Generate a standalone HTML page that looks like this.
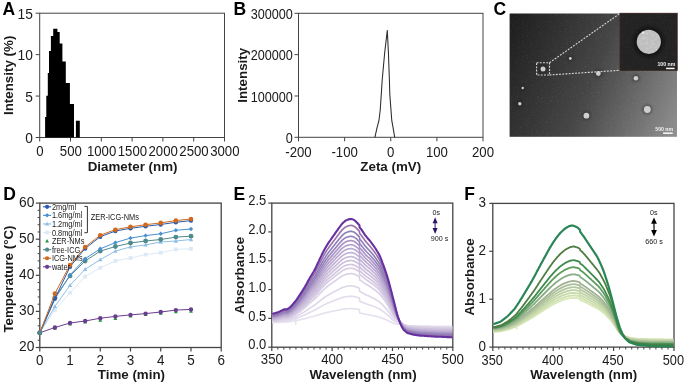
<!DOCTYPE html>
<html><head><meta charset="utf-8"><style>
html,body{margin:0;padding:0;background:#fff;}
svg{display:block;font-family:'Liberation Sans',sans-serif;will-change:transform;}
</style></head><body>
<svg width="685" height="385" viewBox="0 0 685 385" style="font-family:'Liberation Sans',sans-serif">
<rect width="685" height="385" fill="#fff"/>
<rect x="39.70" y="13.20" width="184.80" height="124.30" fill="none" stroke="#444" stroke-width="1"/>
<line x1="35.70" y1="137.50" x2="39.70" y2="137.50" stroke="#444" stroke-width="1"/>
<text x="0" y="0" font-size="13.9" text-anchor="end" font-weight="normal" fill="#1a1a1a"  transform="translate(32.80,143.19) scale(0.99,1)">0</text>
<line x1="35.70" y1="96.07" x2="39.70" y2="96.07" stroke="#444" stroke-width="1"/>
<text x="0" y="0" font-size="13.9" text-anchor="end" font-weight="normal" fill="#1a1a1a"  transform="translate(32.80,101.76) scale(0.99,1)">5</text>
<line x1="35.70" y1="54.63" x2="39.70" y2="54.63" stroke="#444" stroke-width="1"/>
<text x="0" y="0" font-size="13.9" text-anchor="end" font-weight="normal" fill="#1a1a1a"  transform="translate(32.80,60.33) scale(0.99,1)">10</text>
<line x1="35.70" y1="13.20" x2="39.70" y2="13.20" stroke="#444" stroke-width="1"/>
<text x="0" y="0" font-size="13.9" text-anchor="end" font-weight="normal" fill="#1a1a1a"  transform="translate(32.80,18.89) scale(0.99,1)">15</text>
<line x1="39.70" y1="137.50" x2="39.70" y2="141.50" stroke="#444" stroke-width="1"/>
<text x="0" y="0" font-size="13.9" text-anchor="middle" font-weight="normal" fill="#1a1a1a"  transform="translate(40.00,156.29) scale(0.95,1)">0</text>
<line x1="70.50" y1="137.50" x2="70.50" y2="141.50" stroke="#444" stroke-width="1"/>
<text x="0" y="0" font-size="13.9" text-anchor="middle" font-weight="normal" fill="#1a1a1a"  transform="translate(70.80,156.29) scale(0.95,1)">500</text>
<line x1="101.30" y1="137.50" x2="101.30" y2="141.50" stroke="#444" stroke-width="1"/>
<text x="0" y="0" font-size="13.9" text-anchor="middle" font-weight="normal" fill="#1a1a1a"  transform="translate(101.60,156.29) scale(0.95,1)">1000</text>
<line x1="132.10" y1="137.50" x2="132.10" y2="141.50" stroke="#444" stroke-width="1"/>
<text x="0" y="0" font-size="13.9" text-anchor="middle" font-weight="normal" fill="#1a1a1a"  transform="translate(132.40,156.29) scale(0.95,1)">1500</text>
<line x1="162.90" y1="137.50" x2="162.90" y2="141.50" stroke="#444" stroke-width="1"/>
<text x="0" y="0" font-size="13.9" text-anchor="middle" font-weight="normal" fill="#1a1a1a"  transform="translate(163.20,156.29) scale(0.95,1)">2000</text>
<line x1="193.70" y1="137.50" x2="193.70" y2="141.50" stroke="#444" stroke-width="1"/>
<text x="0" y="0" font-size="13.9" text-anchor="middle" font-weight="normal" fill="#1a1a1a"  transform="translate(194.00,156.29) scale(0.95,1)">2500</text>
<line x1="224.50" y1="137.50" x2="224.50" y2="141.50" stroke="#444" stroke-width="1"/>
<text x="0" y="0" font-size="13.9" text-anchor="middle" font-weight="normal" fill="#1a1a1a"  transform="translate(224.80,156.29) scale(0.95,1)">3000</text>
<text x="132.60" y="171.20" font-size="13.35" text-anchor="middle" font-weight="bold" fill="#1a1a1a" >Diameter (nm)</text>
<text x="0" y="0" font-size="13.35" font-weight="bold" text-anchor="middle" fill="#1a1a1a" transform="translate(13.40,75.35) rotate(-90)">Intensity (%)</text>
<text x="2.60" y="14.80" font-size="17.5" text-anchor="start" font-weight="bold" fill="#000" >A</text>
<path d="M45.10,137.50 L45.10,116.90 L46.30,116.90 L46.30,95.80 L47.80,95.80 L47.80,73.00 L49.00,73.00 L49.00,50.90 L50.90,50.90 L50.90,36.10 L53.20,36.10 L53.20,28.80 L57.40,28.80 L57.40,32.00 L59.70,32.00 L59.70,43.40 L62.40,43.40 L62.40,61.60 L65.80,61.60 L65.80,82.90 L69.90,82.90 L69.90,103.90 L74.00,103.90 L74.00,137.50 L75.90,137.50 L75.90,120.80 L79.80,120.80 L79.80,137.50 Z" fill="#000"/>
<rect x="298.50" y="13.30" width="184.50" height="124.00" fill="none" stroke="#444" stroke-width="1"/>
<line x1="294.50" y1="137.30" x2="298.50" y2="137.30" stroke="#444" stroke-width="1"/>
<text x="0" y="0" font-size="13.9" text-anchor="end" font-weight="normal" fill="#1a1a1a"  transform="translate(292.90,142.84) scale(0.91,1)">0</text>
<line x1="294.50" y1="95.97" x2="298.50" y2="95.97" stroke="#444" stroke-width="1"/>
<text x="0" y="0" font-size="13.9" text-anchor="end" font-weight="normal" fill="#1a1a1a"  transform="translate(292.90,101.51) scale(0.91,1)">100000</text>
<line x1="294.50" y1="54.63" x2="298.50" y2="54.63" stroke="#444" stroke-width="1"/>
<text x="0" y="0" font-size="13.9" text-anchor="end" font-weight="normal" fill="#1a1a1a"  transform="translate(292.90,60.18) scale(0.91,1)">200000</text>
<line x1="294.50" y1="13.30" x2="298.50" y2="13.30" stroke="#444" stroke-width="1"/>
<text x="0" y="0" font-size="13.9" text-anchor="end" font-weight="normal" fill="#1a1a1a"  transform="translate(292.90,18.84) scale(0.91,1)">300000</text>
<line x1="298.50" y1="137.30" x2="298.50" y2="141.30" stroke="#444" stroke-width="1"/>
<text x="0" y="0" font-size="13.9" text-anchor="middle" font-weight="normal" fill="#1a1a1a"  transform="translate(298.50,156.69) scale(0.95,1)">-200</text>
<line x1="344.62" y1="137.30" x2="344.62" y2="141.30" stroke="#444" stroke-width="1"/>
<text x="0" y="0" font-size="13.9" text-anchor="middle" font-weight="normal" fill="#1a1a1a"  transform="translate(344.62,156.69) scale(0.95,1)">-100</text>
<line x1="390.75" y1="137.30" x2="390.75" y2="141.30" stroke="#444" stroke-width="1"/>
<text x="0" y="0" font-size="13.9" text-anchor="middle" font-weight="normal" fill="#1a1a1a"  transform="translate(390.75,156.69) scale(0.95,1)">0</text>
<line x1="436.88" y1="137.30" x2="436.88" y2="141.30" stroke="#444" stroke-width="1"/>
<text x="0" y="0" font-size="13.9" text-anchor="middle" font-weight="normal" fill="#1a1a1a"  transform="translate(436.88,156.69) scale(0.95,1)">100</text>
<line x1="483.00" y1="137.30" x2="483.00" y2="141.30" stroke="#444" stroke-width="1"/>
<text x="0" y="0" font-size="13.9" text-anchor="middle" font-weight="normal" fill="#1a1a1a"  transform="translate(483.00,156.69) scale(0.95,1)">200</text>
<text x="390.75" y="170.60" font-size="13.35" text-anchor="middle" font-weight="bold" fill="#1a1a1a" >Zeta (mV)</text>
<text x="0" y="0" font-size="13.35" font-weight="bold" text-anchor="middle" fill="#1a1a1a" transform="translate(246.60,75.30) rotate(-90)">Intensity</text>
<text x="233.60" y="14.90" font-size="17.5" text-anchor="start" font-weight="bold" fill="#000" >B</text>
<polyline points="374.9,137.3 377.0,127.9 378.9,120.7 380.2,110.2 381.3,94.1 382.2,80.0 384.7,52.5 387.3,30.4 388.4,52.5 389.4,80.0 389.8,94.1 391.0,110.2 391.8,120.7 393.1,127.9 394.7,137.3" fill="none" stroke="#2a2a2a" stroke-width="1.05" stroke-linejoin="round" />
<rect x="39.80" y="203.10" width="181.40" height="144.40" fill="none" stroke="#444" stroke-width="1.3"/>
<line x1="35.80" y1="347.50" x2="39.80" y2="347.50" stroke="#444" stroke-width="1.2"/>
<text x="0" y="0" font-size="13.9" text-anchor="end" font-weight="normal" fill="#1a1a1a"  transform="translate(34.40,351.39) scale(0.99,1)">20</text>
<line x1="37.60" y1="340.28" x2="39.80" y2="340.28" stroke="#444" stroke-width="1"/>
<line x1="37.60" y1="333.06" x2="39.80" y2="333.06" stroke="#444" stroke-width="1"/>
<line x1="37.60" y1="325.84" x2="39.80" y2="325.84" stroke="#444" stroke-width="1"/>
<line x1="37.60" y1="318.62" x2="39.80" y2="318.62" stroke="#444" stroke-width="1"/>
<line x1="35.80" y1="311.40" x2="39.80" y2="311.40" stroke="#444" stroke-width="1.2"/>
<text x="0" y="0" font-size="13.9" text-anchor="end" font-weight="normal" fill="#1a1a1a"  transform="translate(34.40,315.29) scale(0.99,1)">30</text>
<line x1="37.60" y1="304.18" x2="39.80" y2="304.18" stroke="#444" stroke-width="1"/>
<line x1="37.60" y1="296.96" x2="39.80" y2="296.96" stroke="#444" stroke-width="1"/>
<line x1="37.60" y1="289.74" x2="39.80" y2="289.74" stroke="#444" stroke-width="1"/>
<line x1="37.60" y1="282.52" x2="39.80" y2="282.52" stroke="#444" stroke-width="1"/>
<line x1="35.80" y1="275.30" x2="39.80" y2="275.30" stroke="#444" stroke-width="1.2"/>
<text x="0" y="0" font-size="13.9" text-anchor="end" font-weight="normal" fill="#1a1a1a"  transform="translate(34.40,279.19) scale(0.99,1)">40</text>
<line x1="37.60" y1="268.08" x2="39.80" y2="268.08" stroke="#444" stroke-width="1"/>
<line x1="37.60" y1="260.86" x2="39.80" y2="260.86" stroke="#444" stroke-width="1"/>
<line x1="37.60" y1="253.64" x2="39.80" y2="253.64" stroke="#444" stroke-width="1"/>
<line x1="37.60" y1="246.42" x2="39.80" y2="246.42" stroke="#444" stroke-width="1"/>
<line x1="35.80" y1="239.20" x2="39.80" y2="239.20" stroke="#444" stroke-width="1.2"/>
<text x="0" y="0" font-size="13.9" text-anchor="end" font-weight="normal" fill="#1a1a1a"  transform="translate(34.40,243.09) scale(0.99,1)">50</text>
<line x1="37.60" y1="231.98" x2="39.80" y2="231.98" stroke="#444" stroke-width="1"/>
<line x1="37.60" y1="224.76" x2="39.80" y2="224.76" stroke="#444" stroke-width="1"/>
<line x1="37.60" y1="217.54" x2="39.80" y2="217.54" stroke="#444" stroke-width="1"/>
<line x1="37.60" y1="210.32" x2="39.80" y2="210.32" stroke="#444" stroke-width="1"/>
<line x1="35.80" y1="203.10" x2="39.80" y2="203.10" stroke="#444" stroke-width="1.2"/>
<text x="0" y="0" font-size="13.9" text-anchor="end" font-weight="normal" fill="#1a1a1a"  transform="translate(34.40,206.99) scale(0.99,1)">60</text>
<line x1="39.80" y1="347.50" x2="39.80" y2="351.50" stroke="#444" stroke-width="1.2"/>
<text x="0" y="0" font-size="13.9" text-anchor="middle" font-weight="normal" fill="#1a1a1a"  transform="translate(39.80,364.79) scale(0.97,1)">0</text>
<line x1="70.03" y1="347.50" x2="70.03" y2="351.50" stroke="#444" stroke-width="1.2"/>
<text x="0" y="0" font-size="13.9" text-anchor="middle" font-weight="normal" fill="#1a1a1a"  transform="translate(70.03,364.79) scale(0.97,1)">1</text>
<line x1="100.27" y1="347.50" x2="100.27" y2="351.50" stroke="#444" stroke-width="1.2"/>
<text x="0" y="0" font-size="13.9" text-anchor="middle" font-weight="normal" fill="#1a1a1a"  transform="translate(100.27,364.79) scale(0.97,1)">2</text>
<line x1="130.50" y1="347.50" x2="130.50" y2="351.50" stroke="#444" stroke-width="1.2"/>
<text x="0" y="0" font-size="13.9" text-anchor="middle" font-weight="normal" fill="#1a1a1a"  transform="translate(130.50,364.79) scale(0.97,1)">3</text>
<line x1="160.73" y1="347.50" x2="160.73" y2="351.50" stroke="#444" stroke-width="1.2"/>
<text x="0" y="0" font-size="13.9" text-anchor="middle" font-weight="normal" fill="#1a1a1a"  transform="translate(160.73,364.79) scale(0.97,1)">4</text>
<line x1="190.97" y1="347.50" x2="190.97" y2="351.50" stroke="#444" stroke-width="1.2"/>
<text x="0" y="0" font-size="13.9" text-anchor="middle" font-weight="normal" fill="#1a1a1a"  transform="translate(190.97,364.79) scale(0.97,1)">5</text>
<line x1="221.20" y1="347.50" x2="221.20" y2="351.50" stroke="#444" stroke-width="1.2"/>
<text x="0" y="0" font-size="13.9" text-anchor="middle" font-weight="normal" fill="#1a1a1a"  transform="translate(221.20,364.79) scale(0.97,1)">6</text>
<text x="131.40" y="379.20" font-size="13.35" text-anchor="middle" font-weight="bold" fill="#1a1a1a" >Time (min)</text>
<text x="0" y="0" font-size="13.3" font-weight="bold" text-anchor="middle" fill="#1a1a1a" transform="translate(12.80,279.00) rotate(-90)">Temperature (°C)</text>
<text x="3.20" y="199.90" font-size="17.5" text-anchor="start" font-weight="bold" fill="#000" >D</text>
<path d="M39.80,331.20 L41.70,334.70 L37.90,334.70Z" fill="#1f9a3a"/>
<path d="M54.92,326.30 L56.82,329.80 L53.02,329.80Z" fill="#1f9a3a"/>
<path d="M70.03,322.00 L71.93,325.50 L68.13,325.50Z" fill="#1f9a3a"/>
<path d="M85.15,320.00 L87.05,323.50 L83.25,323.50Z" fill="#1f9a3a"/>
<path d="M100.27,318.20 L102.17,321.70 L98.37,321.70Z" fill="#1f9a3a"/>
<path d="M115.38,316.60 L117.28,320.10 L113.48,320.10Z" fill="#1f9a3a"/>
<path d="M130.50,314.00 L132.40,317.50 L128.60,317.50Z" fill="#1f9a3a"/>
<path d="M145.62,312.60 L147.52,316.10 L143.72,316.10Z" fill="#1f9a3a"/>
<path d="M160.73,311.20 L162.63,314.70 L158.83,314.70Z" fill="#1f9a3a"/>
<path d="M175.85,309.80 L177.75,313.30 L173.95,313.30Z" fill="#1f9a3a"/>
<path d="M190.97,309.20 L192.87,312.70 L189.07,312.70Z" fill="#1f9a3a"/>
<polyline points="39.8,332.8 54.9,310.0 70.0,292.8 85.1,276.6 100.3,267.8 115.4,260.9 130.5,258.0 145.6,254.6 160.7,252.7 175.8,249.4 191.0,248.8" fill="none" stroke="#dde9f5" stroke-width="1.0" stroke-linejoin="round" />
<rect x="37.90" y="330.90" width="3.80" height="3.80" fill="#dde9f5"/>
<rect x="53.02" y="308.10" width="3.80" height="3.80" fill="#dde9f5"/>
<rect x="68.13" y="290.90" width="3.80" height="3.80" fill="#dde9f5"/>
<rect x="83.25" y="274.70" width="3.80" height="3.80" fill="#dde9f5"/>
<rect x="98.37" y="265.90" width="3.80" height="3.80" fill="#dde9f5"/>
<rect x="113.48" y="259.00" width="3.80" height="3.80" fill="#dde9f5"/>
<rect x="128.60" y="256.10" width="3.80" height="3.80" fill="#dde9f5"/>
<rect x="143.72" y="252.70" width="3.80" height="3.80" fill="#dde9f5"/>
<rect x="158.83" y="250.80" width="3.80" height="3.80" fill="#dde9f5"/>
<rect x="173.95" y="247.50" width="3.80" height="3.80" fill="#dde9f5"/>
<rect x="189.07" y="246.90" width="3.80" height="3.80" fill="#dde9f5"/>
<polyline points="39.8,332.8 54.9,306.4 70.0,285.3 85.1,269.3 100.3,259.6 115.4,251.1 130.5,246.9 145.6,244.9 160.7,242.0 175.8,241.0 191.0,239.5" fill="none" stroke="#8fc0e4" stroke-width="1.0" stroke-linejoin="round" />
<path d="M39.80,330.60 L42.00,334.45 L37.60,334.45Z" fill="#8fc0e4"/>
<path d="M54.92,304.20 L57.12,308.05 L52.72,308.05Z" fill="#8fc0e4"/>
<path d="M70.03,283.10 L72.23,286.95 L67.83,286.95Z" fill="#8fc0e4"/>
<path d="M85.15,267.10 L87.35,270.95 L82.95,270.95Z" fill="#8fc0e4"/>
<path d="M100.27,257.40 L102.47,261.25 L98.07,261.25Z" fill="#8fc0e4"/>
<path d="M115.38,248.90 L117.58,252.75 L113.18,252.75Z" fill="#8fc0e4"/>
<path d="M130.50,244.70 L132.70,248.55 L128.30,248.55Z" fill="#8fc0e4"/>
<path d="M145.62,242.70 L147.82,246.55 L143.42,246.55Z" fill="#8fc0e4"/>
<path d="M160.73,239.80 L162.93,243.65 L158.53,243.65Z" fill="#8fc0e4"/>
<path d="M175.85,238.80 L178.05,242.65 L173.65,242.65Z" fill="#8fc0e4"/>
<path d="M190.97,237.30 L193.17,241.15 L188.77,241.15Z" fill="#8fc0e4"/>
<polyline points="39.8,332.8 54.9,297.3 70.0,275.9 85.1,261.0 100.3,251.1 115.4,246.5 130.5,243.0 145.6,241.0 160.7,239.5 175.8,237.1 191.0,236.2" fill="none" stroke="#4f8a8b" stroke-width="1.0" stroke-linejoin="round" />
<circle cx="39.80" cy="332.80" r="2.42" fill="#4f8a8b"/>
<circle cx="54.92" cy="297.30" r="2.42" fill="#4f8a8b"/>
<circle cx="70.03" cy="275.90" r="2.42" fill="#4f8a8b"/>
<circle cx="85.15" cy="261.00" r="2.42" fill="#4f8a8b"/>
<circle cx="100.27" cy="251.10" r="2.42" fill="#4f8a8b"/>
<circle cx="115.38" cy="246.50" r="2.42" fill="#4f8a8b"/>
<circle cx="130.50" cy="243.00" r="2.42" fill="#4f8a8b"/>
<circle cx="145.62" cy="241.00" r="2.42" fill="#4f8a8b"/>
<circle cx="160.73" cy="239.50" r="2.42" fill="#4f8a8b"/>
<circle cx="175.85" cy="237.10" r="2.42" fill="#4f8a8b"/>
<circle cx="190.97" cy="236.20" r="2.42" fill="#4f8a8b"/>
<polyline points="39.8,332.8 54.9,299.0 70.0,275.0 85.1,258.7 100.3,248.8 115.4,242.6 130.5,238.1 145.6,235.6 160.7,233.8 175.8,230.3 191.0,229.0" fill="none" stroke="#4a8fd0" stroke-width="1.0" stroke-linejoin="round" />
<path d="M39.80,330.62 L41.98,332.80 L39.80,334.99 L37.61,332.80Z" fill="#4a8fd0"/>
<path d="M54.92,296.81 L57.10,299.00 L54.92,301.19 L52.73,299.00Z" fill="#4a8fd0"/>
<path d="M70.03,272.81 L72.22,275.00 L70.03,277.19 L67.85,275.00Z" fill="#4a8fd0"/>
<path d="M85.15,256.51 L87.33,258.70 L85.15,260.88 L82.96,258.70Z" fill="#4a8fd0"/>
<path d="M100.27,246.62 L102.45,248.80 L100.27,250.99 L98.08,248.80Z" fill="#4a8fd0"/>
<path d="M115.38,240.41 L117.57,242.60 L115.38,244.78 L113.20,242.60Z" fill="#4a8fd0"/>
<path d="M130.50,235.91 L132.69,238.10 L130.50,240.28 L128.31,238.10Z" fill="#4a8fd0"/>
<path d="M145.62,233.41 L147.80,235.60 L145.62,237.78 L143.43,235.60Z" fill="#4a8fd0"/>
<path d="M160.73,231.62 L162.92,233.80 L160.73,235.99 L158.55,233.80Z" fill="#4a8fd0"/>
<path d="M175.85,228.12 L178.03,230.30 L175.85,232.49 L173.66,230.30Z" fill="#4a8fd0"/>
<path d="M190.97,226.81 L193.15,229.00 L190.97,231.19 L188.78,229.00Z" fill="#4a8fd0"/>
<polyline points="39.8,332.8 54.9,327.5 70.0,323.0 85.1,321.0 100.3,318.2 115.4,316.4 130.5,314.9 145.6,313.6 160.7,312.0 175.8,310.1 191.0,309.4" fill="none" stroke="#6a3d8f" stroke-width="1.0" stroke-linejoin="round" />
<circle cx="39.80" cy="332.80" r="2.20" fill="#6a3d8f"/>
<circle cx="54.92" cy="327.50" r="2.20" fill="#6a3d8f"/>
<circle cx="70.03" cy="323.00" r="2.20" fill="#6a3d8f"/>
<circle cx="85.15" cy="321.00" r="2.20" fill="#6a3d8f"/>
<circle cx="100.27" cy="318.20" r="2.20" fill="#6a3d8f"/>
<circle cx="115.38" cy="316.40" r="2.20" fill="#6a3d8f"/>
<circle cx="130.50" cy="314.90" r="2.20" fill="#6a3d8f"/>
<circle cx="145.62" cy="313.60" r="2.20" fill="#6a3d8f"/>
<circle cx="160.73" cy="312.00" r="2.20" fill="#6a3d8f"/>
<circle cx="175.85" cy="310.10" r="2.20" fill="#6a3d8f"/>
<circle cx="190.97" cy="309.40" r="2.20" fill="#6a3d8f"/>
<polyline points="39.8,332.8 54.9,298.6 70.0,266.8 85.1,248.5 100.3,236.7 115.4,231.0 130.5,228.3 145.6,226.3 160.7,224.5 175.8,222.3 191.0,220.6" fill="none" stroke="#2a5caa" stroke-width="1.0" stroke-linejoin="round" />
<circle cx="39.80" cy="332.80" r="2.20" fill="#2a5caa"/>
<circle cx="54.92" cy="298.60" r="2.20" fill="#2a5caa"/>
<circle cx="70.03" cy="266.80" r="2.20" fill="#2a5caa"/>
<circle cx="85.15" cy="248.50" r="2.20" fill="#2a5caa"/>
<circle cx="100.27" cy="236.70" r="2.20" fill="#2a5caa"/>
<circle cx="115.38" cy="231.00" r="2.20" fill="#2a5caa"/>
<circle cx="130.50" cy="228.30" r="2.20" fill="#2a5caa"/>
<circle cx="145.62" cy="226.30" r="2.20" fill="#2a5caa"/>
<circle cx="160.73" cy="224.50" r="2.20" fill="#2a5caa"/>
<circle cx="175.85" cy="222.30" r="2.20" fill="#2a5caa"/>
<circle cx="190.97" cy="220.60" r="2.20" fill="#2a5caa"/>
<polyline points="39.8,332.8 54.9,293.6 70.0,265.0 85.1,247.0 100.3,235.2 115.4,229.7 130.5,226.8 145.6,224.7 160.7,222.9 175.8,220.6 191.0,219.0" fill="none" stroke="#d2691e" stroke-width="1.0" stroke-linejoin="round" />
<circle cx="39.80" cy="332.80" r="2.31" fill="#d2691e"/>
<circle cx="54.92" cy="293.60" r="2.31" fill="#d2691e"/>
<circle cx="70.03" cy="265.00" r="2.31" fill="#d2691e"/>
<circle cx="85.15" cy="247.00" r="2.31" fill="#d2691e"/>
<circle cx="100.27" cy="235.20" r="2.31" fill="#d2691e"/>
<circle cx="115.38" cy="229.70" r="2.31" fill="#d2691e"/>
<circle cx="130.50" cy="226.80" r="2.31" fill="#d2691e"/>
<circle cx="145.62" cy="224.70" r="2.31" fill="#d2691e"/>
<circle cx="160.73" cy="222.90" r="2.31" fill="#d2691e"/>
<circle cx="175.85" cy="220.60" r="2.31" fill="#d2691e"/>
<circle cx="190.97" cy="219.00" r="2.31" fill="#d2691e"/>
<circle cx="39.80" cy="332.80" r="2.42" fill="#4f8a8b"/>
<line x1="43.00" y1="206.80" x2="51.20" y2="206.80" stroke="#2a5caa" stroke-width="1.1"/>
<circle cx="47.10" cy="206.80" r="2.09" fill="#2a5caa"/>
<text x="0" y="0" font-size="8.6" text-anchor="start" font-weight="normal" fill="#1a1a1a"  transform="translate(51.90,209.80) scale(0.86,1)">2mg/ml</text>
<line x1="43.00" y1="215.37" x2="51.20" y2="215.37" stroke="#4a8fd0" stroke-width="1.1"/>
<path d="M47.10,213.19 L49.29,215.37 L47.10,217.56 L44.91,215.37Z" fill="#4a8fd0"/>
<text x="0" y="0" font-size="8.6" text-anchor="start" font-weight="normal" fill="#1a1a1a"  transform="translate(51.90,218.37) scale(0.86,1)">1.6mg/ml</text>
<line x1="43.00" y1="223.94" x2="51.20" y2="223.94" stroke="#8fc0e4" stroke-width="1.1"/>
<path d="M47.10,221.85 L49.19,225.51 L45.01,225.51Z" fill="#8fc0e4"/>
<text x="0" y="0" font-size="8.6" text-anchor="start" font-weight="normal" fill="#1a1a1a"  transform="translate(51.90,226.94) scale(0.86,1)">1.2mg/ml</text>
<line x1="43.00" y1="232.51" x2="51.20" y2="232.51" stroke="#dde9f5" stroke-width="1.1"/>
<rect x="45.30" y="230.71" width="3.61" height="3.61" fill="#dde9f5"/>
<text x="0" y="0" font-size="8.6" text-anchor="start" font-weight="normal" fill="#1a1a1a"  transform="translate(51.90,235.51) scale(0.86,1)">0.8mg/ml</text>
<path d="M47.10,238.99 L49.00,242.60 L45.20,242.60Z" fill="#1f9a3a"/>
<text x="0" y="0" font-size="8.6" text-anchor="start" font-weight="normal" fill="#1a1a1a"  transform="translate(51.90,244.08) scale(0.86,1)">ZER-NMs</text>
<line x1="43.00" y1="249.65" x2="51.20" y2="249.65" stroke="#4f8a8b" stroke-width="1.1"/>
<circle cx="47.10" cy="249.65" r="2.09" fill="#4f8a8b"/>
<text x="0" y="0" font-size="8.6" text-anchor="start" font-weight="normal" fill="#1a1a1a"  transform="translate(51.90,252.65) scale(0.86,1)">free-ICG</text>
<line x1="43.00" y1="258.22" x2="51.20" y2="258.22" stroke="#d2691e" stroke-width="1.1"/>
<circle cx="47.10" cy="258.22" r="2.09" fill="#d2691e"/>
<text x="0" y="0" font-size="8.6" text-anchor="start" font-weight="normal" fill="#1a1a1a"  transform="translate(51.90,261.22) scale(0.86,1)">ICG-NMs</text>
<line x1="43.00" y1="266.79" x2="51.20" y2="266.79" stroke="#6a3d8f" stroke-width="1.1"/>
<circle cx="47.10" cy="266.79" r="2.09" fill="#6a3d8f"/>
<text x="0" y="0" font-size="8.6" text-anchor="start" font-weight="normal" fill="#1a1a1a"  transform="translate(51.90,269.79) scale(0.86,1)">water</text>
<path d="M84.4,206.4 H87.4 V232.7 H84.4" fill="none" stroke="#333" stroke-width="1"/>
<text x="0" y="0" font-size="8.6" text-anchor="start" font-weight="normal" fill="#1a1a1a"  transform="translate(90.80,220.30) scale(0.86,1)">ZER-ICG-NMs</text>
<rect x="271.80" y="203.10" width="181.00" height="144.10" fill="none" stroke="#444" stroke-width="1.3"/>
<line x1="271.80" y1="347.20" x2="271.80" y2="351.00" stroke="#444" stroke-width="1.2"/>
<text x="0" y="0" font-size="13.9" text-anchor="middle" font-weight="normal" fill="#1a1a1a"  transform="translate(271.80,364.49) scale(0.95,1)">350</text>
<line x1="277.83" y1="347.20" x2="277.83" y2="349.60" stroke="#444" stroke-width="1"/>
<line x1="283.87" y1="347.20" x2="283.87" y2="349.60" stroke="#444" stroke-width="1"/>
<line x1="289.90" y1="347.20" x2="289.90" y2="349.60" stroke="#444" stroke-width="1"/>
<line x1="295.93" y1="347.20" x2="295.93" y2="349.60" stroke="#444" stroke-width="1"/>
<line x1="301.97" y1="347.20" x2="301.97" y2="349.60" stroke="#444" stroke-width="1"/>
<line x1="308.00" y1="347.20" x2="308.00" y2="349.60" stroke="#444" stroke-width="1"/>
<line x1="314.03" y1="347.20" x2="314.03" y2="349.60" stroke="#444" stroke-width="1"/>
<line x1="320.07" y1="347.20" x2="320.07" y2="349.60" stroke="#444" stroke-width="1"/>
<line x1="326.10" y1="347.20" x2="326.10" y2="349.60" stroke="#444" stroke-width="1"/>
<line x1="332.13" y1="347.20" x2="332.13" y2="351.00" stroke="#444" stroke-width="1.2"/>
<text x="0" y="0" font-size="13.9" text-anchor="middle" font-weight="normal" fill="#1a1a1a"  transform="translate(332.13,364.49) scale(0.95,1)">400</text>
<line x1="338.17" y1="347.20" x2="338.17" y2="349.60" stroke="#444" stroke-width="1"/>
<line x1="344.20" y1="347.20" x2="344.20" y2="349.60" stroke="#444" stroke-width="1"/>
<line x1="350.23" y1="347.20" x2="350.23" y2="349.60" stroke="#444" stroke-width="1"/>
<line x1="356.27" y1="347.20" x2="356.27" y2="349.60" stroke="#444" stroke-width="1"/>
<line x1="362.30" y1="347.20" x2="362.30" y2="349.60" stroke="#444" stroke-width="1"/>
<line x1="368.33" y1="347.20" x2="368.33" y2="349.60" stroke="#444" stroke-width="1"/>
<line x1="374.37" y1="347.20" x2="374.37" y2="349.60" stroke="#444" stroke-width="1"/>
<line x1="380.40" y1="347.20" x2="380.40" y2="349.60" stroke="#444" stroke-width="1"/>
<line x1="386.43" y1="347.20" x2="386.43" y2="349.60" stroke="#444" stroke-width="1"/>
<line x1="392.47" y1="347.20" x2="392.47" y2="351.00" stroke="#444" stroke-width="1.2"/>
<text x="0" y="0" font-size="13.9" text-anchor="middle" font-weight="normal" fill="#1a1a1a"  transform="translate(392.47,364.49) scale(0.95,1)">450</text>
<line x1="398.50" y1="347.20" x2="398.50" y2="349.60" stroke="#444" stroke-width="1"/>
<line x1="404.53" y1="347.20" x2="404.53" y2="349.60" stroke="#444" stroke-width="1"/>
<line x1="410.57" y1="347.20" x2="410.57" y2="349.60" stroke="#444" stroke-width="1"/>
<line x1="416.60" y1="347.20" x2="416.60" y2="349.60" stroke="#444" stroke-width="1"/>
<line x1="422.63" y1="347.20" x2="422.63" y2="349.60" stroke="#444" stroke-width="1"/>
<line x1="428.67" y1="347.20" x2="428.67" y2="349.60" stroke="#444" stroke-width="1"/>
<line x1="434.70" y1="347.20" x2="434.70" y2="349.60" stroke="#444" stroke-width="1"/>
<line x1="440.73" y1="347.20" x2="440.73" y2="349.60" stroke="#444" stroke-width="1"/>
<line x1="446.77" y1="347.20" x2="446.77" y2="349.60" stroke="#444" stroke-width="1"/>
<line x1="452.80" y1="347.20" x2="452.80" y2="351.00" stroke="#444" stroke-width="1.2"/>
<text x="0" y="0" font-size="13.9" text-anchor="middle" font-weight="normal" fill="#1a1a1a"  transform="translate(452.80,364.49) scale(0.95,1)">500</text>
<line x1="268.30" y1="347.20" x2="271.80" y2="347.20" stroke="#444" stroke-width="1.2"/>
<text x="0" y="0" font-size="13.9" text-anchor="end" font-weight="normal" fill="#1a1a1a"  transform="translate(266.20,349.39) scale(0.93,1)">0.0</text>
<line x1="268.30" y1="318.38" x2="271.80" y2="318.38" stroke="#444" stroke-width="1.2"/>
<text x="0" y="0" font-size="13.9" text-anchor="end" font-weight="normal" fill="#1a1a1a"  transform="translate(266.20,320.57) scale(0.93,1)">0.5</text>
<line x1="268.30" y1="289.56" x2="271.80" y2="289.56" stroke="#444" stroke-width="1.2"/>
<text x="0" y="0" font-size="13.9" text-anchor="end" font-weight="normal" fill="#1a1a1a"  transform="translate(266.20,291.75) scale(0.93,1)">1.0</text>
<line x1="268.30" y1="260.74" x2="271.80" y2="260.74" stroke="#444" stroke-width="1.2"/>
<text x="0" y="0" font-size="13.9" text-anchor="end" font-weight="normal" fill="#1a1a1a"  transform="translate(266.20,262.93) scale(0.93,1)">1.5</text>
<line x1="268.30" y1="231.92" x2="271.80" y2="231.92" stroke="#444" stroke-width="1.2"/>
<text x="0" y="0" font-size="13.9" text-anchor="end" font-weight="normal" fill="#1a1a1a"  transform="translate(266.20,234.11) scale(0.93,1)">2.0</text>
<line x1="268.30" y1="203.10" x2="271.80" y2="203.10" stroke="#444" stroke-width="1.2"/>
<text x="0" y="0" font-size="13.9" text-anchor="end" font-weight="normal" fill="#1a1a1a"  transform="translate(266.20,205.29) scale(0.93,1)">2.5</text>
<text x="363.10" y="378.90" font-size="13.35" text-anchor="middle" font-weight="bold" fill="#1a1a1a" >Wavelength (nm)</text>
<text x="0" y="0" font-size="13.35" font-weight="bold" text-anchor="middle" fill="#1a1a1a" transform="translate(243.60,275.40) rotate(-90)">Absorbance</text>
<text x="233.60" y="199.50" font-size="17.5" text-anchor="start" font-weight="bold" fill="#000" >E</text>
<line x1="285.2" y1="308.6" x2="285.2" y2="323.2" stroke="#d9cde7" stroke-width="1"/>
<line x1="295.8" y1="301.0" x2="295.8" y2="324.6" stroke="#ddd2ea" stroke-width="1"/>
<polyline points="272.3,322.6 272.8,322.6 273.3,322.6 273.8,322.5 274.3,322.5 274.8,322.5 275.3,322.5 275.8,322.5 276.3,322.4 276.8,322.4 277.3,322.4 277.8,322.4 278.3,322.3 278.8,322.3 279.3,322.3 279.8,322.2 280.3,322.2 280.8,322.2 281.3,322.1 281.8,322.1 282.3,322.1 282.8,322.0 283.3,322.0 283.8,321.9 284.3,321.9 284.8,321.9 285.3,321.9 285.8,321.9 286.3,321.9 286.8,321.9 287.3,321.9 287.8,321.9 288.3,321.8 288.8,321.8 289.3,321.7 289.8,321.6 290.3,321.6 290.8,321.5 291.3,321.4 291.8,321.4 292.3,321.3 292.8,321.2 293.3,321.1 293.8,321.0 294.3,320.9 294.8,320.8 295.3,320.7 295.8,320.6 296.3,320.5 296.8,320.4 297.3,320.3 297.8,320.2 298.3,320.1 298.8,320.0 299.3,319.9 299.8,319.8 300.3,319.7 300.8,319.6 301.3,319.5 301.8,319.3 302.3,319.2 302.8,319.1 303.3,319.0 303.8,318.9 304.3,318.8 304.8,318.6 305.3,318.5 305.8,318.4 306.3,318.2 306.8,318.1 307.3,318.0 307.8,317.8 308.3,317.7 308.8,317.6 309.3,317.4 309.8,317.3 310.3,317.2 310.8,317.1 311.3,316.9 311.8,316.8 312.3,316.7 312.8,316.6 313.3,316.4 313.8,316.3 314.3,316.2 314.8,316.1 315.3,315.9 315.8,315.8 316.3,315.6 316.8,315.4 317.3,315.3 317.8,315.1 318.3,315.0 318.8,314.8 319.3,314.6 319.8,314.5 320.3,314.3 320.8,314.2 321.3,314.0 321.8,313.9 322.3,313.7 322.8,313.6 323.3,313.4 323.8,313.3 324.3,313.2 324.8,313.0 325.3,312.9 325.8,312.8 326.3,312.6 326.8,312.5 327.3,312.4 327.8,312.3 328.3,312.2 328.8,312.1 329.3,311.9 329.8,311.8 330.3,311.7 330.8,311.6 331.3,311.5 331.8,311.4 332.3,311.3 332.8,311.2 333.3,311.1 333.8,311.0 334.3,310.9 334.8,310.8 335.3,310.7 335.8,310.6 336.3,310.5 336.8,310.4 337.3,310.3 337.8,310.2 338.3,310.1 338.8,310.0 339.3,309.9 339.8,309.8 340.3,309.7 340.8,309.6 341.3,309.5 341.8,309.4 342.3,309.3 342.8,309.2 343.3,309.1 343.8,309.1 344.3,309.0 344.8,308.9 345.3,308.9 345.8,308.8 346.3,308.8 346.8,308.8 347.3,308.7 347.8,308.7 348.3,308.7 348.8,308.7 349.3,308.6 349.8,308.6 350.3,308.6 350.8,308.6 351.3,308.6 351.8,308.6 352.3,308.6 352.8,308.7 353.3,308.7 353.8,308.7 354.3,308.8 354.8,308.8 355.3,308.9 355.8,308.9 356.3,309.0 356.8,309.1 357.3,309.2 357.8,309.3 358.3,309.3 358.8,309.4 359.3,309.5 359.8,313.1 360.3,313.1 360.8,313.2 361.3,313.3 361.8,313.4 362.3,313.5 362.8,313.6 363.3,313.7 363.8,313.9 364.3,314.0 364.8,314.1 365.3,314.2 365.8,314.3 366.3,314.4 366.8,314.5 367.3,314.5 367.8,314.6 368.3,314.7 368.8,314.8 369.3,314.9 369.8,315.0 370.3,315.1 370.8,315.2 371.3,315.3 371.8,315.4 372.3,315.5 372.8,315.6 373.3,315.7 373.8,315.8 374.3,315.9 374.8,316.0 375.3,316.1 375.8,316.2 376.3,316.3 376.8,316.4 377.3,316.6 377.8,316.7 378.3,316.8 378.8,316.9 379.3,317.1 379.8,317.2 380.3,317.4 380.8,317.6 381.3,317.8 381.8,318.0 382.3,318.2 382.8,318.4 383.3,318.6 383.8,318.8 384.3,319.0 384.8,319.2 385.3,319.4 385.8,319.6 386.3,319.8 386.8,320.0 387.3,320.3 387.8,320.5 388.3,320.8 388.8,321.0 389.3,321.3 389.8,321.6 390.3,321.8 390.8,322.1 391.3,322.3 391.8,322.6 392.3,322.8 392.8,323.0 393.3,323.2 393.8,323.4 394.3,323.6 394.8,323.7 395.3,323.8 395.8,323.9 396.3,324.0 396.8,324.0 397.3,324.1 397.8,324.1 398.3,324.1 398.8,324.2 399.3,324.3 399.8,324.4 400.3,324.5 400.8,324.6 401.3,324.7 401.8,324.8 402.3,324.9 402.8,325.1 403.3,325.2 403.8,325.2 404.3,325.3 404.8,325.4 405.3,325.4 405.8,325.5 406.3,325.5 406.8,325.6 407.3,325.6 407.8,325.7 408.3,325.7 408.8,325.7 409.3,325.7 409.8,325.8 410.3,325.8 410.8,325.8 411.3,325.8 411.8,325.8 412.3,325.9 412.8,325.9 413.3,325.9 413.8,325.9 414.3,325.9 414.8,325.9 415.3,326.0 415.8,326.0 416.3,326.0 416.8,326.0 417.3,326.0 417.8,326.0 418.3,326.0 418.8,326.0 419.3,326.0 419.8,326.0 420.3,326.0 420.8,326.1 421.3,326.1 421.8,326.1 422.3,326.1 422.8,326.1 423.3,326.1 423.8,326.1 424.3,326.1 424.8,326.1 425.3,326.1 425.8,326.1 426.3,326.1 426.8,326.1 427.3,326.1 427.8,326.1 428.3,326.1 428.8,326.1 429.3,326.1 429.8,326.1 430.3,326.2 430.8,326.2 431.3,326.2 431.8,326.2 432.3,326.2 432.8,326.2 433.3,326.2 433.8,326.2 434.3,326.2 434.8,326.2 435.3,326.2 435.8,326.2 436.3,326.2 436.8,326.2 437.3,326.2 437.8,326.2 438.3,326.2 438.8,326.2 439.3,326.2 439.8,326.2 440.3,326.2 440.8,326.2 441.3,326.2 441.8,326.2 442.3,326.2 442.8,326.2 443.3,326.2 443.8,326.2 444.3,326.3 444.8,326.3 445.3,326.3 445.8,326.3 446.3,326.3 446.8,326.3 447.3,326.3 447.8,326.3 448.3,326.3 448.8,326.3 449.3,326.3 449.8,326.3 450.3,326.3 450.8,326.3 451.3,326.3 451.8,326.3 452.3,326.3" fill="none" stroke="#e7e1ef" stroke-width="1.65" stroke-linejoin="round" />
<polyline points="272.3,322.1 272.8,322.1 273.3,322.1 273.8,322.0 274.3,322.0 274.8,321.9 275.3,321.9 275.8,321.9 276.3,321.8 276.8,321.8 277.3,321.7 277.8,321.7 278.3,321.6 278.8,321.6 279.3,321.5 279.8,321.5 280.3,321.4 280.8,321.3 281.3,321.3 281.8,321.2 282.3,321.1 282.8,321.1 283.3,321.0 283.8,320.9 284.3,320.9 284.8,320.9 285.3,320.9 285.8,320.9 286.3,320.9 286.8,320.9 287.3,320.8 287.8,320.8 288.3,320.7 288.8,320.6 289.3,320.5 289.8,320.4 290.3,320.3 290.8,320.1 291.3,320.0 291.8,319.8 292.3,319.7 292.8,319.5 293.3,319.4 293.8,319.2 294.3,319.0 294.8,318.9 295.3,318.7 295.8,318.5 296.3,318.3 296.8,318.2 297.3,318.0 297.8,317.8 298.3,317.6 298.8,317.4 299.3,317.2 299.8,317.0 300.3,316.8 300.8,316.5 301.3,316.3 301.8,316.1 302.3,315.9 302.8,315.7 303.3,315.5 303.8,315.3 304.3,315.0 304.8,314.8 305.3,314.6 305.8,314.3 306.3,314.1 306.8,313.8 307.3,313.6 307.8,313.3 308.3,313.1 308.8,312.8 309.3,312.6 309.8,312.4 310.3,312.1 310.8,311.9 311.3,311.7 311.8,311.4 312.3,311.2 312.8,311.0 313.3,310.8 313.8,310.5 314.3,310.3 314.8,310.1 315.3,309.8 315.8,309.5 316.3,309.2 316.8,308.9 317.3,308.6 317.8,308.3 318.3,308.0 318.8,307.7 319.3,307.5 319.8,307.2 320.3,306.9 320.8,306.6 321.3,306.3 321.8,306.1 322.3,305.8 322.8,305.5 323.3,305.2 323.8,305.0 324.3,304.7 324.8,304.5 325.3,304.2 325.8,304.0 326.3,303.8 326.8,303.5 327.3,303.3 327.8,303.1 328.3,302.9 328.8,302.7 329.3,302.5 329.8,302.3 330.3,302.1 330.8,301.9 331.3,301.7 331.8,301.5 332.3,301.3 332.8,301.1 333.3,300.9 333.8,300.7 334.3,300.5 334.8,300.3 335.3,300.1 335.8,300.0 336.3,299.8 336.8,299.6 337.3,299.4 337.8,299.2 338.3,299.0 338.8,298.8 339.3,298.6 339.8,298.4 340.3,298.2 340.8,298.1 341.3,297.9 341.8,297.7 342.3,297.5 342.8,297.4 343.3,297.3 343.8,297.1 344.3,297.0 344.8,296.9 345.3,296.8 345.8,296.7 346.3,296.7 346.8,296.6 347.3,296.5 347.8,296.5 348.3,296.4 348.8,296.4 349.3,296.4 349.8,296.3 350.3,296.3 350.8,296.3 351.3,296.3 351.8,296.3 352.3,296.4 352.8,296.4 353.3,296.5 353.8,296.5 354.3,296.6 354.8,296.7 355.3,296.8 355.8,296.9 356.3,297.1 356.8,297.2 357.3,297.4 357.8,297.5 358.3,297.7 358.8,297.8 359.3,297.9 359.8,301.5 360.3,301.6 360.8,301.7 361.3,301.9 361.8,302.1 362.3,302.3 362.8,302.5 363.3,302.7 363.8,302.9 364.3,303.1 364.8,303.3 365.3,303.5 365.8,303.7 366.3,303.9 366.8,304.0 367.3,304.2 367.8,304.3 368.3,304.5 368.8,304.7 369.3,304.8 369.8,305.0 370.3,305.2 370.8,305.3 371.3,305.5 371.8,305.7 372.3,305.9 372.8,306.1 373.3,306.2 373.8,306.4 374.3,306.6 374.8,306.8 375.3,307.0 375.8,307.2 376.3,307.5 376.8,307.7 377.3,307.9 377.8,308.1 378.3,308.4 378.8,308.6 379.3,308.9 379.8,309.1 380.3,309.5 380.8,309.8 381.3,310.1 381.8,310.5 382.3,310.9 382.8,311.2 383.3,311.6 383.8,311.9 384.3,312.3 384.8,312.7 385.3,313.1 385.8,313.5 386.3,313.9 386.8,314.3 387.3,314.8 387.8,315.2 388.3,315.7 388.8,316.2 389.3,316.7 389.8,317.1 390.3,317.6 390.8,318.1 391.3,318.6 391.8,319.1 392.3,319.5 392.8,320.0 393.3,320.4 393.8,320.7 394.3,321.1 394.8,321.4 395.3,321.7 395.8,321.9 396.3,322.1 396.8,322.2 397.3,322.4 397.8,322.5 398.3,322.7 398.8,322.9 399.3,323.1 399.8,323.3 400.3,323.5 400.8,323.7 401.3,324.0 401.8,324.2 402.3,324.4 402.8,324.6 403.3,324.8 403.8,325.0 404.3,325.1 404.8,325.2 405.3,325.3 405.8,325.4 406.3,325.5 406.8,325.6 407.3,325.7 407.8,325.8 408.3,325.8 408.8,325.9 409.3,325.9 409.8,325.9 410.3,326.0 410.8,326.0 411.3,326.0 411.8,326.1 412.3,326.1 412.8,326.2 413.3,326.2 413.8,326.2 414.3,326.2 414.8,326.3 415.3,326.3 415.8,326.3 416.3,326.3 416.8,326.3 417.3,326.4 417.8,326.4 418.3,326.4 418.8,326.4 419.3,326.4 419.8,326.5 420.3,326.5 420.8,326.5 421.3,326.5 421.8,326.5 422.3,326.5 422.8,326.5 423.3,326.5 423.8,326.5 424.3,326.5 424.8,326.5 425.3,326.6 425.8,326.6 426.3,326.6 426.8,326.6 427.3,326.6 427.8,326.6 428.3,326.6 428.8,326.6 429.3,326.6 429.8,326.6 430.3,326.6 430.8,326.7 431.3,326.7 431.8,326.7 432.3,326.7 432.8,326.7 433.3,326.7 433.8,326.7 434.3,326.7 434.8,326.7 435.3,326.7 435.8,326.7 436.3,326.7 436.8,326.8 437.3,326.8 437.8,326.8 438.3,326.8 438.8,326.8 439.3,326.8 439.8,326.8 440.3,326.8 440.8,326.8 441.3,326.8 441.8,326.8 442.3,326.8 442.8,326.8 443.3,326.8 443.8,326.8 444.3,326.8 444.8,326.8 445.3,326.8 445.8,326.9 446.3,326.9 446.8,326.9 447.3,326.9 447.8,326.9 448.3,326.9 448.8,326.9 449.3,326.9 449.8,326.9 450.3,326.9 450.8,326.9 451.3,326.9 451.8,326.9 452.3,326.9" fill="none" stroke="#e3dcec" stroke-width="1.65" stroke-linejoin="round" />
<polyline points="272.3,321.6 272.8,321.6 273.3,321.6 273.8,321.5 274.3,321.5 274.8,321.4 275.3,321.3 275.8,321.3 276.3,321.2 276.8,321.2 277.3,321.1 277.8,321.1 278.3,321.0 278.8,320.9 279.3,320.8 279.8,320.7 280.3,320.6 280.8,320.5 281.3,320.4 281.8,320.3 282.3,320.3 282.8,320.2 283.3,320.1 283.8,320.0 284.3,319.9 284.8,319.9 285.3,319.9 285.8,319.9 286.3,320.0 286.8,319.9 287.3,319.9 287.8,319.8 288.3,319.6 288.8,319.5 289.3,319.4 289.8,319.2 290.3,319.1 290.8,318.9 291.3,318.7 291.8,318.5 292.3,318.3 292.8,318.0 293.3,317.8 293.8,317.6 294.3,317.4 294.8,317.2 295.3,316.9 295.8,316.7 296.3,316.4 296.8,316.2 297.3,315.9 297.8,315.6 298.3,315.4 298.8,315.1 299.3,314.8 299.8,314.5 300.3,314.2 300.8,313.9 301.3,313.6 301.8,313.3 302.3,313.0 302.8,312.7 303.3,312.4 303.8,312.1 304.3,311.8 304.8,311.5 305.3,311.2 305.8,310.8 306.3,310.5 306.8,310.2 307.3,309.8 307.8,309.5 308.3,309.1 308.8,308.8 309.3,308.4 309.8,308.1 310.3,307.8 310.8,307.5 311.3,307.2 311.8,306.9 312.3,306.6 312.8,306.3 313.3,305.9 313.8,305.6 314.3,305.3 314.8,304.9 315.3,304.6 315.8,304.2 316.3,303.8 316.8,303.4 317.3,303.0 317.8,302.6 318.3,302.2 318.8,301.7 319.3,301.3 319.8,301.0 320.3,300.6 320.8,300.2 321.3,299.8 321.8,299.4 322.3,299.0 322.8,298.6 323.3,298.3 323.8,297.9 324.3,297.5 324.8,297.2 325.3,296.9 325.8,296.5 326.3,296.2 326.8,295.9 327.3,295.6 327.8,295.3 328.3,295.0 328.8,294.7 329.3,294.4 329.8,294.2 330.3,293.9 330.8,293.6 331.3,293.4 331.8,293.1 332.3,292.8 332.8,292.6 333.3,292.3 333.8,292.0 334.3,291.8 334.8,291.5 335.3,291.2 335.8,291.0 336.3,290.7 336.8,290.4 337.3,290.2 337.8,289.9 338.3,289.6 338.8,289.4 339.3,289.1 339.8,288.8 340.3,288.6 340.8,288.3 341.3,288.1 341.8,287.8 342.3,287.6 342.8,287.4 343.3,287.2 343.8,287.1 344.3,286.9 344.8,286.7 345.3,286.6 345.8,286.5 346.3,286.4 346.8,286.3 347.3,286.2 347.8,286.1 348.3,286.1 348.8,286.0 349.3,286.0 349.8,286.0 350.3,285.9 350.8,285.9 351.3,285.9 351.8,285.9 352.3,286.0 352.8,286.0 353.3,286.1 353.8,286.2 354.3,286.3 354.8,286.5 355.3,286.6 355.8,286.8 356.3,287.0 356.8,287.2 357.3,287.4 357.8,287.6 358.3,287.8 358.8,288.0 359.3,288.2 359.8,291.7 360.3,291.8 360.8,292.0 361.3,292.2 361.8,292.5 362.3,292.8 362.8,293.1 363.3,293.3 363.8,293.6 364.3,293.9 364.8,294.2 365.3,294.5 365.8,294.7 366.3,294.9 366.8,295.2 367.3,295.4 367.8,295.6 368.3,295.8 368.8,296.1 369.3,296.3 369.8,296.5 370.3,296.7 370.8,297.0 371.3,297.2 371.8,297.5 372.3,297.7 372.8,298.0 373.3,298.2 373.8,298.5 374.3,298.8 374.8,299.0 375.3,299.3 375.8,299.6 376.3,299.9 376.8,300.3 377.3,300.6 377.8,300.9 378.3,301.2 378.8,301.5 379.3,301.9 379.8,302.3 380.3,302.7 380.8,303.2 381.3,303.6 381.8,304.1 382.3,304.6 382.8,305.1 383.3,305.6 383.8,306.1 384.3,306.7 384.8,307.2 385.3,307.8 385.8,308.3 386.3,308.9 386.8,309.5 387.3,310.1 387.8,310.7 388.3,311.3 388.8,312.0 389.3,312.7 389.8,313.3 390.3,314.0 390.8,314.7 391.3,315.4 391.8,316.0 392.3,316.7 392.8,317.3 393.3,317.9 393.8,318.4 394.3,318.9 394.8,319.4 395.3,319.8 395.8,320.2 396.3,320.5 396.8,320.8 397.3,321.0 397.8,321.3 398.3,321.5 398.8,321.8 399.3,322.1 399.8,322.5 400.3,322.8 400.8,323.1 401.3,323.4 401.8,323.7 402.3,324.1 402.8,324.3 403.3,324.6 403.8,324.8 404.3,325.0 404.8,325.2 405.3,325.3 405.8,325.5 406.3,325.6 406.8,325.8 407.3,325.9 407.8,326.0 408.3,326.0 408.8,326.1 409.3,326.1 409.8,326.2 410.3,326.2 410.8,326.3 411.3,326.3 411.8,326.4 412.3,326.4 412.8,326.5 413.3,326.5 413.8,326.6 414.3,326.6 414.8,326.6 415.3,326.7 415.8,326.7 416.3,326.7 416.8,326.7 417.3,326.8 417.8,326.8 418.3,326.8 418.8,326.9 419.3,326.9 419.8,326.9 420.3,326.9 420.8,326.9 421.3,326.9 421.8,327.0 422.3,327.0 422.8,327.0 423.3,327.0 423.8,327.0 424.3,327.0 424.8,327.0 425.3,327.1 425.8,327.1 426.3,327.1 426.8,327.1 427.3,327.1 427.8,327.1 428.3,327.1 428.8,327.1 429.3,327.2 429.8,327.2 430.3,327.2 430.8,327.2 431.3,327.2 431.8,327.2 432.3,327.2 432.8,327.2 433.3,327.3 433.8,327.3 434.3,327.3 434.8,327.3 435.3,327.3 435.8,327.3 436.3,327.3 436.8,327.3 437.3,327.3 437.8,327.3 438.3,327.3 438.8,327.4 439.3,327.4 439.8,327.4 440.3,327.4 440.8,327.4 441.3,327.4 441.8,327.4 442.3,327.4 442.8,327.4 443.3,327.4 443.8,327.4 444.3,327.4 444.8,327.4 445.3,327.4 445.8,327.5 446.3,327.5 446.8,327.5 447.3,327.5 447.8,327.5 448.3,327.5 448.8,327.5 449.3,327.5 449.8,327.5 450.3,327.5 450.8,327.5 451.3,327.5 451.8,327.5 452.3,327.5" fill="none" stroke="#dfd7e9" stroke-width="1.65" stroke-linejoin="round" />
<polyline points="272.3,321.1 272.8,321.1 273.3,321.0 273.8,321.0 274.3,320.9 274.8,320.8 275.3,320.8 275.8,320.7 276.3,320.6 276.8,320.5 277.3,320.5 277.8,320.4 278.3,320.3 278.8,320.2 279.3,320.0 279.8,319.9 280.3,319.8 280.8,319.7 281.3,319.6 281.8,319.4 282.3,319.3 282.8,319.2 283.3,319.1 283.8,319.0 284.3,318.9 284.8,318.9 285.3,318.9 285.8,318.9 286.3,318.9 286.8,318.9 287.3,318.8 287.8,318.6 288.3,318.5 288.8,318.3 289.3,318.1 289.8,317.9 290.3,317.7 290.8,317.5 291.3,317.2 291.8,317.0 292.3,316.7 292.8,316.4 293.3,316.1 293.8,315.8 294.3,315.5 294.8,315.2 295.3,314.9 295.8,314.5 296.3,314.2 296.8,313.8 297.3,313.5 297.8,313.1 298.3,312.8 298.8,312.4 299.3,312.1 299.8,311.7 300.3,311.3 300.8,310.9 301.3,310.5 301.8,310.1 302.3,309.7 302.8,309.3 303.3,308.9 303.8,308.5 304.3,308.1 304.8,307.7 305.3,307.2 305.8,306.8 306.3,306.3 306.8,305.9 307.3,305.4 307.8,305.0 308.3,304.5 308.8,304.0 309.3,303.6 309.8,303.2 310.3,302.7 310.8,302.3 311.3,301.9 311.8,301.5 312.3,301.1 312.8,300.7 313.3,300.3 313.8,299.8 314.3,299.4 314.8,298.9 315.3,298.4 315.8,297.9 316.3,297.4 316.8,296.8 317.3,296.3 317.8,295.8 318.3,295.2 318.8,294.7 319.3,294.2 319.8,293.6 320.3,293.1 320.8,292.6 321.3,292.1 321.8,291.6 322.3,291.1 322.8,290.5 323.3,290.0 323.8,289.5 324.3,289.1 324.8,288.6 325.3,288.2 325.8,287.8 326.3,287.3 326.8,286.9 327.3,286.5 327.8,286.1 328.3,285.7 328.8,285.3 329.3,285.0 329.8,284.6 330.3,284.3 330.8,283.9 331.3,283.5 331.8,283.2 332.3,282.8 332.8,282.5 333.3,282.1 333.8,281.8 334.3,281.4 334.8,281.0 335.3,280.7 335.8,280.3 336.3,280.0 336.8,279.6 337.3,279.3 337.8,278.9 338.3,278.6 338.8,278.2 339.3,277.9 339.8,277.5 340.3,277.2 340.8,276.8 341.3,276.5 341.8,276.2 342.3,275.9 342.8,275.6 343.3,275.4 343.8,275.2 344.3,274.9 344.8,274.7 345.3,274.5 345.8,274.4 346.3,274.2 346.8,274.1 347.3,274.0 347.8,273.9 348.3,273.8 348.8,273.8 349.3,273.7 349.8,273.7 350.3,273.6 350.8,273.6 351.3,273.6 351.8,273.6 352.3,273.7 352.8,273.8 353.3,273.9 353.8,274.0 354.3,274.2 354.8,274.3 355.3,274.6 355.8,274.8 356.3,275.0 356.8,275.3 357.3,275.6 357.8,275.8 358.3,276.1 358.8,276.4 359.3,276.6 359.8,280.1 360.3,280.2 360.8,280.5 361.3,280.8 361.8,281.2 362.3,281.6 362.8,281.9 363.3,282.3 363.8,282.7 364.3,283.1 364.8,283.4 365.3,283.8 365.8,284.1 366.3,284.4 366.8,284.7 367.3,285.0 367.8,285.3 368.3,285.6 368.8,285.9 369.3,286.2 369.8,286.5 370.3,286.8 370.8,287.1 371.3,287.5 371.8,287.8 372.3,288.1 372.8,288.5 373.3,288.8 373.8,289.2 374.3,289.5 374.8,289.9 375.3,290.3 375.8,290.7 376.3,291.1 376.8,291.5 377.3,291.9 377.8,292.3 378.3,292.8 378.8,293.2 379.3,293.7 379.8,294.2 380.3,294.7 380.8,295.4 381.3,296.0 381.8,296.6 382.3,297.3 382.8,298.0 383.3,298.7 383.8,299.3 384.3,300.0 384.8,300.7 385.3,301.5 385.8,302.2 386.3,303.0 386.8,303.7 387.3,304.5 387.8,305.4 388.3,306.2 388.8,307.1 389.3,308.0 389.8,308.9 390.3,309.8 390.8,310.7 391.3,311.6 391.8,312.5 392.3,313.4 392.8,314.2 393.3,315.0 393.8,315.7 394.3,316.4 394.8,317.0 395.3,317.6 395.8,318.1 396.3,318.6 396.8,319.0 397.3,319.4 397.8,319.7 398.3,320.1 398.8,320.5 399.3,320.9 399.8,321.4 400.3,321.8 400.8,322.3 401.3,322.7 401.8,323.1 402.3,323.5 402.8,323.9 403.3,324.3 403.8,324.6 404.3,324.8 404.8,325.0 405.3,325.2 405.8,325.4 406.3,325.6 406.8,325.8 407.3,326.0 407.8,326.1 408.3,326.2 408.8,326.2 409.3,326.3 409.8,326.4 410.3,326.4 410.8,326.5 411.3,326.6 411.8,326.6 412.3,326.7 412.8,326.8 413.3,326.8 413.8,326.9 414.3,326.9 414.8,327.0 415.3,327.0 415.8,327.0 416.3,327.1 416.8,327.1 417.3,327.2 417.8,327.2 418.3,327.2 418.8,327.3 419.3,327.3 419.8,327.3 420.3,327.3 420.8,327.4 421.3,327.4 421.8,327.4 422.3,327.4 422.8,327.4 423.3,327.5 423.8,327.5 424.3,327.5 424.8,327.5 425.3,327.5 425.8,327.5 426.3,327.6 426.8,327.6 427.3,327.6 427.8,327.6 428.3,327.6 428.8,327.6 429.3,327.7 429.8,327.7 430.3,327.7 430.8,327.7 431.3,327.7 431.8,327.7 432.3,327.8 432.8,327.8 433.3,327.8 433.8,327.8 434.3,327.8 434.8,327.8 435.3,327.9 435.8,327.9 436.3,327.9 436.8,327.9 437.3,327.9 437.8,327.9 438.3,327.9 438.8,327.9 439.3,327.9 439.8,327.9 440.3,328.0 440.8,328.0 441.3,328.0 441.8,328.0 442.3,328.0 442.8,328.0 443.3,328.0 443.8,328.0 444.3,328.0 444.8,328.0 445.3,328.1 445.8,328.1 446.3,328.1 446.8,328.1 447.3,328.1 447.8,328.1 448.3,328.1 448.8,328.1 449.3,328.1 449.8,328.1 450.3,328.2 450.8,328.2 451.3,328.2 451.8,328.2 452.3,328.2" fill="none" stroke="#dad1e6" stroke-width="1.65" stroke-linejoin="round" />
<polyline points="272.3,320.6 272.8,320.6 273.3,320.5 273.8,320.5 274.3,320.4 274.8,320.3 275.3,320.2 275.8,320.1 276.3,320.1 276.8,320.0 277.3,319.9 277.8,319.8 278.3,319.7 278.8,319.6 279.3,319.4 279.8,319.3 280.3,319.2 280.8,319.0 281.3,318.9 281.8,318.8 282.3,318.6 282.8,318.5 283.3,318.4 283.8,318.2 284.3,318.2 284.8,318.1 285.3,318.1 285.8,318.2 286.3,318.2 286.8,318.2 287.3,318.1 287.8,317.9 288.3,317.7 288.8,317.5 289.3,317.3 289.8,317.1 290.3,316.9 290.8,316.6 291.3,316.3 291.8,316.0 292.3,315.7 292.8,315.4 293.3,315.1 293.8,314.7 294.3,314.4 294.8,314.1 295.3,313.7 295.8,313.4 296.3,313.0 296.8,312.6 297.3,312.2 297.8,311.8 298.3,311.4 298.8,311.0 299.3,310.6 299.8,310.2 300.3,309.8 300.8,309.3 301.3,308.9 301.8,308.5 302.3,308.0 302.8,307.6 303.3,307.2 303.8,306.7 304.3,306.3 304.8,305.8 305.3,305.3 305.8,304.8 306.3,304.3 306.8,303.8 307.3,303.3 307.8,302.8 308.3,302.3 308.8,301.8 309.3,301.3 309.8,300.8 310.3,300.4 310.8,299.9 311.3,299.4 311.8,299.0 312.3,298.5 312.8,298.1 313.3,297.6 313.8,297.1 314.3,296.7 314.8,296.2 315.3,295.6 315.8,295.0 316.3,294.4 316.8,293.8 317.3,293.2 317.8,292.6 318.3,292.1 318.8,291.5 319.3,290.9 319.8,290.3 320.3,289.7 320.8,289.2 321.3,288.6 321.8,288.0 322.3,287.5 322.8,286.9 323.3,286.3 323.8,285.8 324.3,285.3 324.8,284.8 325.3,284.3 325.8,283.8 326.3,283.3 326.8,282.9 327.3,282.4 327.8,282.0 328.3,281.5 328.8,281.1 329.3,280.7 329.8,280.4 330.3,280.0 330.8,279.6 331.3,279.2 331.8,278.8 332.3,278.4 332.8,278.0 333.3,277.6 333.8,277.2 334.3,276.8 334.8,276.4 335.3,276.0 335.8,275.6 336.3,275.2 336.8,274.8 337.3,274.5 337.8,274.1 338.3,273.7 338.8,273.3 339.3,272.9 339.8,272.5 340.3,272.2 340.8,271.8 341.3,271.4 341.8,271.1 342.3,270.7 342.8,270.4 343.3,270.2 343.8,269.9 344.3,269.7 344.8,269.4 345.3,269.2 345.8,269.1 346.3,268.9 346.8,268.8 347.3,268.7 347.8,268.6 348.3,268.5 348.8,268.4 349.3,268.3 349.8,268.3 350.3,268.2 350.8,268.2 351.3,268.2 351.8,268.2 352.3,268.3 352.8,268.4 353.3,268.5 353.8,268.7 354.3,268.8 354.8,269.0 355.3,269.2 355.8,269.5 356.3,269.8 356.8,270.1 357.3,270.4 357.8,270.7 358.3,271.0 358.8,271.3 359.3,271.5 359.8,274.9 360.3,275.1 360.8,275.4 361.3,275.7 361.8,276.1 362.3,276.6 362.8,277.0 363.3,277.4 363.8,277.8 364.3,278.2 364.8,278.6 365.3,279.0 365.8,279.4 366.3,279.7 366.8,280.1 367.3,280.4 367.8,280.7 368.3,281.0 368.8,281.4 369.3,281.7 369.8,282.0 370.3,282.4 370.8,282.7 371.3,283.1 371.8,283.5 372.3,283.8 372.8,284.2 373.3,284.6 373.8,285.0 374.3,285.3 374.8,285.7 375.3,286.2 375.8,286.6 376.3,287.1 376.8,287.5 377.3,288.0 377.8,288.4 378.3,288.9 378.8,289.4 379.3,289.9 379.8,290.5 380.3,291.1 380.8,291.8 381.3,292.5 381.8,293.2 382.3,293.9 382.8,294.7 383.3,295.4 383.8,296.2 384.3,296.9 384.8,297.7 385.3,298.5 385.8,299.4 386.3,300.2 386.8,301.0 387.3,301.9 387.8,302.8 388.3,303.8 388.8,304.8 389.3,305.8 389.8,306.8 390.3,307.7 390.8,308.7 391.3,309.7 391.8,310.7 392.3,311.7 392.8,312.6 393.3,313.5 393.8,314.4 394.3,315.2 394.8,315.9 395.3,316.6 395.8,317.2 396.3,317.8 396.8,318.3 397.3,318.8 397.8,319.2 398.3,319.7 398.8,320.1 399.3,320.7 399.8,321.2 400.3,321.7 400.8,322.2 401.3,322.7 401.8,323.2 402.3,323.7 402.8,324.1 403.3,324.5 403.8,324.8 404.3,325.1 404.8,325.3 405.3,325.5 405.8,325.8 406.3,326.0 406.8,326.2 407.3,326.4 407.8,326.5 408.3,326.6 408.8,326.7 409.3,326.8 409.8,326.8 410.3,326.9 410.8,327.0 411.3,327.1 411.8,327.1 412.3,327.2 412.8,327.3 413.3,327.3 413.8,327.4 414.3,327.5 414.8,327.5 415.3,327.5 415.8,327.6 416.3,327.6 416.8,327.7 417.3,327.7 417.8,327.7 418.3,327.8 418.8,327.8 419.3,327.8 419.8,327.9 420.3,327.9 420.8,327.9 421.3,328.0 421.8,328.0 422.3,328.0 422.8,328.0 423.3,328.0 423.8,328.0 424.3,328.1 424.8,328.1 425.3,328.1 425.8,328.1 426.3,328.1 426.8,328.2 427.3,328.2 427.8,328.2 428.3,328.2 428.8,328.2 429.3,328.3 429.8,328.3 430.3,328.3 430.8,328.3 431.3,328.3 431.8,328.3 432.3,328.4 432.8,328.4 433.3,328.4 433.8,328.4 434.3,328.4 434.8,328.5 435.3,328.5 435.8,328.5 436.3,328.5 436.8,328.5 437.3,328.5 437.8,328.5 438.3,328.5 438.8,328.5 439.3,328.6 439.8,328.6 440.3,328.6 440.8,328.6 441.3,328.6 441.8,328.6 442.3,328.6 442.8,328.6 443.3,328.6 443.8,328.7 444.3,328.7 444.8,328.7 445.3,328.7 445.8,328.7 446.3,328.7 446.8,328.7 447.3,328.7 447.8,328.7 448.3,328.8 448.8,328.8 449.3,328.8 449.8,328.8 450.3,328.8 450.8,328.8 451.3,328.8 451.8,328.8 452.3,328.8" fill="none" stroke="#d6cbe3" stroke-width="1.65" stroke-linejoin="round" />
<polyline points="272.3,320.1 272.8,320.1 273.3,320.0 273.8,320.0 274.3,319.9 274.8,319.8 275.3,319.7 275.8,319.6 276.3,319.5 276.8,319.4 277.3,319.3 277.8,319.2 278.3,319.1 278.8,319.0 279.3,318.9 279.8,318.7 280.3,318.6 280.8,318.4 281.3,318.3 281.8,318.1 282.3,318.0 282.8,317.9 283.3,317.7 283.8,317.6 284.3,317.5 284.8,317.5 285.3,317.5 285.8,317.5 286.3,317.5 286.8,317.5 287.3,317.4 287.8,317.2 288.3,317.0 288.8,316.8 289.3,316.6 289.8,316.4 290.3,316.1 290.8,315.9 291.3,315.6 291.8,315.2 292.3,314.9 292.8,314.6 293.3,314.2 293.8,313.9 294.3,313.5 294.8,313.2 295.3,312.8 295.8,312.4 296.3,312.0 296.8,311.6 297.3,311.2 297.8,310.8 298.3,310.4 298.8,309.9 299.3,309.5 299.8,309.1 300.3,308.6 300.8,308.1 301.3,307.7 301.8,307.2 302.3,306.8 302.8,306.3 303.3,305.8 303.8,305.4 304.3,304.9 304.8,304.4 305.3,303.9 305.8,303.4 306.3,302.8 306.8,302.3 307.3,301.7 307.8,301.2 308.3,300.7 308.8,300.1 309.3,299.6 309.8,299.1 310.3,298.6 310.8,298.1 311.3,297.6 311.8,297.2 312.3,296.7 312.8,296.2 313.3,295.7 313.8,295.2 314.3,294.7 314.8,294.2 315.3,293.6 315.8,293.0 316.3,292.3 316.8,291.7 317.3,291.1 317.8,290.4 318.3,289.8 318.8,289.2 319.3,288.6 319.8,287.9 320.3,287.3 320.8,286.7 321.3,286.1 321.8,285.5 322.3,284.9 322.8,284.3 323.3,283.7 323.8,283.2 324.3,282.6 324.8,282.1 325.3,281.6 325.8,281.1 326.3,280.6 326.8,280.1 327.3,279.6 327.8,279.1 328.3,278.7 328.8,278.2 329.3,277.8 329.8,277.4 330.3,277.0 330.8,276.6 331.3,276.1 331.8,275.7 332.3,275.3 332.8,274.9 333.3,274.5 333.8,274.1 334.3,273.6 334.8,273.2 335.3,272.8 335.8,272.4 336.3,272.0 336.8,271.6 337.3,271.1 337.8,270.7 338.3,270.3 338.8,269.9 339.3,269.5 339.8,269.1 340.3,268.7 340.8,268.3 341.3,267.9 341.8,267.5 342.3,267.2 342.8,266.9 343.3,266.6 343.8,266.3 344.3,266.1 344.8,265.8 345.3,265.6 345.8,265.4 346.3,265.3 346.8,265.1 347.3,265.0 347.8,264.9 348.3,264.8 348.8,264.7 349.3,264.6 349.8,264.6 350.3,264.5 350.8,264.5 351.3,264.5 351.8,264.5 352.3,264.6 352.8,264.7 353.3,264.9 353.8,265.0 354.3,265.2 354.8,265.4 355.3,265.6 355.8,265.9 356.3,266.2 356.8,266.5 357.3,266.8 357.8,267.1 358.3,267.5 358.8,267.8 359.3,268.0 359.8,271.3 360.3,271.5 360.8,271.8 361.3,272.2 361.8,272.7 362.3,273.1 362.8,273.5 363.3,274.0 363.8,274.4 364.3,274.8 364.8,275.3 365.3,275.7 365.8,276.1 366.3,276.5 366.8,276.8 367.3,277.2 367.8,277.5 368.3,277.8 368.8,278.2 369.3,278.5 369.8,278.9 370.3,279.2 370.8,279.6 371.3,280.0 371.8,280.4 372.3,280.8 372.8,281.2 373.3,281.6 373.8,282.0 374.3,282.4 374.8,282.8 375.3,283.3 375.8,283.8 376.3,284.2 376.8,284.7 377.3,285.2 377.8,285.7 378.3,286.2 378.8,286.7 379.3,287.3 379.8,287.9 380.3,288.5 380.8,289.2 381.3,290.0 381.8,290.7 382.3,291.5 382.8,292.3 383.3,293.1 383.8,293.9 384.3,294.7 384.8,295.5 385.3,296.4 385.8,297.3 386.3,298.2 386.8,299.1 387.3,300.0 387.8,301.0 388.3,302.0 388.8,303.0 389.3,304.1 389.8,305.1 390.3,306.2 390.8,307.3 391.3,308.3 391.8,309.4 392.3,310.4 392.8,311.5 393.3,312.4 393.8,313.4 394.3,314.3 394.8,315.1 395.3,315.9 395.8,316.6 396.3,317.3 396.8,317.9 397.3,318.5 397.8,319.0 398.3,319.5 398.8,320.1 399.3,320.7 399.8,321.3 400.3,321.9 400.8,322.4 401.3,323.0 401.8,323.5 402.3,324.0 402.8,324.5 403.3,324.9 403.8,325.2 404.3,325.5 404.8,325.8 405.3,326.0 405.8,326.2 406.3,326.5 406.8,326.7 407.3,326.9 407.8,327.0 408.3,327.1 408.8,327.2 409.3,327.3 409.8,327.4 410.3,327.5 410.8,327.5 411.3,327.6 411.8,327.7 412.3,327.8 412.8,327.8 413.3,327.9 413.8,328.0 414.3,328.0 414.8,328.1 415.3,328.1 415.8,328.2 416.3,328.2 416.8,328.2 417.3,328.3 417.8,328.3 418.3,328.4 418.8,328.4 419.3,328.4 419.8,328.5 420.3,328.5 420.8,328.5 421.3,328.6 421.8,328.6 422.3,328.6 422.8,328.6 423.3,328.6 423.8,328.7 424.3,328.7 424.8,328.7 425.3,328.7 425.8,328.7 426.3,328.8 426.8,328.8 427.3,328.8 427.8,328.8 428.3,328.8 428.8,328.9 429.3,328.9 429.8,328.9 430.3,328.9 430.8,328.9 431.3,328.9 431.8,329.0 432.3,329.0 432.8,329.0 433.3,329.0 433.8,329.0 434.3,329.1 434.8,329.1 435.3,329.1 435.8,329.1 436.3,329.1 436.8,329.1 437.3,329.1 437.8,329.2 438.3,329.2 438.8,329.2 439.3,329.2 439.8,329.2 440.3,329.2 440.8,329.2 441.3,329.2 441.8,329.3 442.3,329.3 442.8,329.3 443.3,329.3 443.8,329.3 444.3,329.3 444.8,329.3 445.3,329.3 445.8,329.3 446.3,329.4 446.8,329.4 447.3,329.4 447.8,329.4 448.3,329.4 448.8,329.4 449.3,329.4 449.8,329.4 450.3,329.4 450.8,329.5 451.3,329.5 451.8,329.5 452.3,329.5" fill="none" stroke="#d1c5df" stroke-width="1.65" stroke-linejoin="round" />
<polyline points="272.3,319.6 272.8,319.6 273.3,319.5 273.8,319.4 274.3,319.3 274.8,319.2 275.3,319.2 275.8,319.1 276.3,319.0 276.8,318.9 277.3,318.8 277.8,318.7 278.3,318.6 278.8,318.4 279.3,318.3 279.8,318.1 280.3,318.0 280.8,317.8 281.3,317.7 281.8,317.5 282.3,317.4 282.8,317.2 283.3,317.1 283.8,316.9 284.3,316.8 284.8,316.8 285.3,316.8 285.8,316.8 286.3,316.9 286.8,316.8 287.3,316.7 287.8,316.5 288.3,316.3 288.8,316.1 289.3,315.9 289.8,315.6 290.3,315.4 290.8,315.1 291.3,314.8 291.8,314.4 292.3,314.1 292.8,313.7 293.3,313.3 293.8,313.0 294.3,312.6 294.8,312.2 295.3,311.8 295.8,311.4 296.3,311.0 296.8,310.6 297.3,310.1 297.8,309.7 298.3,309.2 298.8,308.8 299.3,308.3 299.8,307.9 300.3,307.4 300.8,306.9 301.3,306.4 301.8,305.9 302.3,305.4 302.8,304.9 303.3,304.4 303.8,303.9 304.3,303.4 304.8,302.9 305.3,302.3 305.8,301.8 306.3,301.2 306.8,300.6 307.3,300.1 307.8,299.5 308.3,298.9 308.8,298.4 309.3,297.8 309.8,297.3 310.3,296.8 310.8,296.2 311.3,295.7 311.8,295.2 312.3,294.7 312.8,294.2 313.3,293.7 313.8,293.1 314.3,292.6 314.8,292.0 315.3,291.4 315.8,290.7 316.3,290.1 316.8,289.4 317.3,288.7 317.8,288.1 318.3,287.4 318.8,286.7 319.3,286.1 319.8,285.4 320.3,284.8 320.8,284.1 321.3,283.5 321.8,282.8 322.3,282.2 322.8,281.6 323.3,280.9 323.8,280.3 324.3,279.8 324.8,279.2 325.3,278.6 325.8,278.1 326.3,277.6 326.8,277.0 327.3,276.5 327.8,276.0 328.3,275.5 328.8,275.1 329.3,274.6 329.8,274.2 330.3,273.8 330.8,273.3 331.3,272.9 331.8,272.4 332.3,272.0 332.8,271.5 333.3,271.1 333.8,270.7 334.3,270.2 334.8,269.8 335.3,269.3 335.8,268.9 336.3,268.4 336.8,268.0 337.3,267.6 337.8,267.1 338.3,266.7 338.8,266.2 339.3,265.8 339.8,265.4 340.3,265.0 340.8,264.5 341.3,264.1 341.8,263.7 342.3,263.4 342.8,263.0 343.3,262.7 343.8,262.4 344.3,262.2 344.8,261.9 345.3,261.7 345.8,261.5 346.3,261.3 346.8,261.2 347.3,261.0 347.8,260.9 348.3,260.8 348.8,260.7 349.3,260.6 349.8,260.6 350.3,260.5 350.8,260.5 351.3,260.5 351.8,260.5 352.3,260.6 352.8,260.7 353.3,260.9 353.8,261.0 354.3,261.2 354.8,261.4 355.3,261.7 355.8,262.0 356.3,262.3 356.8,262.6 357.3,262.9 357.8,263.3 358.3,263.7 358.8,264.0 359.3,264.2 359.8,267.5 360.3,267.7 360.8,268.0 361.3,268.4 361.8,268.9 362.3,269.4 362.8,269.8 363.3,270.3 363.8,270.7 364.3,271.2 364.8,271.7 365.3,272.1 365.8,272.5 366.3,272.9 366.8,273.3 367.3,273.7 367.8,274.0 368.3,274.4 368.8,274.8 369.3,275.1 369.8,275.5 370.3,275.9 370.8,276.3 371.3,276.7 371.8,277.1 372.3,277.5 372.8,278.0 373.3,278.4 373.8,278.8 374.3,279.3 374.8,279.7 375.3,280.2 375.8,280.7 376.3,281.2 376.8,281.7 377.3,282.2 377.8,282.8 378.3,283.3 378.8,283.8 379.3,284.4 379.8,285.0 380.3,285.8 380.8,286.5 381.3,287.3 381.8,288.1 382.3,288.9 382.8,289.8 383.3,290.6 383.8,291.5 384.3,292.3 384.8,293.2 385.3,294.1 385.8,295.1 386.3,296.0 386.8,296.9 387.3,297.9 387.8,299.0 388.3,300.0 388.8,301.2 389.3,302.3 389.8,303.4 390.3,304.6 390.8,305.7 391.3,306.8 391.8,308.0 392.3,309.1 392.8,310.2 393.3,311.3 393.8,312.3 394.3,313.3 394.8,314.2 395.3,315.1 395.8,315.9 396.3,316.7 396.8,317.4 397.3,318.1 397.8,318.7 398.3,319.4 398.8,320.0 399.3,320.7 399.8,321.4 400.3,322.0 400.8,322.6 401.3,323.2 401.8,323.7 402.3,324.3 402.8,324.8 403.3,325.2 403.8,325.6 404.3,325.9 404.8,326.2 405.3,326.4 405.8,326.7 406.3,327.0 406.8,327.2 407.3,327.4 407.8,327.5 408.3,327.6 408.8,327.7 409.3,327.8 409.8,327.9 410.3,328.0 410.8,328.1 411.3,328.2 411.8,328.2 412.3,328.3 412.8,328.4 413.3,328.5 413.8,328.5 414.3,328.6 414.8,328.7 415.3,328.7 415.8,328.7 416.3,328.8 416.8,328.8 417.3,328.9 417.8,328.9 418.3,329.0 418.8,329.0 419.3,329.0 419.8,329.1 420.3,329.1 420.8,329.1 421.3,329.2 421.8,329.2 422.3,329.2 422.8,329.2 423.3,329.2 423.8,329.3 424.3,329.3 424.8,329.3 425.3,329.3 425.8,329.4 426.3,329.4 426.8,329.4 427.3,329.4 427.8,329.4 428.3,329.5 428.8,329.5 429.3,329.5 429.8,329.5 430.3,329.5 430.8,329.6 431.3,329.6 431.8,329.6 432.3,329.6 432.8,329.6 433.3,329.7 433.8,329.7 434.3,329.7 434.8,329.7 435.3,329.7 435.8,329.8 436.3,329.8 436.8,329.8 437.3,329.8 437.8,329.8 438.3,329.8 438.8,329.8 439.3,329.8 439.8,329.9 440.3,329.9 440.8,329.9 441.3,329.9 441.8,329.9 442.3,329.9 442.8,329.9 443.3,329.9 443.8,330.0 444.3,330.0 444.8,330.0 445.3,330.0 445.8,330.0 446.3,330.0 446.8,330.0 447.3,330.0 447.8,330.1 448.3,330.1 448.8,330.1 449.3,330.1 449.8,330.1 450.3,330.1 450.8,330.1 451.3,330.1 451.8,330.1 452.3,330.2" fill="none" stroke="#ccbfdc" stroke-width="1.65" stroke-linejoin="round" />
<polyline points="272.3,319.1 272.8,319.1 273.3,319.0 273.8,318.9 274.3,318.8 274.8,318.7 275.3,318.6 275.8,318.5 276.3,318.4 276.8,318.3 277.3,318.2 277.8,318.1 278.3,318.0 278.8,317.8 279.3,317.7 279.8,317.5 280.3,317.4 280.8,317.2 281.3,317.0 281.8,316.9 282.3,316.7 282.8,316.5 283.3,316.4 283.8,316.3 284.3,316.2 284.8,316.1 285.3,316.1 285.8,316.2 286.3,316.2 286.8,316.1 287.3,316.0 287.8,315.8 288.3,315.6 288.8,315.4 289.3,315.1 289.8,314.9 290.3,314.6 290.8,314.3 291.3,314.0 291.8,313.6 292.3,313.2 292.8,312.8 293.3,312.5 293.8,312.1 294.3,311.7 294.8,311.3 295.3,310.9 295.8,310.4 296.3,310.0 296.8,309.5 297.3,309.1 297.8,308.6 298.3,308.1 298.8,307.7 299.3,307.2 299.8,306.7 300.3,306.2 300.8,305.6 301.3,305.1 301.8,304.6 302.3,304.1 302.8,303.6 303.3,303.0 303.8,302.5 304.3,302.0 304.8,301.4 305.3,300.8 305.8,300.2 306.3,299.6 306.8,299.0 307.3,298.4 307.8,297.8 308.3,297.2 308.8,296.6 309.3,296.0 309.8,295.5 310.3,294.9 310.8,294.4 311.3,293.8 311.8,293.3 312.3,292.7 312.8,292.2 313.3,291.7 313.8,291.1 314.3,290.5 314.8,289.9 315.3,289.3 315.8,288.6 316.3,287.9 316.8,287.2 317.3,286.4 317.8,285.7 318.3,285.0 318.8,284.3 319.3,283.6 319.8,282.9 320.3,282.3 320.8,281.6 321.3,280.9 321.8,280.2 322.3,279.5 322.8,278.9 323.3,278.2 323.8,277.6 324.3,277.0 324.8,276.4 325.3,275.8 325.8,275.2 326.3,274.7 326.8,274.1 327.3,273.5 327.8,273.0 328.3,272.5 328.8,272.0 329.3,271.6 329.8,271.1 330.3,270.6 330.8,270.1 331.3,269.7 331.8,269.2 332.3,268.7 332.8,268.3 333.3,267.8 333.8,267.3 334.3,266.9 334.8,266.4 335.3,265.9 335.8,265.5 336.3,265.0 336.8,264.5 337.3,264.1 337.8,263.6 338.3,263.1 338.8,262.7 339.3,262.2 339.8,261.8 340.3,261.3 340.8,260.9 341.3,260.4 341.8,260.0 342.3,259.6 342.8,259.3 343.3,258.9 343.8,258.6 344.3,258.4 344.8,258.1 345.3,257.8 345.8,257.6 346.3,257.5 346.8,257.3 347.3,257.2 347.8,257.0 348.3,256.9 348.8,256.8 349.3,256.8 349.8,256.7 350.3,256.6 350.8,256.6 351.3,256.6 351.8,256.6 352.3,256.7 352.8,256.9 353.3,257.0 353.8,257.2 354.3,257.4 354.8,257.6 355.3,257.9 355.8,258.2 356.3,258.5 356.8,258.8 357.3,259.2 357.8,259.5 358.3,259.9 358.8,260.3 359.3,260.5 359.8,263.7 360.3,264.0 360.8,264.3 361.3,264.7 361.8,265.2 362.3,265.7 362.8,266.2 363.3,266.7 363.8,267.2 364.3,267.7 364.8,268.1 365.3,268.6 365.8,269.1 366.3,269.5 366.8,269.9 367.3,270.3 367.8,270.7 368.3,271.0 368.8,271.4 369.3,271.8 369.8,272.2 370.3,272.6 370.8,273.0 371.3,273.5 371.8,273.9 372.3,274.4 372.8,274.8 373.3,275.3 373.8,275.7 374.3,276.2 374.8,276.6 375.3,277.2 375.8,277.7 376.3,278.2 376.8,278.8 377.3,279.3 377.8,279.9 378.3,280.4 378.8,281.0 379.3,281.6 379.8,282.3 380.3,283.0 380.8,283.8 381.3,284.7 381.8,285.5 382.3,286.4 382.8,287.3 383.3,288.2 383.8,289.1 384.3,290.0 384.8,290.9 385.3,291.9 385.8,292.9 386.3,293.9 386.8,294.9 387.3,295.9 387.8,297.0 388.3,298.2 388.8,299.3 389.3,300.5 389.8,301.7 390.3,302.9 390.8,304.1 391.3,305.4 391.8,306.6 392.3,307.8 392.8,309.0 393.3,310.1 393.8,311.2 394.3,312.3 394.8,313.3 395.3,314.3 395.8,315.3 396.3,316.2 396.8,317.0 397.3,317.8 397.8,318.5 398.3,319.2 398.8,319.9 399.3,320.7 399.8,321.4 400.3,322.1 400.8,322.8 401.3,323.4 401.8,324.0 402.3,324.6 402.8,325.2 403.3,325.6 403.8,326.0 404.3,326.3 404.8,326.6 405.3,326.9 405.8,327.2 406.3,327.4 406.8,327.7 407.3,327.9 407.8,328.1 408.3,328.2 408.8,328.3 409.3,328.4 409.8,328.5 410.3,328.5 410.8,328.6 411.3,328.7 411.8,328.8 412.3,328.9 412.8,329.0 413.3,329.1 413.8,329.1 414.3,329.2 414.8,329.2 415.3,329.3 415.8,329.3 416.3,329.4 416.8,329.4 417.3,329.5 417.8,329.5 418.3,329.6 418.8,329.6 419.3,329.7 419.8,329.7 420.3,329.7 420.8,329.8 421.3,329.8 421.8,329.8 422.3,329.8 422.8,329.9 423.3,329.9 423.8,329.9 424.3,329.9 424.8,329.9 425.3,330.0 425.8,330.0 426.3,330.0 426.8,330.0 427.3,330.1 427.8,330.1 428.3,330.1 428.8,330.1 429.3,330.1 429.8,330.2 430.3,330.2 430.8,330.2 431.3,330.2 431.8,330.2 432.3,330.3 432.8,330.3 433.3,330.3 433.8,330.3 434.3,330.4 434.8,330.4 435.3,330.4 435.8,330.4 436.3,330.4 436.8,330.4 437.3,330.5 437.8,330.5 438.3,330.5 438.8,330.5 439.3,330.5 439.8,330.5 440.3,330.5 440.8,330.5 441.3,330.6 441.8,330.6 442.3,330.6 442.8,330.6 443.3,330.6 443.8,330.6 444.3,330.6 444.8,330.6 445.3,330.7 445.8,330.7 446.3,330.7 446.8,330.7 447.3,330.7 447.8,330.7 448.3,330.7 448.8,330.7 449.3,330.8 449.8,330.8 450.3,330.8 450.8,330.8 451.3,330.8 451.8,330.8 452.3,330.8" fill="none" stroke="#c7b9d9" stroke-width="1.65" stroke-linejoin="round" />
<polyline points="272.3,318.6 272.8,318.5 273.3,318.4 273.8,318.3 274.3,318.2 274.8,318.1 275.3,318.0 275.8,317.9 276.3,317.8 276.8,317.7 277.3,317.6 277.8,317.5 278.3,317.4 278.8,317.2 279.3,317.1 279.8,316.9 280.3,316.7 280.8,316.5 281.3,316.4 281.8,316.2 282.3,316.0 282.8,315.9 283.3,315.7 283.8,315.6 284.3,315.5 284.8,315.4 285.3,315.4 285.8,315.5 286.3,315.5 286.8,315.4 287.3,315.3 287.8,315.1 288.3,314.9 288.8,314.6 289.3,314.4 289.8,314.1 290.3,313.8 290.8,313.5 291.3,313.2 291.8,312.8 292.3,312.4 292.8,312.0 293.3,311.6 293.8,311.1 294.3,310.7 294.8,310.3 295.3,309.9 295.8,309.4 296.3,308.9 296.8,308.5 297.3,308.0 297.8,307.5 298.3,307.0 298.8,306.5 299.3,306.0 299.8,305.4 300.3,304.9 300.8,304.4 301.3,303.8 301.8,303.3 302.3,302.7 302.8,302.2 303.3,301.6 303.8,301.1 304.3,300.5 304.8,299.9 305.3,299.3 305.8,298.7 306.3,298.0 306.8,297.4 307.3,296.8 307.8,296.1 308.3,295.5 308.8,294.8 309.3,294.2 309.8,293.6 310.3,293.0 310.8,292.5 311.3,291.9 311.8,291.3 312.3,290.7 312.8,290.2 313.3,289.6 313.8,289.0 314.3,288.4 314.8,287.8 315.3,287.1 315.8,286.3 316.3,285.6 316.8,284.9 317.3,284.1 317.8,283.4 318.3,282.6 318.8,281.9 319.3,281.1 319.8,280.4 320.3,279.7 320.8,279.0 321.3,278.2 321.8,277.5 322.3,276.8 322.8,276.1 323.3,275.4 323.8,274.7 324.3,274.1 324.8,273.5 325.3,272.8 325.8,272.2 326.3,271.7 326.8,271.1 327.3,270.5 327.8,269.9 328.3,269.4 328.8,268.9 329.3,268.4 329.8,267.9 330.3,267.4 330.8,266.9 331.3,266.4 331.8,265.9 332.3,265.4 332.8,264.9 333.3,264.4 333.8,263.9 334.3,263.4 334.8,262.9 335.3,262.4 335.8,261.9 336.3,261.5 336.8,261.0 337.3,260.5 337.8,260.0 338.3,259.5 338.8,259.0 339.3,258.5 339.8,258.0 340.3,257.6 340.8,257.1 341.3,256.6 341.8,256.2 342.3,255.8 342.8,255.4 343.3,255.1 343.8,254.8 344.3,254.4 344.8,254.2 345.3,253.9 345.8,253.7 346.3,253.5 346.8,253.3 347.3,253.2 347.8,253.1 348.3,252.9 348.8,252.8 349.3,252.8 349.8,252.7 350.3,252.6 350.8,252.6 351.3,252.6 351.8,252.6 352.3,252.7 352.8,252.9 353.3,253.0 353.8,253.2 354.3,253.4 354.8,253.6 355.3,253.9 355.8,254.2 356.3,254.6 356.8,254.9 357.3,255.3 357.8,255.7 358.3,256.1 358.8,256.5 359.3,256.8 359.8,259.9 360.3,260.1 360.8,260.5 361.3,260.9 361.8,261.4 362.3,262.0 362.8,262.5 363.3,263.0 363.8,263.5 364.3,264.0 364.8,264.5 365.3,265.0 365.8,265.5 366.3,265.9 366.8,266.4 367.3,266.8 367.8,267.2 368.3,267.6 368.8,268.0 369.3,268.4 369.8,268.8 370.3,269.3 370.8,269.7 371.3,270.2 371.8,270.6 372.3,271.1 372.8,271.6 373.3,272.0 373.8,272.5 374.3,273.0 374.8,273.5 375.3,274.0 375.8,274.6 376.3,275.2 376.8,275.7 377.3,276.3 377.8,276.9 378.3,277.5 378.8,278.1 379.3,278.7 379.8,279.5 380.3,280.3 380.8,281.1 381.3,282.0 381.8,282.9 382.3,283.8 382.8,284.7 383.3,285.7 383.8,286.6 384.3,287.6 384.8,288.6 385.3,289.6 385.8,290.6 386.3,291.7 386.8,292.8 387.3,293.9 387.8,295.0 388.3,296.2 388.8,297.5 389.3,298.7 389.8,300.0 390.3,301.3 390.8,302.6 391.3,303.9 391.8,305.1 392.3,306.4 392.8,307.7 393.3,308.9 393.8,310.1 394.3,311.3 394.8,312.5 395.3,313.6 395.8,314.6 396.3,315.6 396.8,316.6 397.3,317.4 397.8,318.2 398.3,319.0 398.8,319.9 399.3,320.7 399.8,321.5 400.3,322.3 400.8,323.0 401.3,323.6 401.8,324.3 402.3,324.9 402.8,325.5 403.3,326.0 403.8,326.4 404.3,326.8 404.8,327.1 405.3,327.4 405.8,327.7 406.3,327.9 406.8,328.2 407.3,328.4 407.8,328.6 408.3,328.7 408.8,328.8 409.3,328.9 409.8,329.0 410.3,329.1 410.8,329.2 411.3,329.3 411.8,329.4 412.3,329.5 412.8,329.6 413.3,329.7 413.8,329.7 414.3,329.8 414.8,329.8 415.3,329.9 415.8,329.9 416.3,330.0 416.8,330.0 417.3,330.1 417.8,330.1 418.3,330.2 418.8,330.2 419.3,330.3 419.8,330.3 420.3,330.4 420.8,330.4 421.3,330.4 421.8,330.4 422.3,330.5 422.8,330.5 423.3,330.5 423.8,330.5 424.3,330.6 424.8,330.6 425.3,330.6 425.8,330.6 426.3,330.7 426.8,330.7 427.3,330.7 427.8,330.7 428.3,330.7 428.8,330.8 429.3,330.8 429.8,330.8 430.3,330.8 430.8,330.9 431.3,330.9 431.8,330.9 432.3,330.9 432.8,331.0 433.3,331.0 433.8,331.0 434.3,331.0 434.8,331.0 435.3,331.1 435.8,331.1 436.3,331.1 436.8,331.1 437.3,331.1 437.8,331.1 438.3,331.1 438.8,331.2 439.3,331.2 439.8,331.2 440.3,331.2 440.8,331.2 441.3,331.2 441.8,331.2 442.3,331.3 442.8,331.3 443.3,331.3 443.8,331.3 444.3,331.3 444.8,331.3 445.3,331.3 445.8,331.4 446.3,331.4 446.8,331.4 447.3,331.4 447.8,331.4 448.3,331.4 448.8,331.4 449.3,331.4 449.8,331.5 450.3,331.5 450.8,331.5 451.3,331.5 451.8,331.5 452.3,331.5" fill="none" stroke="#c1b1d5" stroke-width="1.65" stroke-linejoin="round" />
<polyline points="272.3,318.0 272.8,318.0 273.3,317.9 273.8,317.8 274.3,317.7 274.8,317.6 275.3,317.5 275.8,317.4 276.3,317.2 276.8,317.1 277.3,317.0 277.8,316.9 278.3,316.8 278.8,316.6 279.3,316.4 279.8,316.3 280.3,316.1 280.8,315.9 281.3,315.7 281.8,315.5 282.3,315.4 282.8,315.2 283.3,315.0 283.8,314.8 284.3,314.7 284.8,314.7 285.3,314.7 285.8,314.8 286.3,314.8 286.8,314.7 287.3,314.6 287.8,314.4 288.3,314.1 288.8,313.9 289.3,313.6 289.8,313.3 290.3,313.0 290.8,312.7 291.3,312.3 291.8,311.9 292.3,311.5 292.8,311.1 293.3,310.6 293.8,310.2 294.3,309.8 294.8,309.3 295.3,308.9 295.8,308.4 296.3,307.9 296.8,307.4 297.3,306.9 297.8,306.3 298.3,305.8 298.8,305.3 299.3,304.8 299.8,304.2 300.3,303.6 300.8,303.1 301.3,302.5 301.8,301.9 302.3,301.3 302.8,300.7 303.3,300.2 303.8,299.6 304.3,299.0 304.8,298.4 305.3,297.7 305.8,297.1 306.3,296.4 306.8,295.7 307.3,295.1 307.8,294.4 308.3,293.7 308.8,293.1 309.3,292.4 309.8,291.8 310.3,291.2 310.8,290.6 311.3,289.9 311.8,289.3 312.3,288.7 312.8,288.1 313.3,287.5 313.8,286.9 314.3,286.3 314.8,285.6 315.3,284.9 315.8,284.1 316.3,283.3 316.8,282.5 317.3,281.7 317.8,281.0 318.3,280.2 318.8,279.4 319.3,278.6 319.8,277.8 320.3,277.1 320.8,276.3 321.3,275.6 321.8,274.8 322.3,274.1 322.8,273.3 323.3,272.6 323.8,271.9 324.3,271.2 324.8,270.5 325.3,269.9 325.8,269.3 326.3,268.6 326.8,268.0 327.3,267.4 327.8,266.8 328.3,266.3 328.8,265.7 329.3,265.2 329.8,264.7 330.3,264.2 330.8,263.6 331.3,263.1 331.8,262.6 332.3,262.1 332.8,261.6 333.3,261.0 333.8,260.5 334.3,260.0 334.8,259.5 335.3,259.0 335.8,258.4 336.3,257.9 336.8,257.4 337.3,256.9 337.8,256.4 338.3,255.8 338.8,255.3 339.3,254.8 339.8,254.3 340.3,253.8 340.8,253.3 341.3,252.9 341.8,252.4 342.3,252.0 342.8,251.6 343.3,251.2 343.8,250.9 344.3,250.5 344.8,250.2 345.3,250.0 345.8,249.7 346.3,249.5 346.8,249.4 347.3,249.2 347.8,249.1 348.3,249.0 348.8,248.8 349.3,248.8 349.8,248.7 350.3,248.6 350.8,248.6 351.3,248.6 351.8,248.6 352.3,248.7 352.8,248.9 353.3,249.1 353.8,249.2 354.3,249.4 354.8,249.7 355.3,250.0 355.8,250.3 356.3,250.7 356.8,251.1 357.3,251.5 357.8,251.9 358.3,252.3 358.8,252.7 359.3,253.0 359.8,256.0 360.3,256.3 360.8,256.7 361.3,257.1 361.8,257.7 362.3,258.2 362.8,258.8 363.3,259.3 363.8,259.9 364.3,260.4 364.8,260.9 365.3,261.5 365.8,261.9 366.3,262.4 366.8,262.8 367.3,263.3 367.8,263.7 368.3,264.1 368.8,264.6 369.3,265.0 369.8,265.4 370.3,265.9 370.8,266.4 371.3,266.9 371.8,267.3 372.3,267.8 372.8,268.3 373.3,268.8 373.8,269.3 374.3,269.8 374.8,270.4 375.3,270.9 375.8,271.5 376.3,272.1 376.8,272.7 377.3,273.3 377.8,273.9 378.3,274.6 378.8,275.2 379.3,275.9 379.8,276.6 380.3,277.5 380.8,278.4 381.3,279.3 381.8,280.2 382.3,281.2 382.8,282.2 383.3,283.2 383.8,284.2 384.3,285.2 384.8,286.2 385.3,287.3 385.8,288.4 386.3,289.5 386.8,290.6 387.3,291.8 387.8,293.0 388.3,294.3 388.8,295.6 389.3,296.9 389.8,298.3 390.3,299.6 390.8,301.0 391.3,302.3 391.8,303.7 392.3,305.1 392.8,306.4 393.3,307.7 393.8,309.0 394.3,310.3 394.8,311.6 395.3,312.8 395.8,313.9 396.3,315.1 396.8,316.1 397.3,317.1 397.8,318.0 398.3,318.9 398.8,319.8 399.3,320.7 399.8,321.6 400.3,322.4 400.8,323.2 401.3,323.9 401.8,324.6 402.3,325.3 402.8,325.9 403.3,326.4 403.8,326.9 404.3,327.2 404.8,327.5 405.3,327.9 405.8,328.2 406.3,328.5 406.8,328.7 407.3,329.0 407.8,329.2 408.3,329.3 408.8,329.4 409.3,329.5 409.8,329.6 410.3,329.7 410.8,329.8 411.3,329.9 411.8,330.0 412.3,330.1 412.8,330.2 413.3,330.3 413.8,330.3 414.3,330.4 414.8,330.5 415.3,330.5 415.8,330.6 416.3,330.6 416.8,330.7 417.3,330.7 417.8,330.8 418.3,330.8 418.8,330.9 419.3,330.9 419.8,331.0 420.3,331.0 420.8,331.0 421.3,331.1 421.8,331.1 422.3,331.1 422.8,331.1 423.3,331.2 423.8,331.2 424.3,331.2 424.8,331.2 425.3,331.3 425.8,331.3 426.3,331.3 426.8,331.3 427.3,331.4 427.8,331.4 428.3,331.4 428.8,331.4 429.3,331.5 429.8,331.5 430.3,331.5 430.8,331.5 431.3,331.6 431.8,331.6 432.3,331.6 432.8,331.6 433.3,331.7 433.8,331.7 434.3,331.7 434.8,331.7 435.3,331.7 435.8,331.8 436.3,331.8 436.8,331.8 437.3,331.8 437.8,331.8 438.3,331.8 438.8,331.8 439.3,331.9 439.8,331.9 440.3,331.9 440.8,331.9 441.3,331.9 441.8,331.9 442.3,331.9 442.8,332.0 443.3,332.0 443.8,332.0 444.3,332.0 444.8,332.0 445.3,332.0 445.8,332.0 446.3,332.1 446.8,332.1 447.3,332.1 447.8,332.1 448.3,332.1 448.8,332.1 449.3,332.2 449.8,332.2 450.3,332.2 450.8,332.2 451.3,332.2 451.8,332.2 452.3,332.2" fill="none" stroke="#baa9d1" stroke-width="1.65" stroke-linejoin="round" />
<polyline points="272.3,317.4 272.8,317.4 273.3,317.3 273.8,317.2 274.3,317.1 274.8,317.0 275.3,316.9 275.8,316.8 276.3,316.6 276.8,316.5 277.3,316.4 277.8,316.3 278.3,316.1 278.8,316.0 279.3,315.8 279.8,315.6 280.3,315.4 280.8,315.2 281.3,315.0 281.8,314.8 282.3,314.7 282.8,314.5 283.3,314.3 283.8,314.1 284.3,314.0 284.8,314.0 285.3,314.0 285.8,314.0 286.3,314.0 286.8,314.0 287.3,313.9 287.8,313.6 288.3,313.4 288.8,313.1 289.3,312.8 289.8,312.5 290.3,312.2 290.8,311.9 291.3,311.5 291.8,311.1 292.3,310.6 292.8,310.2 293.3,309.7 293.8,309.3 294.3,308.8 294.8,308.3 295.3,307.9 295.8,307.4 296.3,306.8 296.8,306.3 297.3,305.8 297.8,305.2 298.3,304.7 298.8,304.1 299.3,303.6 299.8,303.0 300.3,302.4 300.8,301.8 301.3,301.2 301.8,300.6 302.3,300.0 302.8,299.3 303.3,298.7 303.8,298.1 304.3,297.5 304.8,296.9 305.3,296.2 305.8,295.5 306.3,294.8 306.8,294.1 307.3,293.4 307.8,292.7 308.3,292.0 308.8,291.3 309.3,290.6 309.8,289.9 310.3,289.3 310.8,288.7 311.3,288.0 311.8,287.4 312.3,286.8 312.8,286.1 313.3,285.5 313.8,284.9 314.3,284.2 314.8,283.5 315.3,282.7 315.8,281.9 316.3,281.1 316.8,280.3 317.3,279.4 317.8,278.6 318.3,277.8 318.8,277.0 319.3,276.2 319.8,275.4 320.3,274.6 320.8,273.8 321.3,273.0 321.8,272.2 322.3,271.4 322.8,270.6 323.3,269.9 323.8,269.1 324.3,268.4 324.8,267.7 325.3,267.0 325.8,266.4 326.3,265.7 326.8,265.1 327.3,264.4 327.8,263.8 328.3,263.2 328.8,262.7 329.3,262.1 329.8,261.6 330.3,261.0 330.8,260.5 331.3,259.9 331.8,259.4 332.3,258.8 332.8,258.3 333.3,257.7 333.8,257.2 334.3,256.6 334.8,256.1 335.3,255.6 335.8,255.0 336.3,254.5 336.8,253.9 337.3,253.4 337.8,252.8 338.3,252.3 338.8,251.8 339.3,251.2 339.8,250.7 340.3,250.2 340.8,249.7 341.3,249.2 341.8,248.7 342.3,248.2 342.8,247.8 343.3,247.4 343.8,247.1 344.3,246.7 344.8,246.4 345.3,246.1 345.8,245.9 346.3,245.7 346.8,245.5 347.3,245.4 347.8,245.2 348.3,245.1 348.8,245.0 349.3,244.9 349.8,244.8 350.3,244.7 350.8,244.7 351.3,244.7 351.8,244.7 352.3,244.9 352.8,245.0 353.3,245.2 353.8,245.4 354.3,245.6 354.8,245.8 355.3,246.2 355.8,246.5 356.3,246.9 356.8,247.3 357.3,247.7 357.8,248.1 358.3,248.6 358.8,249.0 359.3,249.3 359.8,252.3 360.3,252.5 360.8,252.9 361.3,253.4 361.8,254.0 362.3,254.6 362.8,255.1 363.3,255.7 363.8,256.3 364.3,256.8 364.8,257.4 365.3,258.0 365.8,258.5 366.3,259.0 366.8,259.4 367.3,259.9 367.8,260.3 368.3,260.8 368.8,261.2 369.3,261.7 369.8,262.1 370.3,262.6 370.8,263.1 371.3,263.6 371.8,264.1 372.3,264.6 372.8,265.2 373.3,265.7 373.8,266.2 374.3,266.7 374.8,267.3 375.3,267.9 375.8,268.5 376.3,269.1 376.8,269.8 377.3,270.4 377.8,271.0 378.3,271.7 378.8,272.4 379.3,273.1 379.8,273.9 380.3,274.7 380.8,275.7 381.3,276.6 381.8,277.6 382.3,278.7 382.8,279.7 383.3,280.7 383.8,281.8 384.3,282.8 384.8,283.9 385.3,285.0 385.8,286.2 386.3,287.3 386.8,288.5 387.3,289.7 387.8,291.0 388.3,292.3 388.8,293.7 389.3,295.1 389.8,296.5 390.3,297.9 390.8,299.4 391.3,300.8 391.8,302.3 392.3,303.7 392.8,305.1 393.3,306.6 393.8,308.0 394.3,309.3 394.8,310.7 395.3,312.0 395.8,313.3 396.3,314.5 396.8,315.7 397.3,316.8 397.8,317.8 398.3,318.8 398.8,319.8 399.3,320.8 399.8,321.7 400.3,322.6 400.8,323.4 401.3,324.2 401.8,324.9 402.3,325.6 402.8,326.3 403.3,326.9 403.8,327.3 404.3,327.7 404.8,328.0 405.3,328.4 405.8,328.7 406.3,329.0 406.8,329.3 407.3,329.5 407.8,329.7 408.3,329.9 408.8,330.0 409.3,330.1 409.8,330.2 410.3,330.3 410.8,330.4 411.3,330.5 411.8,330.6 412.3,330.7 412.8,330.8 413.3,330.9 413.8,331.0 414.3,331.0 414.8,331.1 415.3,331.2 415.8,331.2 416.3,331.3 416.8,331.3 417.3,331.4 417.8,331.4 418.3,331.5 418.8,331.5 419.3,331.6 419.8,331.6 420.3,331.7 420.8,331.7 421.3,331.7 421.8,331.8 422.3,331.8 422.8,331.8 423.3,331.8 423.8,331.9 424.3,331.9 424.8,331.9 425.3,331.9 425.8,332.0 426.3,332.0 426.8,332.0 427.3,332.0 427.8,332.1 428.3,332.1 428.8,332.1 429.3,332.1 429.8,332.2 430.3,332.2 430.8,332.2 431.3,332.2 431.8,332.3 432.3,332.3 432.8,332.3 433.3,332.4 433.8,332.4 434.3,332.4 434.8,332.4 435.3,332.4 435.8,332.5 436.3,332.5 436.8,332.5 437.3,332.5 437.8,332.5 438.3,332.5 438.8,332.6 439.3,332.6 439.8,332.6 440.3,332.6 440.8,332.6 441.3,332.6 441.8,332.6 442.3,332.7 442.8,332.7 443.3,332.7 443.8,332.7 444.3,332.7 444.8,332.7 445.3,332.7 445.8,332.8 446.3,332.8 446.8,332.8 447.3,332.8 447.8,332.8 448.3,332.8 448.8,332.9 449.3,332.9 449.8,332.9 450.3,332.9 450.8,332.9 451.3,332.9 451.8,332.9 452.3,333.0" fill="none" stroke="#b29fcc" stroke-width="1.65" stroke-linejoin="round" />
<polyline points="272.3,316.8 272.8,316.8 273.3,316.7 273.8,316.6 274.3,316.5 274.8,316.4 275.3,316.2 275.8,316.1 276.3,316.0 276.8,315.9 277.3,315.8 277.8,315.6 278.3,315.5 278.8,315.3 279.3,315.1 279.8,314.9 280.3,314.7 280.8,314.5 281.3,314.3 281.8,314.1 282.3,313.9 282.8,313.7 283.3,313.5 283.8,313.4 284.3,313.3 284.8,313.2 285.3,313.2 285.8,313.3 286.3,313.3 286.8,313.2 287.3,313.1 287.8,312.9 288.3,312.6 288.8,312.3 289.3,312.0 289.8,311.7 290.3,311.4 290.8,311.0 291.3,310.6 291.8,310.2 292.3,309.7 292.8,309.2 293.3,308.7 293.8,308.3 294.3,307.8 294.8,307.3 295.3,306.8 295.8,306.3 296.3,305.7 296.8,305.2 297.3,304.6 297.8,304.0 298.3,303.5 298.8,302.9 299.3,302.3 299.8,301.7 300.3,301.1 300.8,300.4 301.3,299.8 301.8,299.2 302.3,298.5 302.8,297.9 303.3,297.2 303.8,296.6 304.3,295.9 304.8,295.3 305.3,294.6 305.8,293.8 306.3,293.1 306.8,292.4 307.3,291.6 307.8,290.9 308.3,290.2 308.8,289.4 309.3,288.7 309.8,288.0 310.3,287.4 310.8,286.7 311.3,286.0 311.8,285.4 312.3,284.7 312.8,284.0 313.3,283.4 313.8,282.7 314.3,282.0 314.8,281.2 315.3,280.4 315.8,279.6 316.3,278.7 316.8,277.9 317.3,277.0 317.8,276.1 318.3,275.3 318.8,274.4 319.3,273.6 319.8,272.7 320.3,271.9 320.8,271.1 321.3,270.2 321.8,269.4 322.3,268.6 322.8,267.8 323.3,267.0 323.8,266.2 324.3,265.4 324.8,264.7 325.3,264.0 325.8,263.3 326.3,262.6 326.8,261.9 327.3,261.3 327.8,260.6 328.3,260.0 328.8,259.4 329.3,258.8 329.8,258.3 330.3,257.7 330.8,257.1 331.3,256.6 331.8,256.0 332.3,255.4 332.8,254.8 333.3,254.3 333.8,253.7 334.3,253.1 334.8,252.5 335.3,252.0 335.8,251.4 336.3,250.8 336.8,250.3 337.3,249.7 337.8,249.1 338.3,248.6 338.8,248.0 339.3,247.4 339.8,246.9 340.3,246.4 340.8,245.8 341.3,245.3 341.8,244.8 342.3,244.3 342.8,243.9 343.3,243.5 343.8,243.1 344.3,242.7 344.8,242.4 345.3,242.1 345.8,241.8 346.3,241.6 346.8,241.5 347.3,241.3 347.8,241.1 348.3,241.0 348.8,240.9 349.3,240.8 349.8,240.7 350.3,240.6 350.8,240.6 351.3,240.6 351.8,240.7 352.3,240.8 352.8,240.9 353.3,241.1 353.8,241.3 354.3,241.5 354.8,241.8 355.3,242.1 355.8,242.5 356.3,242.9 356.8,243.3 357.3,243.7 357.8,244.2 358.3,244.7 358.8,245.1 359.3,245.4 359.8,248.3 360.3,248.6 360.8,249.0 361.3,249.5 361.8,250.1 362.3,250.7 362.8,251.3 363.3,251.9 363.8,252.5 364.3,253.1 364.8,253.7 365.3,254.3 365.8,254.8 366.3,255.3 366.8,255.8 367.3,256.3 367.8,256.8 368.3,257.2 368.8,257.7 369.3,258.2 369.8,258.7 370.3,259.2 370.8,259.7 371.3,260.2 371.8,260.8 372.3,261.3 372.8,261.8 373.3,262.4 373.8,262.9 374.3,263.5 374.8,264.1 375.3,264.7 375.8,265.3 376.3,266.0 376.8,266.7 377.3,267.3 377.8,268.0 378.3,268.7 378.8,269.4 379.3,270.1 379.8,271.0 380.3,271.9 380.8,272.9 381.3,273.9 381.8,274.9 382.3,276.0 382.8,277.1 383.3,278.1 383.8,279.2 384.3,280.4 384.8,281.5 385.3,282.7 385.8,283.9 386.3,285.1 386.8,286.3 387.3,287.6 387.8,288.9 388.3,290.3 388.8,291.8 389.3,293.3 389.8,294.7 390.3,296.2 390.8,297.7 391.3,299.2 391.8,300.8 392.3,302.3 392.8,303.8 393.3,305.3 393.8,306.8 394.3,308.3 394.8,309.8 395.3,311.2 395.8,312.6 396.3,314.0 396.8,315.2 397.3,316.4 397.8,317.6 398.3,318.6 398.8,319.7 399.3,320.8 399.8,321.8 400.3,322.8 400.8,323.7 401.3,324.5 401.8,325.2 402.3,326.0 402.8,326.7 403.3,327.3 403.8,327.8 404.3,328.2 404.8,328.5 405.3,328.9 405.8,329.2 406.3,329.6 406.8,329.9 407.3,330.1 407.8,330.3 408.3,330.5 408.8,330.6 409.3,330.7 409.8,330.8 410.3,330.9 410.8,331.0 411.3,331.1 411.8,331.2 412.3,331.3 412.8,331.4 413.3,331.5 413.8,331.6 414.3,331.7 414.8,331.8 415.3,331.8 415.8,331.9 416.3,331.9 416.8,332.0 417.3,332.0 417.8,332.1 418.3,332.2 418.8,332.2 419.3,332.3 419.8,332.3 420.3,332.4 420.8,332.4 421.3,332.4 421.8,332.4 422.3,332.5 422.8,332.5 423.3,332.5 423.8,332.6 424.3,332.6 424.8,332.6 425.3,332.6 425.8,332.7 426.3,332.7 426.8,332.7 427.3,332.7 427.8,332.8 428.3,332.8 428.8,332.8 429.3,332.9 429.8,332.9 430.3,332.9 430.8,332.9 431.3,333.0 431.8,333.0 432.3,333.0 432.8,333.0 433.3,333.1 433.8,333.1 434.3,333.1 434.8,333.1 435.3,333.2 435.8,333.2 436.3,333.2 436.8,333.2 437.3,333.2 437.8,333.2 438.3,333.3 438.8,333.3 439.3,333.3 439.8,333.3 440.3,333.3 440.8,333.3 441.3,333.4 441.8,333.4 442.3,333.4 442.8,333.4 443.3,333.4 443.8,333.4 444.3,333.5 444.8,333.5 445.3,333.5 445.8,333.5 446.3,333.5 446.8,333.5 447.3,333.5 447.8,333.6 448.3,333.6 448.8,333.6 449.3,333.6 449.8,333.6 450.3,333.6 450.8,333.7 451.3,333.7 451.8,333.7 452.3,333.7" fill="none" stroke="#a892c6" stroke-width="1.65" stroke-linejoin="round" />
<polyline points="272.3,316.2 272.8,316.2 273.3,316.1 273.8,316.0 274.3,315.8 274.8,315.7 275.3,315.6 275.8,315.5 276.3,315.3 276.8,315.2 277.3,315.1 277.8,314.9 278.3,314.8 278.8,314.6 279.3,314.4 279.8,314.2 280.3,314.0 280.8,313.8 281.3,313.6 281.8,313.4 282.3,313.2 282.8,313.0 283.3,312.8 283.8,312.6 284.3,312.5 284.8,312.4 285.3,312.4 285.8,312.5 286.3,312.5 286.8,312.4 287.3,312.3 287.8,312.0 288.3,311.8 288.8,311.5 289.3,311.1 289.8,310.8 290.3,310.5 290.8,310.1 291.3,309.7 291.8,309.2 292.3,308.7 292.8,308.2 293.3,307.7 293.8,307.2 294.3,306.7 294.8,306.2 295.3,305.7 295.8,305.1 296.3,304.6 296.8,304.0 297.3,303.4 297.8,302.8 298.3,302.2 298.8,301.6 299.3,301.0 299.8,300.3 300.3,299.7 300.8,299.0 301.3,298.3 301.8,297.7 302.3,297.0 302.8,296.3 303.3,295.7 303.8,295.0 304.3,294.3 304.8,293.6 305.3,292.9 305.8,292.1 306.3,291.3 306.8,290.6 307.3,289.8 307.8,289.0 308.3,288.3 308.8,287.5 309.3,286.7 309.8,286.0 310.3,285.3 310.8,284.6 311.3,283.9 311.8,283.2 312.3,282.5 312.8,281.8 313.3,281.1 313.8,280.4 314.3,279.7 314.8,278.9 315.3,278.1 315.8,277.2 316.3,276.3 316.8,275.4 317.3,274.5 317.8,273.6 318.3,272.7 318.8,271.8 319.3,270.9 319.8,270.0 320.3,269.1 320.8,268.2 321.3,267.4 321.8,266.5 322.3,265.6 322.8,264.8 323.3,263.9 323.8,263.1 324.3,262.3 324.8,261.6 325.3,260.8 325.8,260.1 326.3,259.4 326.8,258.7 327.3,258.0 327.8,257.3 328.3,256.6 328.8,256.0 329.3,255.4 329.8,254.8 330.3,254.2 330.8,253.6 331.3,253.0 331.8,252.4 332.3,251.8 332.8,251.2 333.3,250.6 333.8,250.0 334.3,249.4 334.8,248.8 335.3,248.2 335.8,247.6 336.3,247.0 336.8,246.4 337.3,245.8 337.8,245.2 338.3,244.6 338.8,244.1 339.3,243.5 339.8,242.9 340.3,242.3 340.8,241.8 341.3,241.2 341.8,240.7 342.3,240.2 342.8,239.7 343.3,239.3 343.8,238.9 344.3,238.5 344.8,238.2 345.3,237.9 345.8,237.6 346.3,237.4 346.8,237.2 347.3,237.0 347.8,236.9 348.3,236.7 348.8,236.6 349.3,236.5 349.8,236.4 350.3,236.4 350.8,236.3 351.3,236.3 351.8,236.4 352.3,236.5 352.8,236.6 353.3,236.8 353.8,237.0 354.3,237.3 354.8,237.6 355.3,237.9 355.8,238.3 356.3,238.7 356.8,239.1 357.3,239.6 357.8,240.1 358.3,240.6 358.8,241.0 359.3,241.3 359.8,244.2 360.3,244.5 360.8,244.9 361.3,245.5 361.8,246.1 362.3,246.7 362.8,247.3 363.3,248.0 363.8,248.6 364.3,249.2 364.8,249.8 365.3,250.4 365.8,251.0 366.3,251.5 366.8,252.0 367.3,252.5 367.8,253.0 368.3,253.5 368.8,254.0 369.3,254.5 369.8,255.0 370.3,255.5 370.8,256.1 371.3,256.6 371.8,257.2 372.3,257.8 372.8,258.4 373.3,258.9 373.8,259.5 374.3,260.1 374.8,260.7 375.3,261.3 375.8,262.0 376.3,262.7 376.8,263.4 377.3,264.1 377.8,264.8 378.3,265.5 378.8,266.3 379.3,267.0 379.8,267.9 380.3,268.9 380.8,269.9 381.3,271.0 381.8,272.1 382.3,273.2 382.8,274.3 383.3,275.4 383.8,276.6 384.3,277.8 384.8,279.0 385.3,280.2 385.8,281.5 386.3,282.7 386.8,284.0 387.3,285.4 387.8,286.8 388.3,288.2 388.8,289.7 389.3,291.3 389.8,292.8 390.3,294.4 390.8,296.0 391.3,297.6 391.8,299.2 392.3,300.8 392.8,302.4 393.3,304.0 393.8,305.6 394.3,307.2 394.8,308.8 395.3,310.3 395.8,311.9 396.3,313.3 396.8,314.8 397.3,316.1 397.8,317.3 398.3,318.5 398.8,319.7 399.3,320.8 399.8,321.9 400.3,323.0 400.8,323.9 401.3,324.8 401.8,325.6 402.3,326.4 402.8,327.1 403.3,327.8 403.8,328.3 404.3,328.7 404.8,329.1 405.3,329.4 405.8,329.8 406.3,330.1 406.8,330.5 407.3,330.7 407.8,330.9 408.3,331.1 408.8,331.2 409.3,331.3 409.8,331.4 410.3,331.5 410.8,331.7 411.3,331.8 411.8,331.9 412.3,332.0 412.8,332.1 413.3,332.2 413.8,332.3 414.3,332.4 414.8,332.4 415.3,332.5 415.8,332.6 416.3,332.6 416.8,332.7 417.3,332.7 417.8,332.8 418.3,332.9 418.8,332.9 419.3,333.0 419.8,333.0 420.3,333.1 420.8,333.1 421.3,333.1 421.8,333.2 422.3,333.2 422.8,333.2 423.3,333.2 423.8,333.3 424.3,333.3 424.8,333.3 425.3,333.4 425.8,333.4 426.3,333.4 426.8,333.4 427.3,333.5 427.8,333.5 428.3,333.5 428.8,333.6 429.3,333.6 429.8,333.6 430.3,333.6 430.8,333.7 431.3,333.7 431.8,333.7 432.3,333.8 432.8,333.8 433.3,333.8 433.8,333.8 434.3,333.9 434.8,333.9 435.3,333.9 435.8,333.9 436.3,334.0 436.8,334.0 437.3,334.0 437.8,334.0 438.3,334.0 438.8,334.0 439.3,334.1 439.8,334.1 440.3,334.1 440.8,334.1 441.3,334.1 441.8,334.1 442.3,334.2 442.8,334.2 443.3,334.2 443.8,334.2 444.3,334.2 444.8,334.2 445.3,334.2 445.8,334.3 446.3,334.3 446.8,334.3 447.3,334.3 447.8,334.3 448.3,334.3 448.8,334.4 449.3,334.4 449.8,334.4 450.3,334.4 450.8,334.4 451.3,334.4 451.8,334.5 452.3,334.5" fill="none" stroke="#9a82bc" stroke-width="1.65" stroke-linejoin="round" />
<polyline points="272.3,315.5 272.8,315.5 273.3,315.4 273.8,315.3 274.3,315.1 274.8,315.0 275.3,314.9 275.8,314.8 276.3,314.6 276.8,314.5 277.3,314.4 277.8,314.2 278.3,314.0 278.8,313.8 279.3,313.6 279.8,313.4 280.3,313.2 280.8,313.0 281.3,312.8 281.8,312.5 282.3,312.3 282.8,312.1 283.3,311.9 283.8,311.7 284.3,311.6 284.8,311.5 285.3,311.5 285.8,311.6 286.3,311.6 286.8,311.6 287.3,311.4 287.8,311.1 288.3,310.8 288.8,310.5 289.3,310.2 289.8,309.9 290.3,309.5 290.8,309.1 291.3,308.6 291.8,308.2 292.3,307.6 292.8,307.1 293.3,306.6 293.8,306.1 294.3,305.6 294.8,305.0 295.3,304.5 295.8,303.9 296.3,303.3 296.8,302.6 297.3,302.0 297.8,301.4 298.3,300.8 298.8,300.1 299.3,299.5 299.8,298.8 300.3,298.1 300.8,297.4 301.3,296.7 301.8,296.0 302.3,295.3 302.8,294.6 303.3,293.9 303.8,293.2 304.3,292.5 304.8,291.7 305.3,290.9 305.8,290.1 306.3,289.3 306.8,288.5 307.3,287.7 307.8,286.9 308.3,286.1 308.8,285.3 309.3,284.5 309.8,283.7 310.3,283.0 310.8,282.2 311.3,281.5 311.8,280.8 312.3,280.0 312.8,279.3 313.3,278.6 313.8,277.8 314.3,277.0 314.8,276.2 315.3,275.3 315.8,274.4 316.3,273.5 316.8,272.5 317.3,271.5 317.8,270.6 318.3,269.6 318.8,268.7 319.3,267.7 319.8,266.8 320.3,265.9 320.8,265.0 321.3,264.1 321.8,263.1 322.3,262.2 322.8,261.3 323.3,260.4 323.8,259.6 324.3,258.7 324.8,257.9 325.3,257.2 325.8,256.4 326.3,255.6 326.8,254.9 327.3,254.1 327.8,253.4 328.3,252.7 328.8,252.1 329.3,251.5 329.8,250.8 330.3,250.2 330.8,249.6 331.3,248.9 331.8,248.3 332.3,247.7 332.8,247.0 333.3,246.4 333.8,245.8 334.3,245.1 334.8,244.5 335.3,243.9 335.8,243.2 336.3,242.6 336.8,242.0 337.3,241.4 337.8,240.7 338.3,240.1 338.8,239.5 339.3,238.9 339.8,238.3 340.3,237.7 340.8,237.1 341.3,236.5 341.8,235.9 342.3,235.4 342.8,234.9 343.3,234.5 343.8,234.1 344.3,233.7 344.8,233.3 345.3,233.0 345.8,232.7 346.3,232.4 346.8,232.2 347.3,232.1 347.8,231.9 348.3,231.7 348.8,231.6 349.3,231.5 349.8,231.4 350.3,231.4 350.8,231.3 351.3,231.3 351.8,231.4 352.3,231.5 352.8,231.7 353.3,231.9 353.8,232.1 354.3,232.3 354.8,232.6 355.3,233.0 355.8,233.4 356.3,233.8 356.8,234.3 357.3,234.8 357.8,235.3 358.3,235.8 358.8,236.3 359.3,236.6 359.8,239.5 360.3,239.8 360.8,240.2 361.3,240.8 361.8,241.5 362.3,242.1 362.8,242.8 363.3,243.5 363.8,244.1 364.3,244.8 364.8,245.4 365.3,246.1 365.8,246.7 366.3,247.2 366.8,247.7 367.3,248.3 367.8,248.8 368.3,249.3 368.8,249.8 369.3,250.4 369.8,250.9 370.3,251.4 370.8,252.0 371.3,252.6 371.8,253.2 372.3,253.8 372.8,254.4 373.3,255.0 373.8,255.6 374.3,256.2 374.8,256.9 375.3,257.6 375.8,258.3 376.3,259.0 376.8,259.7 377.3,260.5 377.8,261.2 378.3,262.0 378.8,262.7 379.3,263.6 379.8,264.5 380.3,265.5 380.8,266.6 381.3,267.7 381.8,268.9 382.3,270.0 382.8,271.2 383.3,272.4 383.8,273.6 384.3,274.9 384.8,276.1 385.3,277.4 385.8,278.8 386.3,280.1 386.8,281.5 387.3,282.9 387.8,284.4 388.3,285.9 388.8,287.5 389.3,289.1 389.8,290.8 390.3,292.4 390.8,294.1 391.3,295.8 391.8,297.5 392.3,299.2 392.8,300.9 393.3,302.6 393.8,304.3 394.3,306.0 394.8,307.7 395.3,309.4 395.8,311.1 396.3,312.7 396.8,314.2 397.3,315.7 397.8,317.0 398.3,318.3 398.8,319.6 399.3,320.8 399.8,322.0 400.3,323.1 400.8,324.1 401.3,325.0 401.8,325.9 402.3,326.7 402.8,327.5 403.3,328.2 403.8,328.7 404.3,329.2 404.8,329.6 405.3,330.0 405.8,330.3 406.3,330.7 406.8,331.1 407.3,331.3 407.8,331.6 408.3,331.7 408.8,331.8 409.3,332.0 409.8,332.1 410.3,332.2 410.8,332.3 411.3,332.4 411.8,332.6 412.3,332.7 412.8,332.8 413.3,332.9 413.8,333.0 414.3,333.1 414.8,333.1 415.3,333.2 415.8,333.3 416.3,333.3 416.8,333.4 417.3,333.5 417.8,333.5 418.3,333.6 418.8,333.6 419.3,333.7 419.8,333.8 420.3,333.8 420.8,333.8 421.3,333.9 421.8,333.9 422.3,333.9 422.8,334.0 423.3,334.0 423.8,334.0 424.3,334.1 424.8,334.1 425.3,334.1 425.8,334.1 426.3,334.2 426.8,334.2 427.3,334.2 427.8,334.3 428.3,334.3 428.8,334.3 429.3,334.4 429.8,334.4 430.3,334.4 430.8,334.4 431.3,334.5 431.8,334.5 432.3,334.5 432.8,334.6 433.3,334.6 433.8,334.6 434.3,334.6 434.8,334.7 435.3,334.7 435.8,334.7 436.3,334.7 436.8,334.8 437.3,334.8 437.8,334.8 438.3,334.8 438.8,334.8 439.3,334.8 439.8,334.9 440.3,334.9 440.8,334.9 441.3,334.9 441.8,334.9 442.3,334.9 442.8,335.0 443.3,335.0 443.8,335.0 444.3,335.0 444.8,335.0 445.3,335.1 445.8,335.1 446.3,335.1 446.8,335.1 447.3,335.1 447.8,335.1 448.3,335.2 448.8,335.2 449.3,335.2 449.8,335.2 450.3,335.2 450.8,335.2 451.3,335.3 451.8,335.3 452.3,335.3" fill="none" stroke="#8a82b6" stroke-width="1.65" stroke-linejoin="round" />
<polyline points="272.3,314.8 272.8,314.7 273.3,314.6 273.8,314.5 274.3,314.4 274.8,314.2 275.3,314.1 275.8,314.0 276.3,313.8 276.8,313.7 277.3,313.5 277.8,313.4 278.3,313.2 278.8,313.0 279.3,312.8 279.8,312.5 280.3,312.3 280.8,312.1 281.3,311.8 281.8,311.6 282.3,311.4 282.8,311.2 283.3,310.9 283.8,310.7 284.3,310.6 284.8,310.5 285.3,310.6 285.8,310.6 286.3,310.6 286.8,310.6 287.3,310.4 287.8,310.1 288.3,309.8 288.8,309.5 289.3,309.1 289.8,308.8 290.3,308.4 290.8,308.0 291.3,307.5 291.8,307.0 292.3,306.4 292.8,305.9 293.3,305.3 293.8,304.8 294.3,304.2 294.8,303.6 295.3,303.0 295.8,302.4 296.3,301.8 296.8,301.1 297.3,300.4 297.8,299.8 298.3,299.1 298.8,298.4 299.3,297.7 299.8,297.0 300.3,296.3 300.8,295.5 301.3,294.8 301.8,294.1 302.3,293.3 302.8,292.6 303.3,291.8 303.8,291.1 304.3,290.3 304.8,289.5 305.3,288.7 305.8,287.8 306.3,287.0 306.8,286.1 307.3,285.2 307.8,284.4 308.3,283.5 308.8,282.7 309.3,281.8 309.8,281.0 310.3,280.2 310.8,279.4 311.3,278.7 311.8,277.9 312.3,277.1 312.8,276.3 313.3,275.6 313.8,274.8 314.3,273.9 314.8,273.1 315.3,272.1 315.8,271.1 316.3,270.1 316.8,269.1 317.3,268.1 317.8,267.1 318.3,266.1 318.8,265.1 319.3,264.1 319.8,263.1 320.3,262.1 320.8,261.1 321.3,260.2 321.8,259.2 322.3,258.2 322.8,257.3 323.3,256.3 323.8,255.4 324.3,254.5 324.8,253.7 325.3,252.8 325.8,252.0 326.3,251.2 326.8,250.4 327.3,249.6 327.8,248.9 328.3,248.2 328.8,247.5 329.3,246.8 329.8,246.1 330.3,245.4 330.8,244.8 331.3,244.1 331.8,243.4 332.3,242.8 332.8,242.1 333.3,241.4 333.8,240.7 334.3,240.1 334.8,239.4 335.3,238.7 335.8,238.1 336.3,237.4 336.8,236.7 337.3,236.1 337.8,235.4 338.3,234.7 338.8,234.1 339.3,233.4 339.8,232.8 340.3,232.1 340.8,231.5 341.3,230.9 341.8,230.3 342.3,229.7 342.8,229.2 343.3,228.8 343.8,228.3 344.3,227.9 344.8,227.5 345.3,227.2 345.8,226.9 346.3,226.6 346.8,226.4 347.3,226.2 347.8,226.0 348.3,225.9 348.8,225.7 349.3,225.6 349.8,225.5 350.3,225.5 350.8,225.4 351.3,225.4 351.8,225.5 352.3,225.6 352.8,225.8 353.3,226.0 353.8,226.2 354.3,226.5 354.8,226.8 355.3,227.2 355.8,227.6 356.3,228.1 356.8,228.6 357.3,229.1 357.8,229.6 358.3,230.2 358.8,230.7 359.3,231.0 359.8,233.9 360.3,234.2 360.8,234.7 361.3,235.3 361.8,236.0 362.3,236.7 362.8,237.4 363.3,238.1 363.8,238.8 364.3,239.5 364.8,240.2 365.3,240.9 365.8,241.5 366.3,242.1 366.8,242.7 367.3,243.3 367.8,243.8 368.3,244.4 368.8,244.9 369.3,245.5 369.8,246.0 370.3,246.6 370.8,247.2 371.3,247.9 371.8,248.5 372.3,249.1 372.8,249.8 373.3,250.4 373.8,251.0 374.3,251.7 374.8,252.4 375.3,253.1 375.8,253.9 376.3,254.6 376.8,255.4 377.3,256.2 377.8,257.0 378.3,257.8 378.8,258.6 379.3,259.5 379.8,260.5 380.3,261.5 380.8,262.7 381.3,263.9 381.8,265.1 382.3,266.4 382.8,267.6 383.3,268.9 383.8,270.2 384.3,271.5 384.8,272.8 385.3,274.2 385.8,275.6 386.3,277.0 386.8,278.5 387.3,280.0 387.8,281.5 388.3,283.2 388.8,284.9 389.3,286.6 389.8,288.4 390.3,290.1 390.8,291.9 391.3,293.7 391.8,295.5 392.3,297.4 392.8,299.2 393.3,301.0 393.8,302.8 394.3,304.7 394.8,306.5 395.3,308.3 395.8,310.1 396.3,311.9 396.8,313.6 397.3,315.1 397.8,316.6 398.3,318.0 398.8,319.4 399.3,320.7 399.8,322.0 400.3,323.2 400.8,324.3 401.3,325.2 401.8,326.2 402.3,327.1 402.8,327.9 403.3,328.6 403.8,329.2 404.3,329.7 404.8,330.1 405.3,330.5 405.8,330.9 406.3,331.3 406.8,331.7 407.3,332.0 407.8,332.2 408.3,332.4 408.8,332.5 409.3,332.6 409.8,332.8 410.3,332.9 410.8,333.0 411.3,333.2 411.8,333.3 412.3,333.4 412.8,333.5 413.3,333.6 413.8,333.7 414.3,333.8 414.8,333.9 415.3,334.0 415.8,334.0 416.3,334.1 416.8,334.2 417.3,334.2 417.8,334.3 418.3,334.4 418.8,334.4 419.3,334.5 419.8,334.6 420.3,334.6 420.8,334.6 421.3,334.7 421.8,334.7 422.3,334.7 422.8,334.8 423.3,334.8 423.8,334.8 424.3,334.9 424.8,334.9 425.3,334.9 425.8,335.0 426.3,335.0 426.8,335.0 427.3,335.1 427.8,335.1 428.3,335.1 428.8,335.1 429.3,335.2 429.8,335.2 430.3,335.2 430.8,335.3 431.3,335.3 431.8,335.3 432.3,335.4 432.8,335.4 433.3,335.4 433.8,335.5 434.3,335.5 434.8,335.5 435.3,335.5 435.8,335.6 436.3,335.6 436.8,335.6 437.3,335.6 437.8,335.6 438.3,335.7 438.8,335.7 439.3,335.7 439.8,335.7 440.3,335.7 440.8,335.8 441.3,335.8 441.8,335.8 442.3,335.8 442.8,335.8 443.3,335.8 443.8,335.9 444.3,335.9 444.8,335.9 445.3,335.9 445.8,335.9 446.3,336.0 446.8,336.0 447.3,336.0 447.8,336.0 448.3,336.0 448.8,336.1 449.3,336.1 449.8,336.1 450.3,336.1 450.8,336.1 451.3,336.1 451.8,336.2 452.3,336.2" fill="none" stroke="#9c70ab" stroke-width="1.65" stroke-linejoin="round" />
<polyline points="272.3,313.8 272.8,313.7 273.3,313.6 273.8,313.5 274.3,313.4 274.8,313.2 275.3,313.1 275.8,312.9 276.3,312.8 276.8,312.6 277.3,312.5 277.8,312.3 278.3,312.1 278.8,311.9 279.3,311.6 279.8,311.4 280.3,311.2 280.8,310.9 281.3,310.7 281.8,310.4 282.3,310.2 282.8,309.9 283.3,309.7 283.8,309.5 284.3,309.3 284.8,309.3 285.3,309.3 285.8,309.4 286.3,309.4 286.8,309.3 287.3,309.1 287.8,308.8 288.3,308.5 288.8,308.1 289.3,307.8 289.8,307.4 290.3,307.0 290.8,306.5 291.3,306.0 291.8,305.5 292.3,304.9 292.8,304.3 293.3,303.7 293.8,303.1 294.3,302.6 294.8,301.9 295.3,301.3 295.8,300.7 296.3,300.0 296.8,299.3 297.3,298.6 297.8,297.9 298.3,297.2 298.8,296.4 299.3,295.7 299.8,294.9 300.3,294.2 300.8,293.4 301.3,292.6 301.8,291.8 302.3,291.0 302.8,290.2 303.3,289.4 303.8,288.6 304.3,287.8 304.8,287.0 305.3,286.1 305.8,285.2 306.3,284.3 306.8,283.4 307.3,282.5 307.8,281.5 308.3,280.6 308.8,279.7 309.3,278.8 309.8,278.0 310.3,277.1 310.8,276.3 311.3,275.5 311.8,274.7 312.3,273.8 312.8,273.0 313.3,272.2 313.8,271.3 314.3,270.5 314.8,269.5 315.3,268.5 315.8,267.5 316.3,266.4 316.8,265.4 317.3,264.3 317.8,263.2 318.3,262.1 318.8,261.1 319.3,260.0 319.8,258.9 320.3,257.9 320.8,256.9 321.3,255.9 321.8,254.8 322.3,253.8 322.8,252.8 323.3,251.8 323.8,250.8 324.3,249.9 324.8,249.0 325.3,248.1 325.8,247.2 326.3,246.4 326.8,245.5 327.3,244.7 327.8,243.9 328.3,243.1 328.8,242.4 329.3,241.7 329.8,241.0 330.3,240.3 330.8,239.5 331.3,238.8 331.8,238.1 332.3,237.4 332.8,236.7 333.3,236.0 333.8,235.3 334.3,234.6 334.8,233.9 335.3,233.1 335.8,232.4 336.3,231.7 336.8,231.0 337.3,230.3 337.8,229.6 338.3,228.9 338.8,228.2 339.3,227.5 339.8,226.8 340.3,226.2 340.8,225.5 341.3,224.8 341.8,224.2 342.3,223.6 342.8,223.0 343.3,222.6 343.8,222.1 344.3,221.7 344.8,221.2 345.3,220.9 345.8,220.5 346.3,220.3 346.8,220.1 347.3,219.9 347.8,219.7 348.3,219.5 348.8,219.3 349.3,219.2 349.8,219.1 350.3,219.1 350.8,219.0 351.3,219.0 351.8,219.1 352.3,219.2 352.8,219.4 353.3,219.6 353.8,219.9 354.3,220.1 354.8,220.5 355.3,220.9 355.8,221.4 356.3,221.9 356.8,222.4 357.3,222.9 357.8,223.5 358.3,224.1 358.8,224.6 359.3,225.0 359.8,227.9 360.3,228.2 360.8,228.7 361.3,229.4 361.8,230.1 362.3,230.9 362.8,231.6 363.3,232.3 363.8,233.1 364.3,233.8 364.8,234.6 365.3,235.3 365.8,235.9 366.3,236.6 366.8,237.2 367.3,237.8 367.8,238.4 368.3,238.9 368.8,239.5 369.3,240.1 369.8,240.7 370.3,241.3 370.8,242.0 371.3,242.7 371.8,243.3 372.3,244.0 372.8,244.7 373.3,245.4 373.8,246.0 374.3,246.7 374.8,247.5 375.3,248.2 375.8,249.0 376.3,249.8 376.8,250.7 377.3,251.5 377.8,252.3 378.3,253.2 378.8,254.1 379.3,255.0 379.8,256.0 380.3,257.2 380.8,258.4 381.3,259.6 381.8,260.9 382.3,262.3 382.8,263.6 383.3,265.0 383.8,266.3 384.3,267.7 384.8,269.1 385.3,270.6 385.8,272.1 386.3,273.6 386.8,275.1 387.3,276.7 387.8,278.4 388.3,280.1 388.8,281.9 389.3,283.8 389.8,285.6 390.3,287.5 390.8,289.4 391.3,291.3 391.8,293.2 392.3,295.2 392.8,297.2 393.3,299.1 393.8,301.1 394.3,303.1 394.8,305.1 395.3,307.1 395.8,309.1 396.3,311.0 396.8,312.8 397.3,314.6 397.8,316.2 398.3,317.8 398.8,319.3 399.3,320.8 399.8,322.2 400.3,323.4 400.8,324.6 401.3,325.6 401.8,326.7 402.3,327.6 402.8,328.5 403.3,329.3 403.8,329.9 404.3,330.4 404.8,330.8 405.3,331.3 405.8,331.7 406.3,332.1 406.8,332.5 407.3,332.8 407.8,333.1 408.3,333.2 408.8,333.4 409.3,333.5 409.8,333.7 410.3,333.8 410.8,333.9 411.3,334.1 411.8,334.2 412.3,334.3 412.8,334.5 413.3,334.6 413.8,334.7 414.3,334.8 414.8,334.9 415.3,334.9 415.8,335.0 416.3,335.1 416.8,335.1 417.3,335.2 417.8,335.3 418.3,335.4 418.8,335.4 419.3,335.5 419.8,335.6 420.3,335.6 420.8,335.6 421.3,335.7 421.8,335.7 422.3,335.7 422.8,335.8 423.3,335.8 423.8,335.8 424.3,335.9 424.8,335.9 425.3,335.9 425.8,336.0 426.3,336.0 426.8,336.0 427.3,336.1 427.8,336.1 428.3,336.2 428.8,336.2 429.3,336.2 429.8,336.3 430.3,336.3 430.8,336.3 431.3,336.4 431.8,336.4 432.3,336.4 432.8,336.5 433.3,336.5 433.8,336.5 434.3,336.5 434.8,336.6 435.3,336.6 435.8,336.6 436.3,336.6 436.8,336.7 437.3,336.7 437.8,336.7 438.3,336.7 438.8,336.7 439.3,336.8 439.8,336.8 440.3,336.8 440.8,336.8 441.3,336.8 441.8,336.9 442.3,336.9 442.8,336.9 443.3,336.9 443.8,336.9 444.3,337.0 444.8,337.0 445.3,337.0 445.8,337.0 446.3,337.0 446.8,337.1 447.3,337.1 447.8,337.1 448.3,337.1 448.8,337.1 449.3,337.2 449.8,337.2 450.3,337.2 450.8,337.2 451.3,337.2 451.8,337.3 452.3,337.3" fill="none" stroke="#6530a0" stroke-width="2.1" stroke-linejoin="round" />
<text x="436.30" y="214.60" font-size="7.1" text-anchor="middle" font-weight="normal" fill="#1a1a1a" >0s</text>
<line x1="435.1" y1="222.70000000000002" x2="435.1" y2="228.6" stroke="#2b1660" stroke-width="1.0"/>
<path d="M435.1,217.3 L437.6,223.20000000000002 L432.6,223.20000000000002Z" fill="#2b1660"/>
<path d="M435.1,234.0 L437.6,228.1 L432.6,228.1Z" fill="#2b1660"/>
<text x="439.50" y="241.40" font-size="7.2" text-anchor="middle" font-weight="normal" fill="#1a1a1a" >900 s</text>
<rect x="492.80" y="203.40" width="181.20" height="143.70" fill="none" stroke="#444" stroke-width="1.3"/>
<line x1="492.80" y1="347.10" x2="492.80" y2="350.90" stroke="#444" stroke-width="1.2"/>
<text x="0" y="0" font-size="13.9" text-anchor="middle" font-weight="normal" fill="#1a1a1a"  transform="translate(492.20,364.79) scale(0.92,1)">350</text>
<line x1="498.84" y1="347.10" x2="498.84" y2="349.50" stroke="#444" stroke-width="1"/>
<line x1="504.88" y1="347.10" x2="504.88" y2="349.50" stroke="#444" stroke-width="1"/>
<line x1="510.92" y1="347.10" x2="510.92" y2="349.50" stroke="#444" stroke-width="1"/>
<line x1="516.96" y1="347.10" x2="516.96" y2="349.50" stroke="#444" stroke-width="1"/>
<line x1="523.00" y1="347.10" x2="523.00" y2="349.50" stroke="#444" stroke-width="1"/>
<line x1="529.04" y1="347.10" x2="529.04" y2="349.50" stroke="#444" stroke-width="1"/>
<line x1="535.08" y1="347.10" x2="535.08" y2="349.50" stroke="#444" stroke-width="1"/>
<line x1="541.12" y1="347.10" x2="541.12" y2="349.50" stroke="#444" stroke-width="1"/>
<line x1="547.16" y1="347.10" x2="547.16" y2="349.50" stroke="#444" stroke-width="1"/>
<line x1="553.20" y1="347.10" x2="553.20" y2="350.90" stroke="#444" stroke-width="1.2"/>
<text x="0" y="0" font-size="13.9" text-anchor="middle" font-weight="normal" fill="#1a1a1a"  transform="translate(552.60,364.79) scale(0.92,1)">400</text>
<line x1="559.24" y1="347.10" x2="559.24" y2="349.50" stroke="#444" stroke-width="1"/>
<line x1="565.28" y1="347.10" x2="565.28" y2="349.50" stroke="#444" stroke-width="1"/>
<line x1="571.32" y1="347.10" x2="571.32" y2="349.50" stroke="#444" stroke-width="1"/>
<line x1="577.36" y1="347.10" x2="577.36" y2="349.50" stroke="#444" stroke-width="1"/>
<line x1="583.40" y1="347.10" x2="583.40" y2="349.50" stroke="#444" stroke-width="1"/>
<line x1="589.44" y1="347.10" x2="589.44" y2="349.50" stroke="#444" stroke-width="1"/>
<line x1="595.48" y1="347.10" x2="595.48" y2="349.50" stroke="#444" stroke-width="1"/>
<line x1="601.52" y1="347.10" x2="601.52" y2="349.50" stroke="#444" stroke-width="1"/>
<line x1="607.56" y1="347.10" x2="607.56" y2="349.50" stroke="#444" stroke-width="1"/>
<line x1="613.60" y1="347.10" x2="613.60" y2="350.90" stroke="#444" stroke-width="1.2"/>
<text x="0" y="0" font-size="13.9" text-anchor="middle" font-weight="normal" fill="#1a1a1a"  transform="translate(613.00,364.79) scale(0.92,1)">450</text>
<line x1="619.64" y1="347.10" x2="619.64" y2="349.50" stroke="#444" stroke-width="1"/>
<line x1="625.68" y1="347.10" x2="625.68" y2="349.50" stroke="#444" stroke-width="1"/>
<line x1="631.72" y1="347.10" x2="631.72" y2="349.50" stroke="#444" stroke-width="1"/>
<line x1="637.76" y1="347.10" x2="637.76" y2="349.50" stroke="#444" stroke-width="1"/>
<line x1="643.80" y1="347.10" x2="643.80" y2="349.50" stroke="#444" stroke-width="1"/>
<line x1="649.84" y1="347.10" x2="649.84" y2="349.50" stroke="#444" stroke-width="1"/>
<line x1="655.88" y1="347.10" x2="655.88" y2="349.50" stroke="#444" stroke-width="1"/>
<line x1="661.92" y1="347.10" x2="661.92" y2="349.50" stroke="#444" stroke-width="1"/>
<line x1="667.96" y1="347.10" x2="667.96" y2="349.50" stroke="#444" stroke-width="1"/>
<line x1="674.00" y1="347.10" x2="674.00" y2="350.90" stroke="#444" stroke-width="1.2"/>
<text x="0" y="0" font-size="13.9" text-anchor="middle" font-weight="normal" fill="#1a1a1a"  transform="translate(673.40,364.79) scale(0.92,1)">500</text>
<line x1="489.30" y1="347.10" x2="492.80" y2="347.10" stroke="#444" stroke-width="1.2"/>
<text x="0" y="0" font-size="13.9" text-anchor="end" font-weight="normal" fill="#1a1a1a"  transform="translate(486.00,351.19) scale(0.97,1)">0</text>
<line x1="489.30" y1="299.20" x2="492.80" y2="299.20" stroke="#444" stroke-width="1.2"/>
<text x="0" y="0" font-size="13.9" text-anchor="end" font-weight="normal" fill="#1a1a1a"  transform="translate(486.00,303.29) scale(0.97,1)">1</text>
<line x1="489.30" y1="251.30" x2="492.80" y2="251.30" stroke="#444" stroke-width="1.2"/>
<text x="0" y="0" font-size="13.9" text-anchor="end" font-weight="normal" fill="#1a1a1a"  transform="translate(486.00,255.39) scale(0.97,1)">2</text>
<line x1="489.30" y1="203.40" x2="492.80" y2="203.40" stroke="#444" stroke-width="1.2"/>
<text x="0" y="0" font-size="13.9" text-anchor="end" font-weight="normal" fill="#1a1a1a"  transform="translate(486.00,207.49) scale(0.97,1)">3</text>
<text x="583.80" y="378.90" font-size="13.35" text-anchor="middle" font-weight="bold" fill="#1a1a1a" >Wavelength (nm)</text>
<text x="0" y="0" font-size="13.35" font-weight="bold" text-anchor="middle" fill="#1a1a1a" transform="translate(474.30,277.00) rotate(-90)">Absorbance</text>
<text x="464.20" y="199.50" font-size="17.5" text-anchor="start" font-weight="bold" fill="#000" >F</text>
<line x1="506.4" y1="327.4" x2="506.4" y2="331.2" stroke="#c9d6bb" stroke-width="1"/>
<line x1="516.8" y1="320.3" x2="516.8" y2="329.4" stroke="#c9d6bb" stroke-width="1"/>
<polyline points="493.3,331.9 493.8,331.9 494.3,331.9 494.8,331.9 495.3,331.9 495.8,331.9 496.3,331.8 496.8,331.8 497.3,331.7 497.8,331.6 498.3,331.6 498.8,331.5 499.3,331.5 499.8,331.4 500.3,331.3 500.8,331.3 501.3,331.2 501.8,331.1 502.3,331.0 502.8,330.9 503.3,330.7 503.8,330.6 504.3,330.5 504.8,330.4 505.3,330.2 505.8,330.1 506.3,330.0 506.8,329.8 507.3,329.7 507.8,329.6 508.3,329.4 508.8,329.3 509.3,329.1 509.8,329.0 510.3,328.8 510.8,328.6 511.3,328.4 511.8,328.2 512.3,328.1 512.8,327.9 513.3,327.7 513.8,327.5 514.3,327.3 514.8,327.1 515.3,326.9 515.8,326.7 516.3,326.5 516.8,326.3 517.3,326.0 517.8,325.7 518.3,325.5 518.8,325.2 519.3,325.0 519.8,324.7 520.3,324.4 520.8,324.2 521.3,323.9 521.8,323.6 522.3,323.4 522.8,323.1 523.3,322.8 523.8,322.5 524.3,322.2 524.8,321.9 525.3,321.7 525.8,321.4 526.3,321.1 526.8,320.8 527.3,320.5 527.8,320.2 528.3,319.9 528.8,319.6 529.3,319.3 529.8,319.1 530.3,318.8 530.8,318.5 531.3,318.2 531.8,317.9 532.3,317.6 532.8,317.3 533.3,317.0 533.8,316.7 534.3,316.4 534.8,316.1 535.3,315.8 535.8,315.4 536.3,315.1 536.8,314.8 537.3,314.4 537.8,314.1 538.3,313.8 538.8,313.5 539.3,313.1 539.8,312.8 540.3,312.5 540.8,312.1 541.3,311.8 541.8,311.5 542.3,311.2 542.8,310.9 543.3,310.6 543.8,310.2 544.3,309.9 544.8,309.6 545.3,309.3 545.8,309.0 546.3,308.7 546.8,308.3 547.3,308.0 547.8,307.7 548.3,307.4 548.8,307.1 549.3,306.8 549.8,306.4 550.3,306.1 550.8,305.8 551.3,305.5 551.8,305.2 552.3,304.9 552.8,304.7 553.3,304.4 553.8,304.1 554.3,303.8 554.8,303.6 555.3,303.3 555.8,303.0 556.3,302.8 556.8,302.6 557.3,302.3 557.8,302.1 558.3,301.9 558.8,301.6 559.3,301.4 559.8,301.2 560.3,301.0 560.8,300.8 561.3,300.6 561.8,300.4 562.3,300.2 562.8,300.0 563.3,299.9 563.8,299.7 564.3,299.5 564.8,299.3 565.3,299.2 565.8,299.1 566.3,298.9 566.8,298.8 567.3,298.7 567.8,298.6 568.3,298.5 568.8,298.4 569.3,298.3 569.8,298.2 570.3,298.1 570.8,298.0 571.3,298.0 571.8,297.9 572.3,297.9 572.8,297.8 573.3,297.8 573.8,297.8 574.3,297.8 574.8,297.9 575.3,298.0 575.8,298.0 576.3,298.1 576.8,298.2 577.3,298.2 577.8,298.3 578.3,298.4 578.8,298.5 579.3,298.6 579.8,298.8 580.3,300.2 580.8,300.3 581.3,300.5 581.8,300.6 582.3,300.8 582.8,301.0 583.3,301.3 583.8,301.5 584.3,301.7 584.8,302.0 585.3,302.2 585.8,302.5 586.3,302.7 586.8,303.0 587.3,303.3 587.8,303.5 588.3,303.8 588.8,304.0 589.3,304.3 589.8,304.6 590.3,304.8 590.8,305.1 591.3,305.3 591.8,305.6 592.3,305.8 592.8,306.1 593.3,306.4 593.8,306.6 594.3,306.9 594.8,307.1 595.3,307.4 595.8,307.7 596.3,307.9 596.8,308.2 597.3,308.5 597.8,308.7 598.3,309.0 598.8,309.3 599.3,309.6 599.8,310.0 600.3,310.3 600.8,310.7 601.3,311.1 601.8,311.5 602.3,311.9 602.8,312.2 603.3,312.6 603.8,313.0 604.3,313.5 604.8,313.9 605.3,314.4 605.8,314.9 606.3,315.5 606.8,316.0 607.3,316.5 607.8,317.0 608.3,317.6 608.8,318.1 609.3,318.6 609.8,319.2 610.3,319.8 610.8,320.5 611.3,321.1 611.8,321.8 612.3,322.4 612.8,323.1 613.3,323.8 613.8,324.5 614.3,325.2 614.8,326.0 615.3,326.7 615.8,327.5 616.3,328.3 616.8,329.1 617.3,329.8 617.8,330.5 618.3,331.1 618.8,331.7 619.3,332.3 619.8,332.8 620.3,333.2 620.8,333.6 621.3,333.9 621.8,334.2 622.3,334.5 622.8,334.8 623.3,335.0 623.8,335.3 624.3,335.6 624.8,335.9 625.3,336.2 625.8,336.4 626.3,336.6 626.8,336.7 627.3,336.9 627.8,337.0 628.3,337.2 628.8,337.3 629.3,337.5 629.8,337.7 630.3,337.8 630.8,337.9 631.3,338.0 631.8,338.0 632.3,338.1 632.8,338.2 633.3,338.2 633.8,338.3 634.3,338.3 634.8,338.4 635.3,338.4 635.8,338.5 636.3,338.6 636.8,338.6 637.3,338.7 637.8,338.7 638.3,338.8 638.8,338.8 639.3,338.8 639.8,338.8 640.3,338.8 640.8,338.9 641.3,338.9 641.8,338.9 642.3,338.9 642.8,338.9 643.3,338.9 643.8,339.0 644.3,339.0 644.8,339.0 645.3,339.0 645.8,339.0 646.3,339.0 646.8,339.1 647.3,339.1 647.8,339.1 648.3,339.1 648.8,339.1 649.3,339.1 649.8,339.2 650.3,339.2 650.8,339.2 651.3,339.2 651.8,339.2 652.3,339.2 652.8,339.2 653.3,339.2 653.8,339.2 654.3,339.2 654.8,339.2 655.3,339.2 655.8,339.2 656.3,339.2 656.8,339.2 657.3,339.2 657.8,339.2 658.3,339.2 658.8,339.2 659.3,339.2 659.8,339.2 660.3,339.2 660.8,339.2 661.3,339.2 661.8,339.2 662.3,339.2 662.8,339.2 663.3,339.2 663.8,339.3 664.3,339.3 664.8,339.3 665.3,339.3 665.8,339.3 666.3,339.3 666.8,339.3 667.3,339.3 667.8,339.3 668.3,339.3 668.8,339.3 669.3,339.3 669.8,339.3 670.3,339.3 670.8,339.3 671.3,339.3 671.8,339.3 672.3,339.3 672.8,339.3 673.3,339.3" fill="none" stroke="#d9e8b9" stroke-width="1.8" stroke-linejoin="round" />
<polyline points="493.3,331.4 493.8,331.4 494.3,331.4 494.8,331.4 495.3,331.4 495.8,331.4 496.3,331.3 496.8,331.2 497.3,331.2 497.8,331.1 498.3,331.0 498.8,331.0 499.3,330.9 499.8,330.9 500.3,330.8 500.8,330.7 501.3,330.7 501.8,330.6 502.3,330.4 502.8,330.3 503.3,330.2 503.8,330.0 504.3,329.9 504.8,329.8 505.3,329.6 505.8,329.5 506.3,329.4 506.8,329.2 507.3,329.1 507.8,328.9 508.3,328.8 508.8,328.6 509.3,328.5 509.8,328.3 510.3,328.1 510.8,327.9 511.3,327.7 511.8,327.5 512.3,327.3 512.8,327.2 513.3,327.0 513.8,326.8 514.3,326.6 514.8,326.4 515.3,326.2 515.8,326.0 516.3,325.7 516.8,325.5 517.3,325.2 517.8,324.9 518.3,324.6 518.8,324.4 519.3,324.1 519.8,323.8 520.3,323.5 520.8,323.3 521.3,323.0 521.8,322.7 522.3,322.4 522.8,322.1 523.3,321.8 523.8,321.5 524.3,321.2 524.8,320.9 525.3,320.6 525.8,320.3 526.3,320.0 526.8,319.7 527.3,319.4 527.8,319.1 528.3,318.8 528.8,318.5 529.3,318.2 529.8,317.9 530.3,317.6 530.8,317.3 531.3,316.9 531.8,316.6 532.3,316.3 532.8,316.0 533.3,315.7 533.8,315.4 534.3,315.1 534.8,314.7 535.3,314.4 535.8,314.1 536.3,313.7 536.8,313.4 537.3,313.0 537.8,312.7 538.3,312.3 538.8,312.0 539.3,311.6 539.8,311.3 540.3,310.9 540.8,310.6 541.3,310.3 541.8,309.9 542.3,309.6 542.8,309.3 543.3,308.9 543.8,308.6 544.3,308.3 544.8,307.9 545.3,307.6 545.8,307.3 546.3,306.9 546.8,306.6 547.3,306.3 547.8,305.9 548.3,305.6 548.8,305.3 549.3,304.9 549.8,304.6 550.3,304.3 550.8,303.9 551.3,303.6 551.8,303.3 552.3,303.0 552.8,302.7 553.3,302.4 553.8,302.2 554.3,301.9 554.8,301.6 555.3,301.3 555.8,301.0 556.3,300.8 556.8,300.5 557.3,300.3 557.8,300.0 558.3,299.8 558.8,299.5 559.3,299.3 559.8,299.1 560.3,298.8 560.8,298.6 561.3,298.4 561.8,298.2 562.3,298.0 562.8,297.8 563.3,297.7 563.8,297.5 564.3,297.3 564.8,297.1 565.3,297.0 565.8,296.8 566.3,296.7 566.8,296.6 567.3,296.4 567.8,296.3 568.3,296.2 568.8,296.1 569.3,296.0 569.8,295.9 570.3,295.8 570.8,295.7 571.3,295.7 571.8,295.6 572.3,295.6 572.8,295.5 573.3,295.5 573.8,295.5 574.3,295.5 574.8,295.6 575.3,295.7 575.8,295.7 576.3,295.8 576.8,295.9 577.3,295.9 577.8,296.0 578.3,296.1 578.8,296.2 579.3,296.4 579.8,296.5 580.3,297.9 580.8,298.1 581.3,298.2 581.8,298.4 582.3,298.6 582.8,298.9 583.3,299.1 583.8,299.3 584.3,299.6 584.8,299.8 585.3,300.1 585.8,300.4 586.3,300.6 586.8,300.9 587.3,301.2 587.8,301.5 588.3,301.7 588.8,302.0 589.3,302.3 589.8,302.5 590.3,302.8 590.8,303.1 591.3,303.4 591.8,303.6 592.3,303.9 592.8,304.2 593.3,304.5 593.8,304.7 594.3,305.0 594.8,305.3 595.3,305.6 595.8,305.8 596.3,306.1 596.8,306.4 597.3,306.7 597.8,306.9 598.3,307.2 598.8,307.5 599.3,307.9 599.8,308.2 600.3,308.6 600.8,309.0 601.3,309.4 601.8,309.8 602.3,310.2 602.8,310.6 603.3,311.1 603.8,311.5 604.3,311.9 604.8,312.4 605.3,312.9 605.8,313.5 606.3,314.0 606.8,314.6 607.3,315.1 607.8,315.7 608.3,316.2 608.8,316.8 609.3,317.4 609.8,318.0 610.3,318.6 610.8,319.3 611.3,320.0 611.8,320.7 612.3,321.4 612.8,322.1 613.3,322.8 613.8,323.6 614.3,324.4 614.8,325.2 615.3,326.0 615.8,326.8 616.3,327.7 616.8,328.5 617.3,329.4 617.8,330.1 618.3,330.9 618.8,331.5 619.3,332.1 619.8,332.7 620.3,333.2 620.8,333.6 621.3,334.0 621.8,334.4 622.3,334.7 622.8,335.0 623.3,335.3 623.8,335.6 624.3,335.9 624.8,336.2 625.3,336.5 625.8,336.7 626.3,336.9 626.8,337.1 627.3,337.2 627.8,337.4 628.3,337.6 628.8,337.8 629.3,337.9 629.8,338.1 630.3,338.2 630.8,338.3 631.3,338.4 631.8,338.5 632.3,338.5 632.8,338.6 633.3,338.7 633.8,338.7 634.3,338.8 634.8,338.9 635.3,338.9 635.8,339.0 636.3,339.0 636.8,339.1 637.3,339.2 637.8,339.2 638.3,339.2 638.8,339.3 639.3,339.3 639.8,339.3 640.3,339.3 640.8,339.4 641.3,339.4 641.8,339.4 642.3,339.4 642.8,339.4 643.3,339.4 643.8,339.5 644.3,339.5 644.8,339.5 645.3,339.5 645.8,339.5 646.3,339.5 646.8,339.6 647.3,339.6 647.8,339.6 648.3,339.6 648.8,339.6 649.3,339.6 649.8,339.7 650.3,339.7 650.8,339.7 651.3,339.7 651.8,339.7 652.3,339.7 652.8,339.7 653.3,339.7 653.8,339.7 654.3,339.7 654.8,339.7 655.3,339.7 655.8,339.7 656.3,339.7 656.8,339.7 657.3,339.7 657.8,339.7 658.3,339.7 658.8,339.7 659.3,339.7 659.8,339.7 660.3,339.7 660.8,339.7 661.3,339.8 661.8,339.8 662.3,339.8 662.8,339.8 663.3,339.8 663.8,339.8 664.3,339.8 664.8,339.8 665.3,339.8 665.8,339.8 666.3,339.8 666.8,339.8 667.3,339.8 667.8,339.8 668.3,339.8 668.8,339.8 669.3,339.8 669.8,339.8 670.3,339.8 670.8,339.8 671.3,339.8 671.8,339.8 672.3,339.8 672.8,339.8 673.3,339.8" fill="none" stroke="#d0e1b1" stroke-width="1.8" stroke-linejoin="round" />
<polyline points="493.3,330.9 493.8,330.9 494.3,330.9 494.8,330.9 495.3,330.9 495.8,330.8 496.3,330.8 496.8,330.7 497.3,330.7 497.8,330.6 498.3,330.5 498.8,330.5 499.3,330.4 499.8,330.3 500.3,330.3 500.8,330.2 501.3,330.1 501.8,330.0 502.3,329.9 502.8,329.7 503.3,329.6 503.8,329.5 504.3,329.3 504.8,329.2 505.3,329.0 505.8,328.9 506.3,328.7 506.8,328.6 507.3,328.4 507.8,328.3 508.3,328.1 508.8,328.0 509.3,327.8 509.8,327.6 510.3,327.4 510.8,327.2 511.3,327.0 511.8,326.8 512.3,326.6 512.8,326.4 513.3,326.2 513.8,326.0 514.3,325.8 514.8,325.6 515.3,325.4 515.8,325.1 516.3,324.9 516.8,324.6 517.3,324.3 517.8,324.0 518.3,323.7 518.8,323.4 519.3,323.2 519.8,322.9 520.3,322.6 520.8,322.3 521.3,322.0 521.8,321.7 522.3,321.4 522.8,321.1 523.3,320.8 523.8,320.4 524.3,320.1 524.8,319.8 525.3,319.5 525.8,319.2 526.3,318.8 526.8,318.5 527.3,318.2 527.8,317.9 528.3,317.6 528.8,317.2 529.3,316.9 529.8,316.6 530.3,316.3 530.8,315.9 531.3,315.6 531.8,315.3 532.3,314.9 532.8,314.6 533.3,314.3 533.8,313.9 534.3,313.6 534.8,313.3 535.3,312.9 535.8,312.5 536.3,312.2 536.8,311.8 537.3,311.4 537.8,311.1 538.3,310.7 538.8,310.3 539.3,310.0 539.8,309.6 540.3,309.2 540.8,308.9 541.3,308.5 541.8,308.2 542.3,307.8 542.8,307.5 543.3,307.1 543.8,306.8 544.3,306.4 544.8,306.1 545.3,305.7 545.8,305.3 546.3,305.0 546.8,304.6 547.3,304.3 547.8,303.9 548.3,303.6 548.8,303.2 549.3,302.9 549.8,302.5 550.3,302.2 550.8,301.8 551.3,301.5 551.8,301.2 552.3,300.9 552.8,300.6 553.3,300.2 553.8,299.9 554.3,299.6 554.8,299.3 555.3,299.0 555.8,298.7 556.3,298.5 556.8,298.2 557.3,297.9 557.8,297.7 558.3,297.4 558.8,297.2 559.3,296.9 559.8,296.7 560.3,296.4 560.8,296.2 561.3,296.0 561.8,295.8 562.3,295.6 562.8,295.4 563.3,295.2 563.8,295.0 564.3,294.8 564.8,294.6 565.3,294.5 565.8,294.3 566.3,294.2 566.8,294.0 567.3,293.9 567.8,293.8 568.3,293.6 568.8,293.5 569.3,293.4 569.8,293.3 570.3,293.2 570.8,293.1 571.3,293.1 571.8,293.0 572.3,293.0 572.8,292.9 573.3,292.9 573.8,292.9 574.3,292.9 574.8,293.0 575.3,293.1 575.8,293.1 576.3,293.2 576.8,293.3 577.3,293.4 577.8,293.5 578.3,293.6 578.8,293.7 579.3,293.8 579.8,294.0 580.3,295.4 580.8,295.6 581.3,295.7 581.8,295.9 582.3,296.1 582.8,296.4 583.3,296.6 583.8,296.9 584.3,297.2 584.8,297.4 585.3,297.7 585.8,298.0 586.3,298.3 586.8,298.6 587.3,298.8 587.8,299.1 588.3,299.4 588.8,299.7 589.3,300.0 589.8,300.3 590.3,300.6 590.8,300.9 591.3,301.2 591.8,301.4 592.3,301.7 592.8,302.0 593.3,302.3 593.8,302.6 594.3,302.9 594.8,303.2 595.3,303.5 595.8,303.8 596.3,304.1 596.8,304.4 597.3,304.6 597.8,304.9 598.3,305.2 598.8,305.6 599.3,305.9 599.8,306.3 600.3,306.7 600.8,307.1 601.3,307.6 601.8,308.0 602.3,308.4 602.8,308.9 603.3,309.3 603.8,309.7 604.3,310.2 604.8,310.7 605.3,311.3 605.8,311.9 606.3,312.4 606.8,313.0 607.3,313.6 607.8,314.2 608.3,314.8 608.8,315.4 609.3,316.0 609.8,316.6 610.3,317.3 610.8,318.0 611.3,318.8 611.8,319.5 612.3,320.3 612.8,321.0 613.3,321.8 613.8,322.6 614.3,323.4 614.8,324.3 615.3,325.2 615.8,326.1 616.3,327.0 616.8,328.0 617.3,328.9 617.8,329.7 618.3,330.5 618.8,331.3 619.3,332.0 619.8,332.6 620.3,333.2 620.8,333.7 621.3,334.1 621.8,334.5 622.3,334.8 622.8,335.2 623.3,335.5 623.8,335.9 624.3,336.2 624.8,336.5 625.3,336.8 625.8,337.1 626.3,337.3 626.8,337.4 627.3,337.6 627.8,337.8 628.3,338.0 628.8,338.2 629.3,338.3 629.8,338.5 630.3,338.7 630.8,338.8 631.3,338.9 631.8,338.9 632.3,339.0 632.8,339.1 633.3,339.1 633.8,339.2 634.3,339.3 634.8,339.3 635.3,339.4 635.8,339.4 636.3,339.5 636.8,339.6 637.3,339.6 637.8,339.7 638.3,339.7 638.8,339.8 639.3,339.8 639.8,339.8 640.3,339.8 640.8,339.9 641.3,339.9 641.8,339.9 642.3,339.9 642.8,339.9 643.3,339.9 643.8,340.0 644.3,340.0 644.8,340.0 645.3,340.0 645.8,340.0 646.3,340.0 646.8,340.1 647.3,340.1 647.8,340.1 648.3,340.1 648.8,340.1 649.3,340.2 649.8,340.2 650.3,340.2 650.8,340.2 651.3,340.2 651.8,340.2 652.3,340.2 652.8,340.2 653.3,340.2 653.8,340.2 654.3,340.2 654.8,340.2 655.3,340.2 655.8,340.2 656.3,340.2 656.8,340.2 657.3,340.3 657.8,340.3 658.3,340.3 658.8,340.3 659.3,340.3 659.8,340.3 660.3,340.3 660.8,340.3 661.3,340.3 661.8,340.3 662.3,340.3 662.8,340.3 663.3,340.3 663.8,340.3 664.3,340.3 664.8,340.3 665.3,340.3 665.8,340.3 666.3,340.3 666.8,340.3 667.3,340.3 667.8,340.3 668.3,340.3 668.8,340.3 669.3,340.3 669.8,340.3 670.3,340.3 670.8,340.3 671.3,340.3 671.8,340.3 672.3,340.3 672.8,340.3 673.3,340.3" fill="none" stroke="#c8daaa" stroke-width="1.8" stroke-linejoin="round" />
<polyline points="493.3,330.4 493.8,330.4 494.3,330.4 494.8,330.4 495.3,330.4 495.8,330.3 496.3,330.3 496.8,330.2 497.3,330.1 497.8,330.1 498.3,330.0 498.8,329.9 499.3,329.9 499.8,329.8 500.3,329.7 500.8,329.6 501.3,329.5 501.8,329.4 502.3,329.3 502.8,329.2 503.3,329.0 503.8,328.9 504.3,328.7 504.8,328.6 505.3,328.4 505.8,328.3 506.3,328.1 506.8,327.9 507.3,327.8 507.8,327.6 508.3,327.5 508.8,327.3 509.3,327.1 509.8,326.9 510.3,326.7 510.8,326.5 511.3,326.3 511.8,326.1 512.3,325.8 512.8,325.6 513.3,325.4 513.8,325.2 514.3,325.0 514.8,324.8 515.3,324.5 515.8,324.3 516.3,324.0 516.8,323.7 517.3,323.4 517.8,323.1 518.3,322.8 518.8,322.5 519.3,322.2 519.8,321.9 520.3,321.6 520.8,321.3 521.3,320.9 521.8,320.6 522.3,320.3 522.8,320.0 523.3,319.6 523.8,319.3 524.3,319.0 524.8,318.6 525.3,318.3 525.8,317.9 526.3,317.6 526.8,317.3 527.3,316.9 527.8,316.6 528.3,316.2 528.8,315.9 529.3,315.6 529.8,315.2 530.3,314.9 530.8,314.5 531.3,314.2 531.8,313.8 532.3,313.5 532.8,313.1 533.3,312.8 533.8,312.4 534.3,312.1 534.8,311.7 535.3,311.3 535.8,310.9 536.3,310.5 536.8,310.1 537.3,309.8 537.8,309.4 538.3,309.0 538.8,308.6 539.3,308.2 539.8,307.8 540.3,307.4 540.8,307.0 541.3,306.7 541.8,306.3 542.3,305.9 542.8,305.5 543.3,305.2 543.8,304.8 544.3,304.4 544.8,304.0 545.3,303.7 545.8,303.3 546.3,302.9 546.8,302.5 547.3,302.2 547.8,301.8 548.3,301.4 548.8,301.1 549.3,300.7 549.8,300.3 550.3,299.9 550.8,299.6 551.3,299.2 551.8,298.9 552.3,298.5 552.8,298.2 553.3,297.9 553.8,297.6 554.3,297.2 554.8,296.9 555.3,296.6 555.8,296.3 556.3,296.0 556.8,295.7 557.3,295.4 557.8,295.2 558.3,294.9 558.8,294.6 559.3,294.4 559.8,294.1 560.3,293.8 560.8,293.6 561.3,293.4 561.8,293.1 562.3,292.9 562.8,292.7 563.3,292.5 563.8,292.3 564.3,292.1 564.8,291.9 565.3,291.7 565.8,291.6 566.3,291.4 566.8,291.3 567.3,291.2 567.8,291.0 568.3,290.9 568.8,290.8 569.3,290.6 569.8,290.5 570.3,290.4 570.8,290.4 571.3,290.3 571.8,290.2 572.3,290.2 572.8,290.1 573.3,290.1 573.8,290.1 574.3,290.1 574.8,290.2 575.3,290.3 575.8,290.4 576.3,290.4 576.8,290.5 577.3,290.6 577.8,290.7 578.3,290.8 578.8,290.9 579.3,291.1 579.8,291.3 580.3,292.7 580.8,292.8 581.3,293.0 581.8,293.2 582.3,293.4 582.8,293.7 583.3,294.0 583.8,294.3 584.3,294.5 584.8,294.8 585.3,295.1 585.8,295.4 586.3,295.7 586.8,296.0 587.3,296.3 587.8,296.6 588.3,296.9 588.8,297.2 589.3,297.6 589.8,297.9 590.3,298.2 590.8,298.5 591.3,298.8 591.8,299.1 592.3,299.4 592.8,299.7 593.3,300.0 593.8,300.3 594.3,300.6 594.8,300.9 595.3,301.2 595.8,301.5 596.3,301.9 596.8,302.2 597.3,302.5 597.8,302.8 598.3,303.1 598.8,303.5 599.3,303.8 599.8,304.2 600.3,304.7 600.8,305.1 601.3,305.6 601.8,306.0 602.3,306.5 602.8,306.9 603.3,307.4 603.8,307.9 604.3,308.4 604.8,308.9 605.3,309.5 605.8,310.1 606.3,310.7 606.8,311.4 607.3,312.0 607.8,312.6 608.3,313.2 608.8,313.9 609.3,314.5 609.8,315.2 610.3,315.9 610.8,316.7 611.3,317.5 611.8,318.3 612.3,319.0 612.8,319.9 613.3,320.7 613.8,321.6 614.3,322.5 614.8,323.4 615.3,324.4 615.8,325.3 616.3,326.4 616.8,327.4 617.3,328.4 617.8,329.3 618.3,330.2 618.8,331.0 619.3,331.8 619.8,332.5 620.3,333.1 620.8,333.7 621.3,334.2 621.8,334.6 622.3,335.0 622.8,335.4 623.3,335.7 623.8,336.1 624.3,336.5 624.8,336.8 625.3,337.1 625.8,337.4 626.3,337.6 626.8,337.8 627.3,338.0 627.8,338.2 628.3,338.4 628.8,338.6 629.3,338.8 629.8,338.9 630.3,339.1 630.8,339.2 631.3,339.3 631.8,339.4 632.3,339.5 632.8,339.5 633.3,339.6 633.8,339.7 634.3,339.7 634.8,339.8 635.3,339.9 635.8,339.9 636.3,340.0 636.8,340.1 637.3,340.1 637.8,340.2 638.3,340.2 638.8,340.3 639.3,340.3 639.8,340.3 640.3,340.3 640.8,340.4 641.3,340.4 641.8,340.4 642.3,340.4 642.8,340.4 643.3,340.5 643.8,340.5 644.3,340.5 644.8,340.5 645.3,340.5 645.8,340.5 646.3,340.6 646.8,340.6 647.3,340.6 647.8,340.6 648.3,340.6 648.8,340.7 649.3,340.7 649.8,340.7 650.3,340.7 650.8,340.7 651.3,340.7 651.8,340.8 652.3,340.8 652.8,340.8 653.3,340.8 653.8,340.8 654.3,340.8 654.8,340.8 655.3,340.8 655.8,340.8 656.3,340.8 656.8,340.8 657.3,340.8 657.8,340.8 658.3,340.8 658.8,340.8 659.3,340.8 659.8,340.8 660.3,340.8 660.8,340.8 661.3,340.8 661.8,340.8 662.3,340.8 662.8,340.8 663.3,340.8 663.8,340.8 664.3,340.8 664.8,340.8 665.3,340.8 665.8,340.8 666.3,340.8 666.8,340.8 667.3,340.8 667.8,340.8 668.3,340.8 668.8,340.8 669.3,340.8 669.8,340.8 670.3,340.8 670.8,340.9 671.3,340.9 671.8,340.9 672.3,340.9 672.8,340.9 673.3,340.9" fill="none" stroke="#bfd2a4" stroke-width="1.8" stroke-linejoin="round" />
<polyline points="493.3,329.9 493.8,329.9 494.3,329.9 494.8,329.9 495.3,329.9 495.8,329.8 496.3,329.8 496.8,329.7 497.3,329.6 497.8,329.5 498.3,329.5 498.8,329.4 499.3,329.3 499.8,329.2 500.3,329.2 500.8,329.1 501.3,329.0 501.8,328.9 502.3,328.7 502.8,328.6 503.3,328.4 503.8,328.3 504.3,328.1 504.8,327.9 505.3,327.8 505.8,327.6 506.3,327.5 506.8,327.3 507.3,327.1 507.8,327.0 508.3,326.8 508.8,326.6 509.3,326.4 509.8,326.2 510.3,326.0 510.8,325.7 511.3,325.5 511.8,325.3 512.3,325.1 512.8,324.8 513.3,324.6 513.8,324.4 514.3,324.1 514.8,323.9 515.3,323.7 515.8,323.4 516.3,323.1 516.8,322.8 517.3,322.5 517.8,322.2 518.3,321.8 518.8,321.5 519.3,321.2 519.8,320.9 520.3,320.5 520.8,320.2 521.3,319.9 521.8,319.5 522.3,319.2 522.8,318.8 523.3,318.5 523.8,318.1 524.3,317.8 524.8,317.4 525.3,317.1 525.8,316.7 526.3,316.3 526.8,316.0 527.3,315.6 527.8,315.3 528.3,314.9 528.8,314.5 529.3,314.2 529.8,313.8 530.3,313.4 530.8,313.1 531.3,312.7 531.8,312.3 532.3,312.0 532.8,311.6 533.3,311.2 533.8,310.8 534.3,310.5 534.8,310.1 535.3,309.7 535.8,309.3 536.3,308.8 536.8,308.4 537.3,308.0 537.8,307.6 538.3,307.2 538.8,306.8 539.3,306.4 539.8,306.0 540.3,305.6 540.8,305.2 541.3,304.8 541.8,304.4 542.3,304.0 542.8,303.6 543.3,303.2 543.8,302.8 544.3,302.4 544.8,302.0 545.3,301.6 545.8,301.2 546.3,300.8 546.8,300.4 547.3,300.0 547.8,299.6 548.3,299.2 548.8,298.8 549.3,298.4 549.8,298.0 550.3,297.6 550.8,297.2 551.3,296.9 551.8,296.5 552.3,296.1 552.8,295.8 553.3,295.5 553.8,295.1 554.3,294.8 554.8,294.4 555.3,294.1 555.8,293.8 556.3,293.5 556.8,293.2 557.3,292.9 557.8,292.6 558.3,292.3 558.8,292.0 559.3,291.7 559.8,291.4 560.3,291.2 560.8,290.9 561.3,290.7 561.8,290.4 562.3,290.2 562.8,290.0 563.3,289.8 563.8,289.6 564.3,289.3 564.8,289.1 565.3,288.9 565.8,288.8 566.3,288.6 566.8,288.5 567.3,288.3 567.8,288.2 568.3,288.0 568.8,287.9 569.3,287.8 569.8,287.6 570.3,287.5 570.8,287.5 571.3,287.4 571.8,287.3 572.3,287.3 572.8,287.2 573.3,287.2 573.8,287.2 574.3,287.2 574.8,287.3 575.3,287.4 575.8,287.5 576.3,287.6 576.8,287.6 577.3,287.7 577.8,287.8 578.3,287.9 578.8,288.1 579.3,288.2 579.8,288.4 580.3,289.8 580.8,290.0 581.3,290.2 581.8,290.4 582.3,290.7 582.8,291.0 583.3,291.3 583.8,291.5 584.3,291.8 584.8,292.1 585.3,292.4 585.8,292.8 586.3,293.1 586.8,293.4 587.3,293.7 587.8,294.1 588.3,294.4 588.8,294.7 589.3,295.0 589.8,295.3 590.3,295.7 590.8,296.0 591.3,296.3 591.8,296.6 592.3,297.0 592.8,297.3 593.3,297.6 593.8,297.9 594.3,298.3 594.8,298.6 595.3,298.9 595.8,299.3 596.3,299.6 596.8,299.9 597.3,300.3 597.8,300.6 598.3,300.9 598.8,301.3 599.3,301.7 599.8,302.1 600.3,302.6 600.8,303.1 601.3,303.5 601.8,304.0 602.3,304.5 602.8,305.0 603.3,305.5 603.8,306.0 604.3,306.5 604.8,307.1 605.3,307.7 605.8,308.4 606.3,309.0 606.8,309.7 607.3,310.3 607.8,311.0 608.3,311.6 608.8,312.3 609.3,313.0 609.8,313.7 610.3,314.5 610.8,315.3 611.3,316.1 611.8,317.0 612.3,317.8 612.8,318.7 613.3,319.6 613.8,320.5 614.3,321.5 614.8,322.5 615.3,323.5 615.8,324.6 616.3,325.7 616.8,326.8 617.3,327.8 617.8,328.9 618.3,329.9 618.8,330.8 619.3,331.6 619.8,332.4 620.3,333.1 620.8,333.7 621.3,334.3 621.8,334.7 622.3,335.1 622.8,335.5 623.3,335.9 623.8,336.3 624.3,336.7 624.8,337.1 625.3,337.5 625.8,337.7 626.3,338.0 626.8,338.2 627.3,338.4 627.8,338.6 628.3,338.8 628.8,339.0 629.3,339.2 629.8,339.4 630.3,339.5 630.8,339.7 631.3,339.8 631.8,339.8 632.3,339.9 632.8,340.0 633.3,340.1 633.8,340.1 634.3,340.2 634.8,340.3 635.3,340.4 635.8,340.4 636.3,340.5 636.8,340.6 637.3,340.6 637.8,340.7 638.3,340.7 638.8,340.8 639.3,340.8 639.8,340.8 640.3,340.9 640.8,340.9 641.3,340.9 641.8,340.9 642.3,340.9 642.8,341.0 643.3,341.0 643.8,341.0 644.3,341.0 644.8,341.0 645.3,341.1 645.8,341.1 646.3,341.1 646.8,341.1 647.3,341.1 647.8,341.2 648.3,341.2 648.8,341.2 649.3,341.2 649.8,341.2 650.3,341.3 650.8,341.3 651.3,341.3 651.8,341.3 652.3,341.3 652.8,341.3 653.3,341.3 653.8,341.3 654.3,341.3 654.8,341.3 655.3,341.3 655.8,341.3 656.3,341.3 656.8,341.3 657.3,341.3 657.8,341.3 658.3,341.3 658.8,341.3 659.3,341.3 659.8,341.3 660.3,341.3 660.8,341.3 661.3,341.3 661.8,341.4 662.3,341.4 662.8,341.4 663.3,341.4 663.8,341.4 664.3,341.4 664.8,341.4 665.3,341.4 665.8,341.4 666.3,341.4 666.8,341.4 667.3,341.4 667.8,341.4 668.3,341.4 668.8,341.4 669.3,341.4 669.8,341.4 670.3,341.4 670.8,341.4 671.3,341.4 671.8,341.4 672.3,341.4 672.8,341.4 673.3,341.4" fill="none" stroke="#b5c9a0" stroke-width="1.8" stroke-linejoin="round" />
<polyline points="493.3,329.4 493.8,329.4 494.3,329.4 494.8,329.4 495.3,329.4 495.8,329.3 496.3,329.2 496.8,329.2 497.3,329.1 497.8,329.0 498.3,328.9 498.8,328.9 499.3,328.8 499.8,328.7 500.3,328.6 500.8,328.5 501.3,328.4 501.8,328.3 502.3,328.2 502.8,328.0 503.3,327.8 503.8,327.7 504.3,327.5 504.8,327.3 505.3,327.1 505.8,327.0 506.3,326.8 506.8,326.6 507.3,326.5 507.8,326.3 508.3,326.1 508.8,325.9 509.3,325.7 509.8,325.5 510.3,325.2 510.8,325.0 511.3,324.8 511.8,324.5 512.3,324.3 512.8,324.0 513.3,323.8 513.8,323.5 514.3,323.3 514.8,323.1 515.3,322.8 515.8,322.5 516.3,322.2 516.8,321.9 517.3,321.5 517.8,321.2 518.3,320.9 518.8,320.5 519.3,320.2 519.8,319.8 520.3,319.5 520.8,319.1 521.3,318.8 521.8,318.4 522.3,318.1 522.8,317.7 523.3,317.3 523.8,316.9 524.3,316.6 524.8,316.2 525.3,315.8 525.8,315.4 526.3,315.0 526.8,314.7 527.3,314.3 527.8,313.9 528.3,313.5 528.8,313.1 529.3,312.7 529.8,312.4 530.3,312.0 530.8,311.6 531.3,311.2 531.8,310.8 532.3,310.4 532.8,310.0 533.3,309.6 533.8,309.2 534.3,308.8 534.8,308.4 535.3,308.0 535.8,307.5 536.3,307.1 536.8,306.7 537.3,306.2 537.8,305.8 538.3,305.4 538.8,304.9 539.3,304.5 539.8,304.1 540.3,303.6 540.8,303.2 541.3,302.8 541.8,302.4 542.3,301.9 542.8,301.5 543.3,301.1 543.8,300.7 544.3,300.3 544.8,299.8 545.3,299.4 545.8,299.0 546.3,298.6 546.8,298.2 547.3,297.7 547.8,297.3 548.3,296.9 548.8,296.5 549.3,296.1 549.8,295.6 550.3,295.2 550.8,294.8 551.3,294.4 551.8,294.0 552.3,293.7 552.8,293.3 553.3,292.9 553.8,292.6 554.3,292.2 554.8,291.9 555.3,291.5 555.8,291.1 556.3,290.8 556.8,290.5 557.3,290.2 557.8,289.9 558.3,289.6 558.8,289.3 559.3,289.0 559.8,288.7 560.3,288.4 560.8,288.1 561.3,287.9 561.8,287.6 562.3,287.4 562.8,287.2 563.3,286.9 563.8,286.7 564.3,286.5 564.8,286.2 565.3,286.0 565.8,285.9 566.3,285.7 566.8,285.5 567.3,285.4 567.8,285.2 568.3,285.1 568.8,284.9 569.3,284.8 569.8,284.7 570.3,284.6 570.8,284.5 571.3,284.4 571.8,284.3 572.3,284.3 572.8,284.2 573.3,284.2 573.8,284.2 574.3,284.2 574.8,284.3 575.3,284.4 575.8,284.5 576.3,284.6 576.8,284.7 577.3,284.8 577.8,284.9 578.3,285.0 578.8,285.1 579.3,285.3 579.8,285.5 580.3,286.9 580.8,287.1 581.3,287.3 581.8,287.5 582.3,287.8 582.8,288.1 583.3,288.4 583.8,288.7 584.3,289.0 584.8,289.4 585.3,289.7 585.8,290.0 586.3,290.4 586.8,290.7 587.3,291.0 587.8,291.4 588.3,291.7 588.8,292.1 589.3,292.4 589.8,292.8 590.3,293.1 590.8,293.4 591.3,293.8 591.8,294.1 592.3,294.5 592.8,294.8 593.3,295.2 593.8,295.5 594.3,295.8 594.8,296.2 595.3,296.5 595.8,296.9 596.3,297.2 596.8,297.6 597.3,297.9 597.8,298.3 598.3,298.7 598.8,299.0 599.3,299.5 599.8,299.9 600.3,300.4 600.8,300.9 601.3,301.4 601.8,301.9 602.3,302.4 602.8,302.9 603.3,303.5 603.8,304.0 604.3,304.6 604.8,305.2 605.3,305.8 605.8,306.5 606.3,307.2 606.8,307.9 607.3,308.6 607.8,309.3 608.3,310.0 608.8,310.7 609.3,311.4 609.8,312.2 610.3,313.0 610.8,313.9 611.3,314.8 611.8,315.6 612.3,316.5 612.8,317.5 613.3,318.4 613.8,319.4 614.3,320.4 614.8,321.5 615.3,322.6 615.8,323.8 616.3,324.9 616.8,326.1 617.3,327.3 617.8,328.4 618.3,329.5 618.8,330.5 619.3,331.4 619.8,332.3 620.3,333.0 620.8,333.7 621.3,334.3 621.8,334.8 622.3,335.3 622.8,335.7 623.3,336.1 623.8,336.6 624.3,337.0 624.8,337.4 625.3,337.8 625.8,338.1 626.3,338.3 626.8,338.5 627.3,338.7 627.8,339.0 628.3,339.2 628.8,339.4 629.3,339.6 629.8,339.8 630.3,340.0 630.8,340.1 631.3,340.2 631.8,340.3 632.3,340.4 632.8,340.5 633.3,340.5 633.8,340.6 634.3,340.7 634.8,340.8 635.3,340.9 635.8,340.9 636.3,341.0 636.8,341.1 637.3,341.2 637.8,341.2 638.3,341.3 638.8,341.3 639.3,341.3 639.8,341.4 640.3,341.4 640.8,341.4 641.3,341.4 641.8,341.5 642.3,341.5 642.8,341.5 643.3,341.5 643.8,341.5 644.3,341.6 644.8,341.6 645.3,341.6 645.8,341.6 646.3,341.6 646.8,341.7 647.3,341.7 647.8,341.7 648.3,341.7 648.8,341.8 649.3,341.8 649.8,341.8 650.3,341.8 650.8,341.8 651.3,341.8 651.8,341.9 652.3,341.9 652.8,341.9 653.3,341.9 653.8,341.9 654.3,341.9 654.8,341.9 655.3,341.9 655.8,341.9 656.3,341.9 656.8,341.9 657.3,341.9 657.8,341.9 658.3,341.9 658.8,341.9 659.3,341.9 659.8,341.9 660.3,341.9 660.8,341.9 661.3,341.9 661.8,341.9 662.3,341.9 662.8,341.9 663.3,341.9 663.8,341.9 664.3,341.9 664.8,341.9 665.3,341.9 665.8,341.9 666.3,341.9 666.8,341.9 667.3,341.9 667.8,341.9 668.3,341.9 668.8,342.0 669.3,342.0 669.8,342.0 670.3,342.0 670.8,342.0 671.3,342.0 671.8,342.0 672.3,342.0 672.8,342.0 673.3,342.0" fill="none" stroke="#aabf9a" stroke-width="1.8" stroke-linejoin="round" />
<polyline points="493.3,328.9 493.8,328.9 494.3,328.9 494.8,328.9 495.3,328.9 495.8,328.8 496.3,328.7 496.8,328.6 497.3,328.6 497.8,328.5 498.3,328.4 498.8,328.3 499.3,328.2 499.8,328.1 500.3,328.1 500.8,328.0 501.3,327.9 501.8,327.7 502.3,327.6 502.8,327.4 503.3,327.2 503.8,327.1 504.3,326.9 504.8,326.7 505.3,326.5 505.8,326.3 506.3,326.1 506.8,326.0 507.3,325.8 507.8,325.6 508.3,325.4 508.8,325.2 509.3,325.0 509.8,324.7 510.3,324.5 510.8,324.2 511.3,324.0 511.8,323.7 512.3,323.5 512.8,323.2 513.3,322.9 513.8,322.7 514.3,322.4 514.8,322.2 515.3,321.9 515.8,321.6 516.3,321.3 516.8,320.9 517.3,320.6 517.8,320.2 518.3,319.8 518.8,319.5 519.3,319.1 519.8,318.7 520.3,318.4 520.8,318.0 521.3,317.6 521.8,317.3 522.3,316.9 522.8,316.5 523.3,316.1 523.8,315.7 524.3,315.3 524.8,314.9 525.3,314.5 525.8,314.1 526.3,313.7 526.8,313.3 527.3,312.9 527.8,312.5 528.3,312.1 528.8,311.7 529.3,311.2 529.8,310.8 530.3,310.4 530.8,310.0 531.3,309.6 531.8,309.2 532.3,308.8 532.8,308.4 533.3,307.9 533.8,307.5 534.3,307.1 534.8,306.6 535.3,306.2 535.8,305.7 536.3,305.3 536.8,304.8 537.3,304.4 537.8,303.9 538.3,303.4 538.8,303.0 539.3,302.5 539.8,302.0 540.3,301.6 540.8,301.1 541.3,300.7 541.8,300.2 542.3,299.8 542.8,299.3 543.3,298.9 543.8,298.5 544.3,298.0 544.8,297.6 545.3,297.1 545.8,296.7 546.3,296.2 546.8,295.8 547.3,295.3 547.8,294.9 548.3,294.5 548.8,294.0 549.3,293.6 549.8,293.1 550.3,292.7 550.8,292.3 551.3,291.8 551.8,291.4 552.3,291.0 552.8,290.6 553.3,290.3 553.8,289.9 554.3,289.5 554.8,289.1 555.3,288.7 555.8,288.4 556.3,288.0 556.8,287.7 557.3,287.3 557.8,287.0 558.3,286.7 558.8,286.4 559.3,286.1 559.8,285.7 560.3,285.4 560.8,285.1 561.3,284.9 561.8,284.6 562.3,284.4 562.8,284.1 563.3,283.9 563.8,283.6 564.3,283.4 564.8,283.2 565.3,283.0 565.8,282.8 566.3,282.6 566.8,282.4 567.3,282.3 567.8,282.1 568.3,281.9 568.8,281.8 569.3,281.6 569.8,281.5 570.3,281.4 570.8,281.3 571.3,281.2 571.8,281.2 572.3,281.1 572.8,281.0 573.3,281.0 573.8,281.0 574.3,281.1 574.8,281.1 575.3,281.2 575.8,281.3 576.3,281.4 576.8,281.5 577.3,281.6 577.8,281.7 578.3,281.8 578.8,282.0 579.3,282.2 579.8,282.4 580.3,283.8 580.8,284.0 581.3,284.2 581.8,284.5 582.3,284.7 582.8,285.1 583.3,285.4 583.8,285.7 584.3,286.1 584.8,286.4 585.3,286.7 585.8,287.1 586.3,287.4 586.8,287.8 587.3,288.2 587.8,288.5 588.3,288.9 588.8,289.3 589.3,289.6 589.8,290.0 590.3,290.4 590.8,290.7 591.3,291.1 591.8,291.4 592.3,291.8 592.8,292.2 593.3,292.5 593.8,292.9 594.3,293.3 594.8,293.6 595.3,294.0 595.8,294.4 596.3,294.7 596.8,295.1 597.3,295.5 597.8,295.9 598.3,296.2 598.8,296.7 599.3,297.1 599.8,297.6 600.3,298.1 600.8,298.6 601.3,299.2 601.8,299.7 602.3,300.2 602.8,300.8 603.3,301.3 603.8,301.9 604.3,302.5 604.8,303.2 605.3,303.9 605.8,304.6 606.3,305.3 606.8,306.0 607.3,306.8 607.8,307.5 608.3,308.3 608.8,309.0 609.3,309.8 609.8,310.6 610.3,311.5 610.8,312.4 611.3,313.3 611.8,314.3 612.3,315.2 612.8,316.2 613.3,317.2 613.8,318.3 614.3,319.4 614.8,320.5 615.3,321.7 615.8,322.9 616.3,324.2 616.8,325.5 617.3,326.7 617.8,328.0 618.3,329.1 618.8,330.2 619.3,331.2 619.8,332.1 620.3,333.0 620.8,333.7 621.3,334.4 621.8,334.9 622.3,335.4 622.8,335.9 623.3,336.4 623.8,336.8 624.3,337.3 624.8,337.7 625.3,338.1 625.8,338.4 626.3,338.7 626.8,338.9 627.3,339.1 627.8,339.4 628.3,339.6 628.8,339.8 629.3,340.0 629.8,340.3 630.3,340.4 630.8,340.6 631.3,340.7 631.8,340.8 632.3,340.9 632.8,341.0 633.3,341.0 633.8,341.1 634.3,341.2 634.8,341.3 635.3,341.4 635.8,341.5 636.3,341.5 636.8,341.6 637.3,341.7 637.8,341.8 638.3,341.8 638.8,341.9 639.3,341.9 639.8,341.9 640.3,341.9 640.8,342.0 641.3,342.0 641.8,342.0 642.3,342.0 642.8,342.1 643.3,342.1 643.8,342.1 644.3,342.1 644.8,342.1 645.3,342.2 645.8,342.2 646.3,342.2 646.8,342.2 647.3,342.3 647.8,342.3 648.3,342.3 648.8,342.3 649.3,342.3 649.8,342.4 650.3,342.4 650.8,342.4 651.3,342.4 651.8,342.4 652.3,342.4 652.8,342.4 653.3,342.4 653.8,342.4 654.3,342.4 654.8,342.5 655.3,342.5 655.8,342.5 656.3,342.5 656.8,342.5 657.3,342.5 657.8,342.5 658.3,342.5 658.8,342.5 659.3,342.5 659.8,342.5 660.3,342.5 660.8,342.5 661.3,342.5 661.8,342.5 662.3,342.5 662.8,342.5 663.3,342.5 663.8,342.5 664.3,342.5 664.8,342.5 665.3,342.5 665.8,342.5 666.3,342.5 666.8,342.5 667.3,342.5 667.8,342.5 668.3,342.5 668.8,342.5 669.3,342.5 669.8,342.5 670.3,342.5 670.8,342.5 671.3,342.5 671.8,342.6 672.3,342.6 672.8,342.6 673.3,342.6" fill="none" stroke="#a2b394" stroke-width="1.8" stroke-linejoin="round" />
<polyline points="493.3,328.4 493.8,328.4 494.3,328.4 494.8,328.4 495.3,328.4 495.8,328.3 496.3,328.2 496.8,328.1 497.3,328.0 497.8,327.9 498.3,327.8 498.8,327.7 499.3,327.6 499.8,327.5 500.3,327.4 500.8,327.3 501.3,327.2 501.8,327.1 502.3,326.9 502.8,326.7 503.3,326.5 503.8,326.3 504.3,326.1 504.8,325.9 505.3,325.7 505.8,325.5 506.3,325.3 506.8,325.1 507.3,324.9 507.8,324.6 508.3,324.4 508.8,324.2 509.3,323.9 509.8,323.7 510.3,323.4 510.8,323.1 511.3,322.8 511.8,322.5 512.3,322.2 512.8,322.0 513.3,321.7 513.8,321.4 514.3,321.1 514.8,320.8 515.3,320.5 515.8,320.2 516.3,319.8 516.8,319.4 517.3,319.0 517.8,318.6 518.3,318.2 518.8,317.7 519.3,317.3 519.8,316.9 520.3,316.5 520.8,316.1 521.3,315.7 521.8,315.3 522.3,314.8 522.8,314.4 523.3,313.9 523.8,313.5 524.3,313.0 524.8,312.6 525.3,312.1 525.8,311.7 526.3,311.2 526.8,310.7 527.3,310.3 527.8,309.8 528.3,309.4 528.8,308.9 529.3,308.5 529.8,308.0 530.3,307.5 530.8,307.1 531.3,306.6 531.8,306.1 532.3,305.7 532.8,305.2 533.3,304.7 533.8,304.2 534.3,303.8 534.8,303.3 535.3,302.7 535.8,302.2 536.3,301.7 536.8,301.2 537.3,300.7 537.8,300.1 538.3,299.6 538.8,299.1 539.3,298.6 539.8,298.1 540.3,297.6 540.8,297.0 541.3,296.5 541.8,296.0 542.3,295.5 542.8,295.0 543.3,294.5 543.8,294.0 544.3,293.5 544.8,293.0 545.3,292.5 545.8,292.0 546.3,291.5 546.8,291.0 547.3,290.5 547.8,290.0 548.3,289.5 548.8,289.0 549.3,288.5 549.8,288.0 550.3,287.5 550.8,287.0 551.3,286.5 551.8,286.1 552.3,285.6 552.8,285.2 553.3,284.8 553.8,284.3 554.3,283.9 554.8,283.5 555.3,283.0 555.8,282.6 556.3,282.2 556.8,281.8 557.3,281.5 557.8,281.1 558.3,280.7 558.8,280.4 559.3,280.0 559.8,279.7 560.3,279.3 560.8,279.0 561.3,278.7 561.8,278.4 562.3,278.1 562.8,277.8 563.3,277.6 563.8,277.3 564.3,277.0 564.8,276.8 565.3,276.5 565.8,276.3 566.3,276.1 566.8,275.9 567.3,275.7 567.8,275.5 568.3,275.4 568.8,275.2 569.3,275.0 569.8,274.9 570.3,274.7 570.8,274.6 571.3,274.6 571.8,274.5 572.3,274.4 572.8,274.3 573.3,274.3 573.8,274.3 574.3,274.4 574.8,274.4 575.3,274.5 575.8,274.6 576.3,274.8 576.8,274.9 577.3,275.0 577.8,275.1 578.3,275.2 578.8,275.4 579.3,275.6 579.8,275.9 580.3,277.3 580.8,277.6 581.3,277.8 581.8,278.1 582.3,278.4 582.8,278.7 583.3,279.1 583.8,279.5 584.3,279.9 584.8,280.2 585.3,280.6 585.8,281.0 586.3,281.4 586.8,281.8 587.3,282.2 587.8,282.7 588.3,283.1 588.8,283.5 589.3,283.9 589.8,284.3 590.3,284.7 590.8,285.1 591.3,285.5 591.8,285.9 592.3,286.4 592.8,286.8 593.3,287.2 593.8,287.6 594.3,288.0 594.8,288.4 595.3,288.8 595.8,289.2 596.3,289.7 596.8,290.1 597.3,290.5 597.8,290.9 598.3,291.4 598.8,291.8 599.3,292.3 599.8,292.9 600.3,293.5 600.8,294.1 601.3,294.7 601.8,295.3 602.3,295.9 602.8,296.5 603.3,297.1 603.8,297.8 604.3,298.4 604.8,299.2 605.3,300.0 605.8,300.8 606.3,301.6 606.8,302.4 607.3,303.3 607.8,304.1 608.3,304.9 608.8,305.8 609.3,306.7 609.8,307.6 610.3,308.6 610.8,309.6 611.3,310.6 611.8,311.7 612.3,312.8 612.8,313.9 613.3,315.0 613.8,316.2 614.3,317.4 614.8,318.7 615.3,320.0 615.8,321.4 616.3,322.8 616.8,324.2 617.3,325.6 617.8,327.0 618.3,328.2 618.8,329.4 619.3,330.6 619.8,331.6 620.3,332.5 620.8,333.3 621.3,334.0 621.8,334.6 622.3,335.2 622.8,335.7 623.3,336.2 623.8,336.7 624.3,337.2 624.8,337.7 625.3,338.1 625.8,338.5 626.3,338.8 626.8,339.0 627.3,339.3 627.8,339.5 628.3,339.8 628.8,340.1 629.3,340.3 629.8,340.6 630.3,340.8 630.8,341.0 631.3,341.1 631.8,341.2 632.3,341.3 632.8,341.4 633.3,341.5 633.8,341.6 634.3,341.6 634.8,341.7 635.3,341.8 635.8,341.9 636.3,342.0 636.8,342.1 637.3,342.2 637.8,342.3 638.3,342.3 638.8,342.4 639.3,342.4 639.8,342.4 640.3,342.5 640.8,342.5 641.3,342.5 641.8,342.5 642.3,342.6 642.8,342.6 643.3,342.6 643.8,342.6 644.3,342.7 644.8,342.7 645.3,342.7 645.8,342.7 646.3,342.8 646.8,342.8 647.3,342.8 647.8,342.8 648.3,342.9 648.8,342.9 649.3,342.9 649.8,343.0 650.3,343.0 650.8,343.0 651.3,343.0 651.8,343.0 652.3,343.0 652.8,343.0 653.3,343.0 653.8,343.0 654.3,343.0 654.8,343.0 655.3,343.0 655.8,343.1 656.3,343.1 656.8,343.1 657.3,343.1 657.8,343.1 658.3,343.1 658.8,343.1 659.3,343.1 659.8,343.1 660.3,343.1 660.8,343.1 661.3,343.1 661.8,343.1 662.3,343.1 662.8,343.1 663.3,343.1 663.8,343.1 664.3,343.1 664.8,343.1 665.3,343.1 665.8,343.1 666.3,343.1 666.8,343.1 667.3,343.1 667.8,343.1 668.3,343.1 668.8,343.1 669.3,343.1 669.8,343.1 670.3,343.1 670.8,343.2 671.3,343.2 671.8,343.2 672.3,343.2 672.8,343.2 673.3,343.2" fill="none" stroke="#88ae88" stroke-width="1.8" stroke-linejoin="round" />
<polyline points="493.3,327.9 493.8,327.9 494.3,327.9 494.8,327.9 495.3,327.8 495.8,327.8 496.3,327.7 496.8,327.6 497.3,327.5 497.8,327.3 498.3,327.2 498.8,327.1 499.3,327.0 499.8,326.9 500.3,326.8 500.8,326.7 501.3,326.6 501.8,326.4 502.3,326.2 502.8,326.0 503.3,325.8 503.8,325.5 504.3,325.3 504.8,325.1 505.3,324.8 505.8,324.6 506.3,324.4 506.8,324.1 507.3,323.9 507.8,323.7 508.3,323.4 508.8,323.2 509.3,322.9 509.8,322.6 510.3,322.3 510.8,321.9 511.3,321.6 511.8,321.3 512.3,321.0 512.8,320.7 513.3,320.3 513.8,320.0 514.3,319.7 514.8,319.4 515.3,319.0 515.8,318.6 516.3,318.2 516.8,317.8 517.3,317.3 517.8,316.9 518.3,316.4 518.8,315.9 519.3,315.5 519.8,315.0 520.3,314.5 520.8,314.1 521.3,313.6 521.8,313.1 522.3,312.6 522.8,312.2 523.3,311.6 523.8,311.1 524.3,310.6 524.8,310.1 525.3,309.6 525.8,309.1 526.3,308.6 526.8,308.1 527.3,307.6 527.8,307.1 528.3,306.6 528.8,306.0 529.3,305.5 529.8,305.0 530.3,304.5 530.8,303.9 531.3,303.4 531.8,302.9 532.3,302.4 532.8,301.8 533.3,301.3 533.8,300.8 534.3,300.2 534.8,299.7 535.3,299.1 535.8,298.5 536.3,297.9 536.8,297.4 537.3,296.8 537.8,296.2 538.3,295.6 538.8,295.0 539.3,294.4 539.8,293.9 540.3,293.3 540.8,292.7 541.3,292.1 541.8,291.6 542.3,291.0 542.8,290.4 543.3,289.9 543.8,289.3 544.3,288.8 544.8,288.2 545.3,287.6 545.8,287.1 546.3,286.5 546.8,285.9 547.3,285.4 547.8,284.8 548.3,284.2 548.8,283.7 549.3,283.1 549.8,282.6 550.3,282.0 550.8,281.5 551.3,280.9 551.8,280.4 552.3,279.9 552.8,279.4 553.3,278.9 553.8,278.4 554.3,278.0 554.8,277.5 555.3,277.0 555.8,276.5 556.3,276.1 556.8,275.7 557.3,275.2 557.8,274.8 558.3,274.4 558.8,274.0 559.3,273.6 559.8,273.2 560.3,272.8 560.8,272.5 561.3,272.1 561.8,271.8 562.3,271.5 562.8,271.2 563.3,270.9 563.8,270.5 564.3,270.2 564.8,269.9 565.3,269.7 565.8,269.4 566.3,269.2 566.8,269.0 567.3,268.8 567.8,268.6 568.3,268.4 568.8,268.2 569.3,268.0 569.8,267.8 570.3,267.7 570.8,267.6 571.3,267.5 571.8,267.4 572.3,267.3 572.8,267.3 573.3,267.2 573.8,267.2 574.3,267.3 574.8,267.4 575.3,267.5 575.8,267.6 576.3,267.7 576.8,267.8 577.3,268.0 577.8,268.1 578.3,268.2 578.8,268.4 579.3,268.7 579.8,269.0 580.3,270.5 580.8,270.7 581.3,271.0 581.8,271.3 582.3,271.6 582.8,272.0 583.3,272.5 583.8,272.9 584.3,273.3 584.8,273.7 585.3,274.1 585.8,274.6 586.3,275.0 586.8,275.5 587.3,276.0 587.8,276.4 588.3,276.9 588.8,277.3 589.3,277.8 589.8,278.3 590.3,278.7 590.8,279.2 591.3,279.7 591.8,280.1 592.3,280.6 592.8,281.0 593.3,281.5 593.8,282.0 594.3,282.4 594.8,282.9 595.3,283.4 595.8,283.8 596.3,284.3 596.8,284.8 597.3,285.2 597.8,285.7 598.3,286.2 598.8,286.7 599.3,287.3 599.8,287.9 600.3,288.5 600.8,289.2 601.3,289.9 601.8,290.6 602.3,291.3 602.8,291.9 603.3,292.6 603.8,293.4 604.3,294.1 604.8,295.0 605.3,295.8 605.8,296.7 606.3,297.7 606.8,298.6 607.3,299.5 607.8,300.5 608.3,301.4 608.8,302.4 609.3,303.4 609.8,304.4 610.3,305.5 610.8,306.6 611.3,307.8 611.8,309.0 612.3,310.2 612.8,311.4 613.3,312.7 613.8,314.0 614.3,315.4 614.8,316.8 615.3,318.3 615.8,319.8 616.3,321.3 616.8,322.9 617.3,324.5 617.8,325.9 618.3,327.3 618.8,328.6 619.3,329.9 619.8,331.0 620.3,332.0 620.8,332.8 621.3,333.6 621.8,334.3 622.3,334.9 622.8,335.4 623.3,336.0 623.8,336.6 624.3,337.2 624.8,337.7 625.3,338.2 625.8,338.6 626.3,338.9 626.8,339.2 627.3,339.5 627.8,339.7 628.3,340.0 628.8,340.3 629.3,340.6 629.8,340.9 630.3,341.1 630.8,341.3 631.3,341.5 631.8,341.6 632.3,341.7 632.8,341.8 633.3,341.9 633.8,342.0 634.3,342.1 634.8,342.2 635.3,342.3 635.8,342.4 636.3,342.5 636.8,342.6 637.3,342.7 637.8,342.8 638.3,342.9 638.8,342.9 639.3,343.0 639.8,343.0 640.3,343.0 640.8,343.0 641.3,343.1 641.8,343.1 642.3,343.1 642.8,343.2 643.3,343.2 643.8,343.2 644.3,343.2 644.8,343.3 645.3,343.3 645.8,343.3 646.3,343.4 646.8,343.4 647.3,343.4 647.8,343.4 648.3,343.5 648.8,343.5 649.3,343.5 649.8,343.6 650.3,343.6 650.8,343.6 651.3,343.6 651.8,343.6 652.3,343.6 652.8,343.7 653.3,343.7 653.8,343.7 654.3,343.7 654.8,343.7 655.3,343.7 655.8,343.7 656.3,343.7 656.8,343.7 657.3,343.7 657.8,343.7 658.3,343.7 658.8,343.7 659.3,343.7 659.8,343.7 660.3,343.7 660.8,343.7 661.3,343.7 661.8,343.7 662.3,343.7 662.8,343.7 663.3,343.7 663.8,343.7 664.3,343.7 664.8,343.7 665.3,343.7 665.8,343.8 666.3,343.8 666.8,343.8 667.3,343.8 667.8,343.8 668.3,343.8 668.8,343.8 669.3,343.8 669.8,343.8 670.3,343.8 670.8,343.8 671.3,343.8 671.8,343.8 672.3,343.8 672.8,343.8 673.3,343.8" fill="none" stroke="#5e9c5c" stroke-width="1.8" stroke-linejoin="round" />
<polyline points="493.3,327.4 493.8,327.4 494.3,327.4 494.8,327.4 495.3,327.3 495.8,327.2 496.3,327.1 496.8,327.0 497.3,326.9 497.8,326.8 498.3,326.7 498.8,326.5 499.3,326.4 499.8,326.3 500.3,326.2 500.8,326.1 501.3,325.9 501.8,325.7 502.3,325.5 502.8,325.3 503.3,325.0 503.8,324.8 504.3,324.5 504.8,324.3 505.3,324.0 505.8,323.8 506.3,323.5 506.8,323.2 507.3,323.0 507.8,322.7 508.3,322.4 508.8,322.2 509.3,321.8 509.8,321.5 510.3,321.2 510.8,320.8 511.3,320.4 511.8,320.1 512.3,319.7 512.8,319.4 513.3,319.0 513.8,318.7 514.3,318.3 514.8,317.9 515.3,317.6 515.8,317.1 516.3,316.7 516.8,316.2 517.3,315.7 517.8,315.2 518.3,314.7 518.8,314.2 519.3,313.6 519.8,313.1 520.3,312.6 520.8,312.1 521.3,311.6 521.8,311.0 522.3,310.5 522.8,310.0 523.3,309.4 523.8,308.8 524.3,308.3 524.8,307.7 525.3,307.1 525.8,306.6 526.3,306.0 526.8,305.5 527.3,304.9 527.8,304.3 528.3,303.8 528.8,303.2 529.3,302.6 529.8,302.0 530.3,301.4 530.8,300.9 531.3,300.3 531.8,299.7 532.3,299.1 532.8,298.5 533.3,298.0 533.8,297.4 534.3,296.8 534.8,296.2 535.3,295.5 535.8,294.9 536.3,294.2 536.8,293.6 537.3,292.9 537.8,292.3 538.3,291.7 538.8,291.0 539.3,290.4 539.8,289.7 540.3,289.1 540.8,288.4 541.3,287.8 541.8,287.2 542.3,286.6 542.8,285.9 543.3,285.3 543.8,284.7 544.3,284.1 544.8,283.4 545.3,282.8 545.8,282.2 546.3,281.6 546.8,280.9 547.3,280.3 547.8,279.7 548.3,279.1 548.8,278.4 549.3,277.8 549.8,277.2 550.3,276.6 550.8,276.0 551.3,275.4 551.8,274.8 552.3,274.3 552.8,273.7 553.3,273.2 553.8,272.6 554.3,272.1 554.8,271.6 555.3,271.0 555.8,270.5 556.3,270.0 556.8,269.6 557.3,269.1 557.8,268.6 558.3,268.2 558.8,267.7 559.3,267.3 559.8,266.8 560.3,266.4 560.8,266.0 561.3,265.6 561.8,265.3 562.3,264.9 562.8,264.6 563.3,264.2 563.8,263.9 564.3,263.6 564.8,263.2 565.3,262.9 565.8,262.7 566.3,262.4 566.8,262.2 567.3,262.0 567.8,261.7 568.3,261.5 568.8,261.3 569.3,261.1 569.8,260.9 570.3,260.7 570.8,260.6 571.3,260.5 571.8,260.4 572.3,260.3 572.8,260.3 573.3,260.2 573.8,260.2 574.3,260.3 574.8,260.4 575.3,260.5 575.8,260.6 576.3,260.8 576.8,260.9 577.3,261.0 577.8,261.2 578.3,261.4 578.8,261.6 579.3,261.8 579.8,262.2 580.3,263.7 580.8,264.0 581.3,264.3 581.8,264.6 582.3,265.0 582.8,265.4 583.3,265.9 583.8,266.3 584.3,266.8 584.8,267.3 585.3,267.8 585.8,268.3 586.3,268.8 586.8,269.3 587.3,269.8 587.8,270.3 588.3,270.8 588.8,271.3 589.3,271.8 589.8,272.3 590.3,272.8 590.8,273.3 591.3,273.9 591.8,274.4 592.3,274.9 592.8,275.4 593.3,275.9 593.8,276.4 594.3,276.9 594.8,277.4 595.3,278.0 595.8,278.5 596.3,279.0 596.8,279.5 597.3,280.0 597.8,280.6 598.3,281.1 598.8,281.7 599.3,282.3 599.8,283.0 600.3,283.7 600.8,284.4 601.3,285.2 601.8,285.9 602.3,286.7 602.8,287.5 603.3,288.2 603.8,289.0 604.3,289.9 604.8,290.8 605.3,291.8 605.8,292.8 606.3,293.8 606.8,294.8 607.3,295.9 607.8,296.9 608.3,297.9 608.8,299.0 609.3,300.1 609.8,301.2 610.3,302.5 610.8,303.7 611.3,305.0 611.8,306.3 612.3,307.6 612.8,309.0 613.3,310.4 613.8,311.8 614.3,313.4 614.8,314.9 615.3,316.5 615.8,318.2 616.3,319.9 616.8,321.6 617.3,323.3 617.8,324.9 618.3,326.5 618.8,327.9 619.3,329.2 619.8,330.4 620.3,331.5 620.8,332.4 621.3,333.3 621.8,334.0 622.3,334.6 622.8,335.3 623.3,335.9 623.8,336.5 624.3,337.2 624.8,337.8 625.3,338.3 625.8,338.7 626.3,339.1 626.8,339.4 627.3,339.7 627.8,340.0 628.3,340.3 628.8,340.7 629.3,341.0 629.8,341.3 630.3,341.5 630.8,341.7 631.3,341.9 631.8,342.0 632.3,342.1 632.8,342.3 633.3,342.4 633.8,342.5 634.3,342.6 634.8,342.7 635.3,342.8 635.8,342.9 636.3,343.1 636.8,343.2 637.3,343.3 637.8,343.4 638.3,343.4 638.8,343.5 639.3,343.5 639.8,343.6 640.3,343.6 640.8,343.6 641.3,343.7 641.8,343.7 642.3,343.7 642.8,343.8 643.3,343.8 643.8,343.8 644.3,343.9 644.8,343.9 645.3,343.9 645.8,344.0 646.3,344.0 646.8,344.0 647.3,344.1 647.8,344.1 648.3,344.1 648.8,344.2 649.3,344.2 649.8,344.2 650.3,344.3 650.8,344.3 651.3,344.3 651.8,344.3 652.3,344.3 652.8,344.3 653.3,344.3 653.8,344.3 654.3,344.3 654.8,344.3 655.3,344.3 655.8,344.3 656.3,344.3 656.8,344.4 657.3,344.4 657.8,344.4 658.3,344.4 658.8,344.4 659.3,344.4 659.8,344.4 660.3,344.4 660.8,344.4 661.3,344.4 661.8,344.4 662.3,344.4 662.8,344.4 663.3,344.4 663.8,344.4 664.3,344.4 664.8,344.4 665.3,344.4 665.8,344.4 666.3,344.4 666.8,344.4 667.3,344.4 667.8,344.4 668.3,344.5 668.8,344.5 669.3,344.5 669.8,344.5 670.3,344.5 670.8,344.5 671.3,344.5 671.8,344.5 672.3,344.5 672.8,344.5 673.3,344.5" fill="none" stroke="#3f8b4c" stroke-width="1.8" stroke-linejoin="round" />
<polyline points="493.3,326.9 493.8,326.9 494.3,326.9 494.8,326.9 495.3,326.8 495.8,326.7 496.3,326.5 496.8,326.4 497.3,326.3 497.8,326.1 498.3,326.0 498.8,325.9 499.3,325.7 499.8,325.6 500.3,325.4 500.8,325.3 501.3,325.1 501.8,324.9 502.3,324.6 502.8,324.4 503.3,324.1 503.8,323.7 504.3,323.4 504.8,323.1 505.3,322.8 505.8,322.5 506.3,322.2 506.8,321.9 507.3,321.6 507.8,321.3 508.3,321.0 508.8,320.6 509.3,320.2 509.8,319.8 510.3,319.4 510.8,319.0 511.3,318.6 511.8,318.1 512.3,317.7 512.8,317.3 513.3,316.9 513.8,316.4 514.3,316.0 514.8,315.6 515.3,315.1 515.8,314.6 516.3,314.1 516.8,313.5 517.3,312.9 517.8,312.3 518.3,311.6 518.8,311.0 519.3,310.4 519.8,309.8 520.3,309.2 520.8,308.6 521.3,308.0 521.8,307.3 522.3,306.7 522.8,306.0 523.3,305.3 523.8,304.7 524.3,304.0 524.8,303.3 525.3,302.7 525.8,302.0 526.3,301.3 526.8,300.6 527.3,300.0 527.8,299.3 528.3,298.6 528.8,297.9 529.3,297.2 529.8,296.5 530.3,295.8 530.8,295.1 531.3,294.5 531.8,293.8 532.3,293.1 532.8,292.4 533.3,291.7 533.8,291.0 534.3,290.2 534.8,289.5 535.3,288.8 535.8,288.0 536.3,287.2 536.8,286.4 537.3,285.7 537.8,284.9 538.3,284.1 538.8,283.3 539.3,282.6 539.8,281.8 540.3,281.0 540.8,280.3 541.3,279.5 541.8,278.8 542.3,278.0 542.8,277.3 543.3,276.5 543.8,275.8 544.3,275.0 544.8,274.3 545.3,273.5 545.8,272.8 546.3,272.1 546.8,271.3 547.3,270.6 547.8,269.8 548.3,269.1 548.8,268.3 549.3,267.6 549.8,266.8 550.3,266.1 550.8,265.4 551.3,264.7 551.8,264.0 552.3,263.3 552.8,262.7 553.3,262.0 553.8,261.4 554.3,260.7 554.8,260.1 555.3,259.5 555.8,258.8 556.3,258.3 556.8,257.7 557.3,257.1 557.8,256.6 558.3,256.1 558.8,255.5 559.3,255.0 559.8,254.5 560.3,253.9 560.8,253.5 561.3,253.0 561.8,252.6 562.3,252.2 562.8,251.7 563.3,251.3 563.8,250.9 564.3,250.5 564.8,250.1 565.3,249.8 565.8,249.4 566.3,249.2 566.8,248.9 567.3,248.6 567.8,248.3 568.3,248.1 568.8,247.8 569.3,247.6 569.8,247.3 570.3,247.2 570.8,247.0 571.3,246.9 571.8,246.8 572.3,246.7 572.8,246.6 573.3,246.5 573.8,246.5 574.3,246.6 574.8,246.7 575.3,246.9 575.8,247.0 576.3,247.2 576.8,247.3 577.3,247.5 577.8,247.7 578.3,247.9 578.8,248.1 579.3,248.5 579.8,248.8 580.3,250.4 580.8,250.8 581.3,251.1 581.8,251.5 582.3,252.0 582.8,252.5 583.3,253.1 583.8,253.6 584.3,254.2 584.8,254.7 585.3,255.3 585.8,255.9 586.3,256.5 586.8,257.1 587.3,257.7 587.8,258.3 588.3,258.9 588.8,259.5 589.3,260.2 589.8,260.8 590.3,261.4 590.8,262.0 591.3,262.6 591.8,263.2 592.3,263.8 592.8,264.4 593.3,265.0 593.8,265.6 594.3,266.3 594.8,266.9 595.3,267.5 595.8,268.1 596.3,268.7 596.8,269.4 597.3,270.0 597.8,270.6 598.3,271.3 598.8,271.9 599.3,272.7 599.8,273.5 600.3,274.4 600.8,275.3 601.3,276.2 601.8,277.1 602.3,278.0 602.8,278.9 603.3,279.8 603.8,280.8 604.3,281.8 604.8,282.9 605.3,284.0 605.8,285.2 606.3,286.5 606.8,287.7 607.3,288.9 607.8,290.2 608.3,291.4 608.8,292.7 609.3,294.0 609.8,295.3 610.3,296.8 610.8,298.3 611.3,299.8 611.8,301.4 612.3,302.9 612.8,304.6 613.3,306.2 613.8,307.9 614.3,309.7 614.8,311.5 615.3,313.4 615.8,315.3 616.3,317.3 616.8,319.2 617.3,321.1 617.8,323.0 618.3,324.6 618.8,326.2 619.3,327.7 619.8,329.0 620.3,330.2 620.8,331.2 621.3,332.2 621.8,333.0 622.3,333.7 622.8,334.4 623.3,335.1 623.8,335.8 624.3,336.5 624.8,337.3 625.3,337.9 625.8,338.4 626.3,338.8 626.8,339.1 627.3,339.5 627.8,339.9 628.3,340.3 628.8,340.7 629.3,341.0 629.8,341.4 630.3,341.7 630.8,342.0 631.3,342.1 631.8,342.3 632.3,342.4 632.8,342.6 633.3,342.7 633.8,342.8 634.3,343.0 634.8,343.1 635.3,343.3 635.8,343.4 636.3,343.5 636.8,343.7 637.3,343.8 637.8,343.9 638.3,344.0 638.8,344.1 639.3,344.1 639.8,344.2 640.3,344.2 640.8,344.2 641.3,344.3 641.8,344.3 642.3,344.4 642.8,344.4 643.3,344.4 643.8,344.5 644.3,344.5 644.8,344.5 645.3,344.6 645.8,344.6 646.3,344.7 646.8,344.7 647.3,344.7 647.8,344.8 648.3,344.8 648.8,344.9 649.3,344.9 649.8,344.9 650.3,345.0 650.8,345.0 651.3,345.0 651.8,345.0 652.3,345.0 652.8,345.0 653.3,345.0 653.8,345.1 654.3,345.1 654.8,345.1 655.3,345.1 655.8,345.1 656.3,345.1 656.8,345.1 657.3,345.1 657.8,345.1 658.3,345.1 658.8,345.1 659.3,345.1 659.8,345.1 660.3,345.1 660.8,345.1 661.3,345.1 661.8,345.1 662.3,345.1 662.8,345.1 663.3,345.1 663.8,345.2 664.3,345.2 664.8,345.2 665.3,345.2 665.8,345.2 666.3,345.2 666.8,345.2 667.3,345.2 667.8,345.2 668.3,345.2 668.8,345.2 669.3,345.2 669.8,345.2 670.3,345.2 670.8,345.2 671.3,345.2 671.8,345.2 672.3,345.2 672.8,345.2 673.3,345.3" fill="none" stroke="#4f7c40" stroke-width="1.8" stroke-linejoin="round" />
<polyline points="493.3,324.0 493.8,324.0 494.3,323.8 494.8,323.7 495.3,323.5 495.8,323.3 496.3,323.2 496.8,323.0 497.3,322.8 497.8,322.7 498.3,322.5 498.8,322.3 499.3,322.1 499.8,321.9 500.3,321.7 500.8,321.4 501.3,321.0 501.8,320.7 502.3,320.3 502.8,319.9 503.3,319.5 503.8,319.2 504.3,318.8 504.8,318.4 505.3,318.0 505.8,317.6 506.3,317.3 506.8,316.9 507.3,316.5 507.8,316.0 508.3,315.5 508.8,315.0 509.3,314.5 509.8,314.0 510.3,313.4 510.8,312.9 511.3,312.4 511.8,311.9 512.3,311.3 512.8,310.8 513.3,310.3 513.8,309.7 514.3,309.1 514.8,308.5 515.3,307.8 515.8,307.0 516.3,306.3 516.8,305.5 517.3,304.8 517.8,304.0 518.3,303.3 518.8,302.5 519.3,301.8 519.8,301.0 520.3,300.2 520.8,299.4 521.3,298.6 521.8,297.8 522.3,297.0 522.8,296.2 523.3,295.3 523.8,294.5 524.3,293.7 524.8,292.9 525.3,292.0 525.8,291.2 526.3,290.4 526.8,289.5 527.3,288.7 527.8,287.9 528.3,287.0 528.8,286.2 529.3,285.3 529.8,284.5 530.3,283.6 530.8,282.8 531.3,281.9 531.8,281.1 532.3,280.2 532.8,279.3 533.3,278.4 533.8,277.5 534.3,276.6 534.8,275.6 535.3,274.7 535.8,273.7 536.3,272.8 536.8,271.8 537.3,270.9 537.8,269.9 538.3,269.0 538.8,268.0 539.3,267.1 539.8,266.2 540.3,265.2 540.8,264.3 541.3,263.4 541.8,262.5 542.3,261.6 542.8,260.7 543.3,259.8 543.8,258.8 544.3,257.9 544.8,257.0 545.3,256.1 545.8,255.2 546.3,254.3 546.8,253.4 547.3,252.4 547.8,251.5 548.3,250.6 548.8,249.7 549.3,248.8 549.8,247.9 550.3,247.1 550.8,246.3 551.3,245.5 551.8,244.7 552.3,243.9 552.8,243.1 553.3,242.3 553.8,241.5 554.3,240.8 554.8,240.1 555.3,239.4 555.8,238.7 556.3,238.0 556.8,237.4 557.3,236.7 557.8,236.0 558.3,235.4 558.8,234.7 559.3,234.1 559.8,233.6 560.3,233.0 560.8,232.5 561.3,232.0 561.8,231.5 562.3,231.0 562.8,230.5 563.3,230.1 563.8,229.6 564.3,229.2 564.8,228.8 565.3,228.5 565.8,228.1 566.3,227.8 566.8,227.5 567.3,227.2 567.8,226.9 568.3,226.6 568.8,226.3 569.3,226.2 569.8,226.0 570.3,225.9 570.8,225.7 571.3,225.6 571.8,225.5 572.3,225.5 572.8,225.6 573.3,225.7 573.8,225.9 574.3,226.1 574.8,226.3 575.3,226.5 575.8,226.7 576.3,226.9 576.8,227.1 577.3,227.4 577.8,227.8 578.3,228.3 578.8,228.8 579.3,229.2 579.8,229.6 580.3,232.1 580.8,232.6 581.3,233.3 581.8,233.9 582.3,234.6 582.8,235.3 583.3,236.0 583.8,236.7 584.3,237.4 584.8,238.1 585.3,238.9 585.8,239.6 586.3,240.4 586.8,241.1 587.3,241.9 587.8,242.6 588.3,243.4 588.8,244.1 589.3,244.9 589.8,245.6 590.3,246.4 590.8,247.1 591.3,247.9 591.8,248.6 592.3,249.4 592.8,250.1 593.3,250.9 593.8,251.6 594.3,252.4 594.8,253.1 595.3,253.9 595.8,254.7 596.3,255.4 596.8,256.2 597.3,257.0 597.8,257.9 598.3,258.9 598.8,260.0 599.3,261.1 599.8,262.2 600.3,263.3 600.8,264.4 601.3,265.5 601.8,266.6 602.3,267.8 602.8,269.0 603.3,270.3 603.8,271.7 604.3,273.2 604.8,274.7 605.3,276.2 605.8,277.7 606.3,279.2 606.8,280.7 607.3,282.3 607.8,283.8 608.3,285.5 608.8,287.2 609.3,289.0 609.8,290.8 610.3,292.7 610.8,294.5 611.3,296.4 611.8,298.2 612.3,300.2 612.8,302.1 613.3,304.1 613.8,306.1 614.3,308.1 614.8,310.1 615.3,312.0 615.8,313.9 616.3,315.7 616.8,317.5 617.3,319.2 617.8,320.9 618.3,322.5 618.8,324.2 619.3,325.8 619.8,327.3 620.3,328.6 620.8,329.9 621.3,331.1 621.8,332.3 622.3,333.4 622.8,334.6 623.3,335.6 623.8,336.6 624.3,337.3 624.8,337.9 625.3,338.5 625.8,339.0 626.3,339.5 626.8,340.0 627.3,340.5 627.8,341.0 628.3,341.4 628.8,341.8 629.3,342.2 629.8,342.4 630.3,342.6 630.8,342.8 631.3,343.0 631.8,343.1 632.3,343.3 632.8,343.5 633.3,343.6 633.8,343.8 634.3,344.0 634.8,344.1 635.3,344.3 635.8,344.5 636.3,344.6 636.8,344.7 637.3,344.8 637.8,344.9 638.3,344.9 638.8,345.0 639.3,345.0 639.8,345.1 640.3,345.1 640.8,345.2 641.3,345.2 641.8,345.3 642.3,345.3 642.8,345.4 643.3,345.4 643.8,345.4 644.3,345.5 644.8,345.5 645.3,345.6 645.8,345.6 646.3,345.7 646.8,345.7 647.3,345.8 647.8,345.8 648.3,345.9 648.8,345.9 649.3,346.0 649.8,346.0 650.3,346.0 650.8,346.0 651.3,346.0 651.8,346.0 652.3,346.0 652.8,346.0 653.3,346.0 653.8,346.0 654.3,346.1 654.8,346.1 655.3,346.1 655.8,346.1 656.3,346.1 656.8,346.1 657.3,346.1 657.8,346.1 658.3,346.1 658.8,346.1 659.3,346.1 659.8,346.1 660.3,346.1 660.8,346.1 661.3,346.1 661.8,346.1 662.3,346.2 662.8,346.2 663.3,346.2 663.8,346.2 664.3,346.2 664.8,346.2 665.3,346.2 665.8,346.2 666.3,346.2 666.8,346.2 667.3,346.2 667.8,346.2 668.3,346.2 668.8,346.2 669.3,346.2 669.8,346.2 670.3,346.3 670.8,346.3 671.3,346.3 671.8,346.3 672.3,346.3 672.8,346.3 673.3,346.3" fill="none" stroke="#2a8656" stroke-width="2.2" stroke-linejoin="round" />
<text x="653.80" y="215.40" font-size="7.1" text-anchor="middle" font-weight="normal" fill="#1a1a1a" >0s</text>
<line x1="654.0" y1="223.20000000000002" x2="654.0" y2="230.6" stroke="#000" stroke-width="1.2"/>
<path d="M654.0,217.4 L656.9,223.70000000000002 L651.1,223.70000000000002Z" fill="#000"/>
<path d="M654.0,236.4 L656.9,230.1 L651.1,230.1Z" fill="#000"/>
<text x="654.00" y="244.00" font-size="7.2" text-anchor="middle" font-weight="normal" fill="#1a1a1a" >660 s</text>
<text x="493.40" y="15.00" font-size="17.5" text-anchor="start" font-weight="bold" fill="#000" >C</text>
<defs>
<linearGradient id="temg" x1="510" y1="14" x2="695.1" y2="96.4" gradientUnits="userSpaceOnUse">
<stop offset="0" stop-color="#1d1d1d"/>
<stop offset="0.5" stop-color="#464646"/>
<stop offset="1" stop-color="#919191"/>
</linearGradient>
<filter id="grain" x="0" y="0" width="100%" height="100%">
<feTurbulence type="fractalNoise" baseFrequency="0.8" numOctaves="2" seed="3" result="n"/>
<feColorMatrix in="n" type="matrix" values="0 0 0 0 1  0 0 0 0 1  0 0 0 0 1  0 0 0 1.5 -0.9" result="w"/>
<feComposite in="w" in2="SourceGraphic" operator="in"/>
</filter>
<filter id="soft" x="-50%" y="-50%" width="200%" height="200%"><feGaussianBlur stdDeviation="0.55"/></filter>
<filter id="soft2" x="-50%" y="-50%" width="200%" height="200%"><feGaussianBlur stdDeviation="1.0"/></filter>
<filter id="ptex" x="0" y="0" width="100%" height="100%">
<feTurbulence type="fractalNoise" baseFrequency="0.35" numOctaves="2" seed="7" result="n"/>
<feColorMatrix in="n" type="matrix" values="0 0 0 0 1  0 0 0 0 1  0 0 0 0 1  0 0 0 1.2 -0.45" result="w"/>
<feComposite in="w" in2="SourceGraphic" operator="in"/>
</filter>
</defs>
<rect x="509.6" y="13.5" width="167.40" height="123.30" fill="url(#temg)"/>
<rect x="509.6" y="13.5" width="167.40" height="123.30" fill="#fff" filter="url(#grain)" opacity="0.22"/>
<circle cx="543" cy="68.9" r="4.10" fill="#1a1a1a" opacity="0.35" filter="url(#soft2)"/>
<circle cx="543" cy="68.9" r="2.50" fill="#cfcfcf" filter="url(#soft)"/>
<circle cx="570.3" cy="58.5" r="3.00" fill="#1a1a1a" opacity="0.35" filter="url(#soft2)"/>
<circle cx="570.3" cy="58.5" r="1.40" fill="#cfcfcf" filter="url(#soft)"/>
<circle cx="598.3" cy="73.5" r="4.00" fill="#1a1a1a" opacity="0.35" filter="url(#soft2)"/>
<circle cx="598.3" cy="73.5" r="2.40" fill="#cfcfcf" filter="url(#soft)"/>
<circle cx="635.9" cy="78.2" r="3.90" fill="#1a1a1a" opacity="0.35" filter="url(#soft2)"/>
<circle cx="635.9" cy="78.2" r="2.30" fill="#cfcfcf" filter="url(#soft)"/>
<circle cx="522.7" cy="88" r="2.80" fill="#1a1a1a" opacity="0.35" filter="url(#soft2)"/>
<circle cx="522.7" cy="88" r="1.20" fill="#cfcfcf" filter="url(#soft)"/>
<circle cx="519.8" cy="103.7" r="3.30" fill="#1a1a1a" opacity="0.35" filter="url(#soft2)"/>
<circle cx="519.8" cy="103.7" r="1.70" fill="#cfcfcf" filter="url(#soft)"/>
<circle cx="586.4" cy="115.7" r="4.50" fill="#1a1a1a" opacity="0.35" filter="url(#soft2)"/>
<circle cx="586.4" cy="115.7" r="2.90" fill="#cfcfcf" filter="url(#soft)"/>
<circle cx="647.3" cy="109.5" r="5.00" fill="#1a1a1a" opacity="0.35" filter="url(#soft2)"/>
<circle cx="647.3" cy="109.5" r="3.40" fill="#cfcfcf" filter="url(#soft)"/>
<rect x="620.0" y="13.3" width="57.20" height="57.00" fill="#232323" stroke="#3a2420" stroke-width="0.9"/>
<rect x="620.5" y="13.8" width="56.20" height="56.00" fill="#fff" filter="url(#grain)" opacity="0.18"/>
<circle cx="648.8" cy="41.8" r="15.5" fill="#101010" opacity="0.6" filter="url(#soft2)"/>
<clipPath id="pc"><circle cx="648.8" cy="41.8" r="11.6"/></clipPath>
<circle cx="648.8" cy="41.8" r="12.1" fill="#bebebe" filter="url(#soft)"/>
<rect x="636" y="29" width="26" height="26" fill="#fff" filter="url(#ptex)" opacity="0.35" clip-path="url(#pc)"/>
<circle cx="643.2" cy="32.8" r="1.2" fill="#e8e8e8" filter="url(#soft)"/>
<text x="666.4" y="65.6" font-size="5.2" font-weight="bold" fill="#f0f0f0" text-anchor="middle">100 nm</text>
<rect x="666.0" y="67.7" width="8.6" height="1.5" fill="#f4f4f4"/>
<text x="664.2" y="130.8" font-size="5.2" font-weight="bold" fill="#f0f0f0" text-anchor="middle">500 nm</text>
<rect x="663.1" y="132.4" width="9.6" height="1.6" fill="#f4f4f4"/>
<rect x="536.6" y="62.7" width="12.9" height="12.3" stroke="#d6d6d6" stroke-width="1.15" stroke-dasharray="1.9,1.3" fill="none"/>
<line x1="549.5" y1="62.7" x2="620" y2="13.4" stroke="#d6d6d6" stroke-width="1.15" stroke-dasharray="1.9,1.3" fill="none"/>
<line x1="549.5" y1="75.0" x2="620" y2="70.3" stroke="#d6d6d6" stroke-width="1.15" stroke-dasharray="1.9,1.3" fill="none"/>
</svg>
</body></html>
